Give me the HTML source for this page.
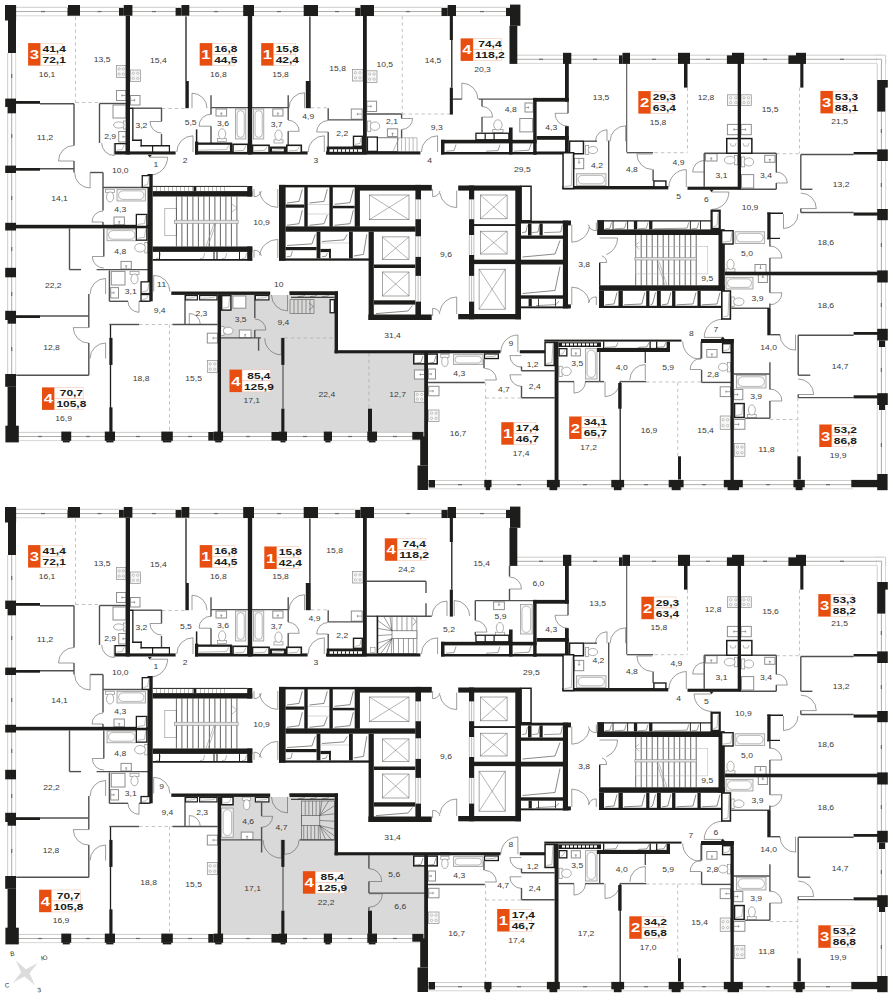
<!DOCTYPE html>
<html><head><meta charset="utf-8"><title>plan</title>
<style>
html,body{margin:0;padding:0;background:#fff}
svg{display:block}
text{font-family:"Liberation Sans",sans-serif}
</style></head><body>
<svg width="893" height="1000" viewBox="0 0 893 1000">
<rect x="0" y="0" width="893" height="1000" fill="#fff"/>
<g><path d="M219 294.9 L336 294.9 L336 351.5 L426 351.5 L426 432.5 L219 432.5 Z" fill="#d9d9d9" stroke="none" stroke-width="0"/>
<path d="M156 258.6 L159.5 258 L160.6 253" fill="none" stroke="#8e8e8d" stroke-width="0.6"/>
<path d="M200 258.6 L203.5 258 L204.6 253" fill="none" stroke="#8e8e8d" stroke-width="0.6"/>
<path d="M222 258.6 L225.5 258 L226.6 253" fill="none" stroke="#8e8e8d" stroke-width="0.6"/>
<path d="M242 258.6 L245.5 258 L246.6 253" fill="none" stroke="#8e8e8d" stroke-width="0.6"/>
<rect x="164.8" y="208.6" width="11.6" height="27.1" fill="none" stroke="#8e8e8d" stroke-width="0.6"/>
<line x1="176.4" y1="196.5" x2="176.4" y2="246.5" stroke="#4a4a49" stroke-width="0.85"/>
<line x1="181.9" y1="196.5" x2="181.9" y2="246.5" stroke="#4a4a49" stroke-width="0.85"/>
<line x1="187.4" y1="196.5" x2="187.4" y2="246.5" stroke="#4a4a49" stroke-width="0.85"/>
<line x1="192.9" y1="196.5" x2="192.9" y2="246.5" stroke="#4a4a49" stroke-width="0.85"/>
<line x1="198.4" y1="196.5" x2="198.4" y2="246.5" stroke="#4a4a49" stroke-width="0.85"/>
<line x1="203.9" y1="196.5" x2="203.9" y2="246.5" stroke="#4a4a49" stroke-width="0.85"/>
<line x1="209.4" y1="196.5" x2="209.4" y2="246.5" stroke="#4a4a49" stroke-width="0.85"/>
<line x1="214.9" y1="196.5" x2="214.9" y2="246.5" stroke="#4a4a49" stroke-width="0.85"/>
<line x1="220.4" y1="196.5" x2="220.4" y2="246.5" stroke="#4a4a49" stroke-width="0.85"/>
<line x1="225.9" y1="196.5" x2="225.9" y2="246.5" stroke="#4a4a49" stroke-width="0.85"/>
<line x1="231.4" y1="196.5" x2="231.4" y2="246.5" stroke="#4a4a49" stroke-width="0.85"/>
<line x1="236.9" y1="196.5" x2="236.9" y2="246.5" stroke="#4a4a49" stroke-width="0.85"/>
<rect x="174.3" y="220.2" width="63.9" height="3.1" fill="#e3e3e3" stroke="#8e8e8d" stroke-width="0.6"/>
<line x1="206" y1="246.5" x2="214" y2="223.3" stroke="#8e8e8d" stroke-width="0.6"/>
<line x1="208" y1="246.5" x2="216" y2="223.3" stroke="#8e8e8d" stroke-width="0.6"/>
<path d="M232 204 L236.9 208 L232 212" fill="none" stroke="#8e8e8d" stroke-width="0.6"/>
<path d="M287 203 L299 201.4 L302.3 189.3" fill="none" stroke="#3a3a39" stroke-width="0.6"/>
<path d="M309.5 203 L324 201.4 L327.3 189.3" fill="none" stroke="#3a3a39" stroke-width="0.6"/>
<path d="M334.5 204.3 L350 202.7 L353.3 189.3" fill="none" stroke="#3a3a39" stroke-width="0.6"/>
<path d="M287 225.3 L299 223.7 L302.3 210.3" fill="none" stroke="#3a3a39" stroke-width="0.6"/>
<path d="M309.5 225.3 L324 223.7 L327.3 215" fill="none" stroke="#3a3a39" stroke-width="0.6"/>
<path d="M334.5 225.3 L350 223.7 L353.3 210.3" fill="none" stroke="#3a3a39" stroke-width="0.6"/>
<path d="M287 245.5 L312 243.9 L315.3 234.3" fill="none" stroke="#3a3a39" stroke-width="0.6"/>
<path d="M322 241.5 L344 239.9 L347.3 234.3" fill="none" stroke="#3a3a39" stroke-width="0.6"/>
<path d="M353.8 256 L363.5 254.4 L366.8 234.3" fill="none" stroke="#3a3a39" stroke-width="0.6"/>
<path d="M286.5 256.8 L291 256.2 L292.3 251" fill="none" stroke="#3a3a39" stroke-width="0.5"/>
<path d="M322 256.8 L326 256.2 L327.3 253.2" fill="none" stroke="#3a3a39" stroke-width="0.5"/>
<rect x="369.4" y="195" width="39.6" height="24.7" fill="none" stroke="#6a6a69" stroke-width="0.6"/>
<line x1="369.4" y1="195" x2="409" y2="219.7" stroke="#6a6a69" stroke-width="0.5"/>
<line x1="369.4" y1="219.7" x2="409" y2="195" stroke="#6a6a69" stroke-width="0.5"/>
<rect x="382.3" y="236.9" width="26.7" height="22.8" fill="none" stroke="#6a6a69" stroke-width="0.6"/>
<line x1="382.3" y1="236.9" x2="409" y2="259.7" stroke="#6a6a69" stroke-width="0.5"/>
<line x1="382.3" y1="259.7" x2="409" y2="236.9" stroke="#6a6a69" stroke-width="0.5"/>
<rect x="382.3" y="272" width="26.7" height="24" fill="none" stroke="#6a6a69" stroke-width="0.6"/>
<line x1="382.3" y1="272" x2="409" y2="296" stroke="#6a6a69" stroke-width="0.5"/>
<line x1="382.3" y1="296" x2="409" y2="272" stroke="#6a6a69" stroke-width="0.5"/>
<path d="M376 313.6 L408 311 L412.5 305.5" fill="none" stroke="#3a3a39" stroke-width="0.6"/>
<rect x="480.4" y="195" width="26.7" height="23.8" fill="none" stroke="#6a6a69" stroke-width="0.6"/>
<line x1="480.4" y1="195" x2="507.1" y2="218.8" stroke="#6a6a69" stroke-width="0.5"/>
<line x1="480.4" y1="218.8" x2="507.1" y2="195" stroke="#6a6a69" stroke-width="0.5"/>
<rect x="480.4" y="231.2" width="26.7" height="22.8" fill="none" stroke="#6a6a69" stroke-width="0.6"/>
<line x1="480.4" y1="231.2" x2="507.1" y2="254" stroke="#6a6a69" stroke-width="0.5"/>
<line x1="480.4" y1="254" x2="507.1" y2="231.2" stroke="#6a6a69" stroke-width="0.5"/>
<rect x="479.1" y="269.2" width="26.1" height="40" fill="none" stroke="#6a6a69" stroke-width="0.6"/>
<line x1="479.1" y1="269.2" x2="505.2" y2="309.2" stroke="#6a6a69" stroke-width="0.5"/>
<line x1="479.1" y1="309.2" x2="505.2" y2="269.2" stroke="#6a6a69" stroke-width="0.5"/>
<path d="M522.5 198 L529 196.8 L530 190" fill="none" stroke="#3a3a39" stroke-width="0.5"/>
<path d="M522.5 257 L555 254 L560 240.5" fill="none" stroke="#3a3a39" stroke-width="0.6"/>
<path d="M522.5 293.5 L555 290.5 L560 266.5" fill="none" stroke="#3a3a39" stroke-width="0.6"/>
<path d="M522.1 232.6 L526 232 L527.4 225" fill="none" stroke="#3a3a39" stroke-width="0.5"/>
<path d="M531.9 232.6 L538 232 L539.4 225" fill="none" stroke="#3a3a39" stroke-width="0.5"/>
<path d="M544.1 232.6 L560.8 232 L562.2 225" fill="none" stroke="#3a3a39" stroke-width="0.5"/>
<path d="M536 305.6 L556 304.6 L559 301" fill="none" stroke="#3a3a39" stroke-width="0.5"/>
<path d="M605.1 228.8 L609.9 228.2 L611.5 222.5" fill="none" stroke="#3a3a39" stroke-width="0.5"/>
<path d="M614.6 228.8 L624.6 228.2 L626.2 222.5" fill="none" stroke="#3a3a39" stroke-width="0.5"/>
<path d="M638.1 228.8 L646.4 228.2 L648 222.5" fill="none" stroke="#3a3a39" stroke-width="0.5"/>
<path d="M653.6 228.8 L687.1 228.2 L688.7 222.5" fill="none" stroke="#3a3a39" stroke-width="0.5"/>
<path d="M691.6 228.8 L697.2 228.2 L698.8 222.5" fill="none" stroke="#3a3a39" stroke-width="0.5"/>
<path d="M605.3 304.8 L614 304 L617 292.5" fill="none" stroke="#3a3a39" stroke-width="0.6"/>
<path d="M624.1 304.8 L641.8 304 L644.8 292.5" fill="none" stroke="#3a3a39" stroke-width="0.6"/>
<path d="M650.6 304.8 L652.5 304 L655.5 292.5" fill="none" stroke="#3a3a39" stroke-width="0.6"/>
<path d="M662.1 304.8 L667.8 304 L670.8 292.5" fill="none" stroke="#3a3a39" stroke-width="0.6"/>
<path d="M676.6 304.8 L693 304 L696 292.5" fill="none" stroke="#3a3a39" stroke-width="0.6"/>
<path d="M701.8 304.8 L717 304 L720 292.5" fill="none" stroke="#3a3a39" stroke-width="0.6"/>
<line x1="635.7" y1="235" x2="635.7" y2="285.3" stroke="#4a4a49" stroke-width="0.85"/>
<line x1="641.2" y1="235" x2="641.2" y2="285.3" stroke="#4a4a49" stroke-width="0.85"/>
<line x1="646.7" y1="235" x2="646.7" y2="285.3" stroke="#4a4a49" stroke-width="0.85"/>
<line x1="652.2" y1="235" x2="652.2" y2="285.3" stroke="#4a4a49" stroke-width="0.85"/>
<line x1="657.7" y1="235" x2="657.7" y2="285.3" stroke="#4a4a49" stroke-width="0.85"/>
<line x1="663.2" y1="235" x2="663.2" y2="285.3" stroke="#4a4a49" stroke-width="0.85"/>
<line x1="668.7" y1="235" x2="668.7" y2="285.3" stroke="#4a4a49" stroke-width="0.85"/>
<line x1="674.2" y1="235" x2="674.2" y2="285.3" stroke="#4a4a49" stroke-width="0.85"/>
<line x1="679.7" y1="235" x2="679.7" y2="285.3" stroke="#4a4a49" stroke-width="0.85"/>
<line x1="685.2" y1="235" x2="685.2" y2="285.3" stroke="#4a4a49" stroke-width="0.85"/>
<line x1="690.7" y1="235" x2="690.7" y2="285.3" stroke="#4a4a49" stroke-width="0.85"/>
<line x1="696.2" y1="235" x2="696.2" y2="285.3" stroke="#4a4a49" stroke-width="0.85"/>
<rect x="635.7" y="246.4" width="72.1" height="27.5" fill="none" stroke="#b0b0af" stroke-width="0.5"/>
<rect x="634.8" y="257.7" width="61.7" height="2.3" fill="#e3e3e3" stroke="#8e8e8d" stroke-width="0.6"/>
<line x1="657" y1="261.6" x2="665" y2="285.3" stroke="#8e8e8d" stroke-width="0.6"/>
<line x1="659" y1="261.6" x2="667" y2="285.3" stroke="#8e8e8d" stroke-width="0.6"/>
<path d="M639.3 242 L635.3 245.4 L639.3 249.5" fill="none" stroke="#8e8e8d" stroke-width="0.6"/>
<path d="M446 151.2 L454 150.6 L456 144.5" fill="none" stroke="#3a3a39" stroke-width="0.5"/>
<path d="M486 151.2 L498 150.6 L500 144.5" fill="none" stroke="#3a3a39" stroke-width="0.5"/>
<path d="M514 151.2 L529 150.2 L532 141" fill="none" stroke="#3a3a39" stroke-width="0.5"/>
<path d="M605 347.4 L616 346.8 L618 342.5" fill="none" stroke="#3a3a39" stroke-width="0.5"/>
<path d="M638 347.4 L647 346.8 L649 342.5" fill="none" stroke="#3a3a39" stroke-width="0.5"/>
<path d="M657 347.4 L664 346.8 L666 342.5" fill="none" stroke="#3a3a39" stroke-width="0.5"/>
<path d="M298 296.6 L304 296 L305.5 293.6" fill="none" stroke="#3a3a39" stroke-width="0.5"/>
<path d="M310 296.6 L316 296 L317.5 293.6" fill="none" stroke="#3a3a39" stroke-width="0.5"/>
<path d="M322 296.6 L328 296 L329.5 293.6" fill="none" stroke="#3a3a39" stroke-width="0.5"/>
<line x1="75.5" y1="16.7" x2="75.5" y2="102.5" stroke="#a9a9a8" stroke-width="0.7" stroke-dasharray="3.4 3"/>
<line x1="75.5" y1="102.5" x2="99.5" y2="102.5" stroke="#a9a9a8" stroke-width="0.7" stroke-dasharray="3.4 3"/>
<line x1="162" y1="108.5" x2="185.4" y2="108.5" stroke="#a9a9a8" stroke-width="0.7" stroke-dasharray="3.4 3"/>
<rect x="116.5" y="65.5" width="9.5" height="12" fill="#f6f6f6" stroke="#8e8e8d" stroke-width="0.7"/>
<circle cx="119.16" cy="68.86" r="1.15" fill="#fff" stroke="#8e8e8d" stroke-width="0.5"/>
<circle cx="119.16" cy="74.14" r="1.15" fill="#fff" stroke="#8e8e8d" stroke-width="0.5"/>
<circle cx="123.34" cy="68.86" r="1.15" fill="#fff" stroke="#8e8e8d" stroke-width="0.5"/>
<circle cx="123.34" cy="74.14" r="1.15" fill="#fff" stroke="#8e8e8d" stroke-width="0.5"/>
<rect x="130.5" y="70" width="10" height="11.5" fill="#f6f6f6" stroke="#8e8e8d" stroke-width="0.7"/>
<circle cx="133.3" cy="73.22" r="1.15" fill="#fff" stroke="#8e8e8d" stroke-width="0.5"/>
<circle cx="133.3" cy="78.28" r="1.15" fill="#fff" stroke="#8e8e8d" stroke-width="0.5"/>
<circle cx="137.7" cy="73.22" r="1.15" fill="#fff" stroke="#8e8e8d" stroke-width="0.5"/>
<circle cx="137.7" cy="78.28" r="1.15" fill="#fff" stroke="#8e8e8d" stroke-width="0.5"/>
<rect x="116.5" y="90.5" width="9.5" height="10" fill="#fff" stroke="#8e8e8d" stroke-width="1"/>
<line x1="121.25" y1="95.5" x2="125.5" y2="95.5" stroke="#6a6a69" stroke-width="0.6"/>
<line x1="122.05" y1="94.3" x2="122.05" y2="96.7" stroke="#6a6a69" stroke-width="0.5"/>
<rect x="130.5" y="95.5" width="9.5" height="9.5" fill="#fff" stroke="#8e8e8d" stroke-width="1"/>
<line x1="135.25" y1="100.25" x2="131" y2="100.25" stroke="#6a6a69" stroke-width="0.6"/>
<line x1="134.45" y1="99.05" x2="134.45" y2="101.45" stroke="#6a6a69" stroke-width="0.5"/>
<rect x="113" y="105" width="13" height="13" fill="#fff" stroke="#8e8e8d" stroke-width="1"/>
<rect x="123.6" y="121" width="3.2" height="8" fill="#fff" stroke="#8e8e8d" stroke-width="0.7"/>
<ellipse cx="118.85" cy="125" rx="5.35" ry="3.1" fill="#fff" stroke="#8e8e8d" stroke-width="0.7"/>
<rect x="118.7" y="131.5" width="7.3" height="10.5" fill="#fff" stroke="#8e8e8d" stroke-width="1"/>
<line x1="122.35" y1="136.75" x2="125.5" y2="136.75" stroke="#6a6a69" stroke-width="0.6"/>
<line x1="123.15" y1="135.55" x2="123.15" y2="137.95" stroke="#6a6a69" stroke-width="0.5"/>
<rect x="105.6" y="189.3" width="9" height="3.2" fill="#fff" stroke="#8e8e8d" stroke-width="0.7"/>
<ellipse cx="110.1" cy="196.95" rx="3.6" ry="5.05" fill="#fff" stroke="#8e8e8d" stroke-width="0.7"/>
<rect x="117" y="189.3" width="28.5" height="11.7" fill="#f3f3f3" stroke="#8e8e8d" stroke-width="0.7"/>
<rect x="118.6" y="190.9" width="25.3" height="8.5" fill="#fff" stroke="#8e8e8d" stroke-width="0.6" rx="4.25"/>
<rect x="114" y="217" width="10.4" height="7.8" fill="#fff" stroke="#8e8e8d" stroke-width="1"/>
<line x1="119.2" y1="220.9" x2="119.2" y2="224.3" stroke="#6a6a69" stroke-width="0.6"/>
<line x1="118" y1="221.7" x2="120.4" y2="221.7" stroke="#6a6a69" stroke-width="0.5"/>
<rect x="216" y="109" width="10.6" height="7" fill="#fff" stroke="#8e8e8d" stroke-width="1"/>
<line x1="221.3" y1="112.5" x2="221.3" y2="115.5" stroke="#6a6a69" stroke-width="0.6"/>
<line x1="220.1" y1="113.3" x2="222.5" y2="113.3" stroke="#6a6a69" stroke-width="0.5"/>
<rect x="217.6" y="138.4" width="9" height="3.2" fill="#fff" stroke="#8e8e8d" stroke-width="0.7"/>
<ellipse cx="222.1" cy="133.9" rx="3.6" ry="5.1" fill="#fff" stroke="#8e8e8d" stroke-width="0.7"/>
<rect x="235.5" y="109" width="10.3" height="30" fill="#f3f3f3" stroke="#8e8e8d" stroke-width="0.7"/>
<rect x="237.1" y="110.6" width="7.1" height="26.8" fill="#fff" stroke="#8e8e8d" stroke-width="0.6" rx="3.55"/>
<line x1="310.7" y1="107.8" x2="328.2" y2="107.8" stroke="#a9a9a8" stroke-width="0.7" stroke-dasharray="3.4 3"/>
<rect x="253.5" y="109" width="10.3" height="30" fill="#f3f3f3" stroke="#8e8e8d" stroke-width="0.7"/>
<rect x="255.1" y="110.6" width="7.1" height="26.8" fill="#fff" stroke="#8e8e8d" stroke-width="0.6" rx="3.55"/>
<rect x="272.8" y="109" width="10.2" height="7" fill="#fff" stroke="#8e8e8d" stroke-width="1"/>
<line x1="277.9" y1="112.5" x2="277.9" y2="115.5" stroke="#6a6a69" stroke-width="0.6"/>
<line x1="276.7" y1="113.3" x2="279.1" y2="113.3" stroke="#6a6a69" stroke-width="0.5"/>
<rect x="274" y="139.8" width="9" height="3.2" fill="#fff" stroke="#8e8e8d" stroke-width="0.7"/>
<ellipse cx="278.5" cy="135.2" rx="3.6" ry="5.2" fill="#fff" stroke="#8e8e8d" stroke-width="0.7"/>
<rect x="352.6" y="69.5" width="10.4" height="11.5" fill="#f6f6f6" stroke="#8e8e8d" stroke-width="0.7"/>
<circle cx="355.51" cy="72.72" r="1.15" fill="#fff" stroke="#8e8e8d" stroke-width="0.5"/>
<circle cx="355.51" cy="77.78" r="1.15" fill="#fff" stroke="#8e8e8d" stroke-width="0.5"/>
<circle cx="360.09" cy="72.72" r="1.15" fill="#fff" stroke="#8e8e8d" stroke-width="0.5"/>
<circle cx="360.09" cy="77.78" r="1.15" fill="#fff" stroke="#8e8e8d" stroke-width="0.5"/>
<rect x="351.3" y="109" width="10.9" height="10.2" fill="#fff" stroke="#8e8e8d" stroke-width="1"/>
<line x1="356.75" y1="114.1" x2="361.7" y2="114.1" stroke="#6a6a69" stroke-width="0.6"/>
<line x1="357.55" y1="112.9" x2="357.55" y2="115.3" stroke="#6a6a69" stroke-width="0.5"/>
<line x1="654.5" y1="152.7" x2="687.5" y2="152.7" stroke="#a9a9a8" stroke-width="0.7" stroke-dasharray="3.4 3"/>
<rect x="585.5" y="145.5" width="3.2" height="9" fill="#fff" stroke="#8e8e8d" stroke-width="0.7"/>
<ellipse cx="592.85" cy="150" rx="4.75" ry="3.6" fill="#fff" stroke="#8e8e8d" stroke-width="0.7"/>
<rect x="574.4" y="158.4" width="9.3" height="10.3" fill="#fff" stroke="#8e8e8d" stroke-width="1"/>
<line x1="579.05" y1="163.55" x2="579.05" y2="158.9" stroke="#6a6a69" stroke-width="0.6"/>
<line x1="577.85" y1="162.75" x2="580.25" y2="162.75" stroke="#6a6a69" stroke-width="0.5"/>
<rect x="576.5" y="173.8" width="29.5" height="11.6" fill="#f3f3f3" stroke="#8e8e8d" stroke-width="0.7"/>
<rect x="578.1" y="175.4" width="26.3" height="8.4" fill="#fff" stroke="#8e8e8d" stroke-width="0.6" rx="4.2"/>
<line x1="687.5" y1="87.6" x2="687.5" y2="152" stroke="#a9a9a8" stroke-width="0.7" stroke-dasharray="3.4 3"/>
<rect x="727.4" y="94.8" width="11.6" height="10.8" fill="#f6f6f6" stroke="#8e8e8d" stroke-width="0.7"/>
<circle cx="730.65" cy="97.82" r="1.15" fill="#fff" stroke="#8e8e8d" stroke-width="0.5"/>
<circle cx="730.65" cy="102.58" r="1.15" fill="#fff" stroke="#8e8e8d" stroke-width="0.5"/>
<circle cx="735.75" cy="97.82" r="1.15" fill="#fff" stroke="#8e8e8d" stroke-width="0.5"/>
<circle cx="735.75" cy="102.58" r="1.15" fill="#fff" stroke="#8e8e8d" stroke-width="0.5"/>
<rect x="727.4" y="124.4" width="11.6" height="10.3" fill="#fff" stroke="#8e8e8d" stroke-width="1"/>
<line x1="733.2" y1="129.55" x2="738.5" y2="129.55" stroke="#6a6a69" stroke-width="0.6"/>
<line x1="734" y1="128.35" x2="734" y2="130.75" stroke="#6a6a69" stroke-width="0.5"/>
<rect x="705.5" y="153.7" width="11.5" height="7.3" fill="#fff" stroke="#8e8e8d" stroke-width="1"/>
<line x1="711.25" y1="157.35" x2="711.25" y2="160.5" stroke="#6a6a69" stroke-width="0.6"/>
<line x1="710.05" y1="158.15" x2="712.45" y2="158.15" stroke="#6a6a69" stroke-width="0.5"/>
<rect x="734.5" y="155.3" width="3.2" height="9.5" fill="#fff" stroke="#8e8e8d" stroke-width="0.7"/>
<ellipse cx="729.7" cy="160.05" rx="5.4" ry="3.85" fill="#fff" stroke="#8e8e8d" stroke-width="0.7"/>
<line x1="799.5" y1="87.6" x2="799.5" y2="153.2" stroke="#a9a9a8" stroke-width="0.7" stroke-dasharray="3.4 3"/>
<line x1="776.3" y1="153.7" x2="799.5" y2="153.7" stroke="#a9a9a8" stroke-width="0.7" stroke-dasharray="3.4 3"/>
<rect x="741" y="94.8" width="10.3" height="10.8" fill="#f6f6f6" stroke="#8e8e8d" stroke-width="0.7"/>
<circle cx="743.88" cy="97.82" r="1.15" fill="#fff" stroke="#8e8e8d" stroke-width="0.5"/>
<circle cx="743.88" cy="102.58" r="1.15" fill="#fff" stroke="#8e8e8d" stroke-width="0.5"/>
<circle cx="748.42" cy="97.82" r="1.15" fill="#fff" stroke="#8e8e8d" stroke-width="0.5"/>
<circle cx="748.42" cy="102.58" r="1.15" fill="#fff" stroke="#8e8e8d" stroke-width="0.5"/>
<rect x="741" y="124.4" width="10.3" height="10.3" fill="#fff" stroke="#8e8e8d" stroke-width="1"/>
<line x1="746.15" y1="129.55" x2="741.5" y2="129.55" stroke="#6a6a69" stroke-width="0.6"/>
<line x1="745.35" y1="128.35" x2="745.35" y2="130.75" stroke="#6a6a69" stroke-width="0.5"/>
<rect x="741.5" y="157" width="3.2" height="9.9" fill="#fff" stroke="#8e8e8d" stroke-width="0.7"/>
<ellipse cx="748.9" cy="161.95" rx="4.8" ry="4.05" fill="#fff" stroke="#8e8e8d" stroke-width="0.7"/>
<rect x="764.7" y="155.3" width="10.3" height="7" fill="#fff" stroke="#8e8e8d" stroke-width="1"/>
<line x1="769.85" y1="158.8" x2="769.85" y2="161.8" stroke="#6a6a69" stroke-width="0.6"/>
<line x1="768.65" y1="159.6" x2="771.05" y2="159.6" stroke="#6a6a69" stroke-width="0.5"/>
<rect x="741.5" y="174.6" width="12.2" height="13.4" fill="#fff" stroke="#8e8e8d" stroke-width="1"/>
<rect x="735" y="231.8" width="29.7" height="11.6" fill="#f3f3f3" stroke="#8e8e8d" stroke-width="0.7"/>
<rect x="736.6" y="233.4" width="26.5" height="8.4" fill="#fff" stroke="#8e8e8d" stroke-width="0.6" rx="4.2"/>
<rect x="726" y="268.8" width="9" height="3.2" fill="#fff" stroke="#8e8e8d" stroke-width="0.7"/>
<ellipse cx="730.5" cy="264.35" rx="3.6" ry="5.05" fill="#fff" stroke="#8e8e8d" stroke-width="0.7"/>
<rect x="755" y="264.5" width="11" height="9" fill="#fff" stroke="#8e8e8d" stroke-width="1"/>
<line x1="760.5" y1="269" x2="760.5" y2="265" stroke="#6a6a69" stroke-width="0.6"/>
<line x1="759.3" y1="268.2" x2="761.7" y2="268.2" stroke="#6a6a69" stroke-width="0.5"/>
<rect x="758.3" y="273.5" width="9.1" height="9" fill="#fff" stroke="#8e8e8d" stroke-width="1"/>
<line x1="762.85" y1="278" x2="762.85" y2="274" stroke="#6a6a69" stroke-width="0.6"/>
<line x1="761.65" y1="277.2" x2="764.05" y2="277.2" stroke="#6a6a69" stroke-width="0.5"/>
<rect x="726" y="277.3" width="27" height="11.7" fill="#f3f3f3" stroke="#8e8e8d" stroke-width="0.7"/>
<rect x="727.6" y="278.9" width="23.8" height="8.5" fill="#fff" stroke="#8e8e8d" stroke-width="0.6" rx="4.25"/>
<rect x="731" y="297" width="3.2" height="9.5" fill="#fff" stroke="#8e8e8d" stroke-width="0.7"/>
<ellipse cx="738.8" cy="301.75" rx="5.2" ry="3.85" fill="#fff" stroke="#8e8e8d" stroke-width="0.7"/>
<rect x="736.4" y="375.2" width="29.6" height="12.8" fill="#f3f3f3" stroke="#8e8e8d" stroke-width="0.7"/>
<rect x="738" y="376.8" width="26.4" height="9.6" fill="#fff" stroke="#8e8e8d" stroke-width="0.6" rx="4.8"/>
<rect x="747.5" y="414.5" width="8.7" height="3.2" fill="#fff" stroke="#8e8e8d" stroke-width="0.7"/>
<ellipse cx="751.85" cy="409.95" rx="3.45" ry="5.15" fill="#fff" stroke="#8e8e8d" stroke-width="0.7"/>
<rect x="733.8" y="389.4" width="9" height="10.3" fill="#fff" stroke="#8e8e8d" stroke-width="1"/>
<line x1="738.3" y1="394.55" x2="734.3" y2="394.55" stroke="#6a6a69" stroke-width="0.6"/>
<line x1="737.5" y1="393.35" x2="737.5" y2="395.75" stroke="#6a6a69" stroke-width="0.5"/>
<rect x="733.8" y="419.5" width="11.1" height="9.8" fill="#fff" stroke="#8e8e8d" stroke-width="1"/>
<line x1="739.35" y1="424.4" x2="734.3" y2="424.4" stroke="#6a6a69" stroke-width="0.6"/>
<line x1="738.55" y1="423.2" x2="738.55" y2="425.6" stroke="#6a6a69" stroke-width="0.5"/>
<rect x="734.6" y="443.5" width="10.3" height="12.8" fill="#f6f6f6" stroke="#8e8e8d" stroke-width="0.7"/>
<circle cx="737.48" cy="447.08" r="1.15" fill="#fff" stroke="#8e8e8d" stroke-width="0.5"/>
<circle cx="737.48" cy="452.72" r="1.15" fill="#fff" stroke="#8e8e8d" stroke-width="0.5"/>
<circle cx="742.02" cy="447.08" r="1.15" fill="#fff" stroke="#8e8e8d" stroke-width="0.5"/>
<circle cx="742.02" cy="452.72" r="1.15" fill="#fff" stroke="#8e8e8d" stroke-width="0.5"/>
<line x1="769.9" y1="419.5" x2="797.4" y2="419.5" stroke="#a9a9a8" stroke-width="0.7" stroke-dasharray="3.4 3"/>
<line x1="797.8" y1="397.6" x2="797.8" y2="456.3" stroke="#a9a9a8" stroke-width="0.7" stroke-dasharray="3.4 3"/>
<line x1="646.2" y1="382" x2="701.6" y2="382" stroke="#a9a9a8" stroke-width="0.7" stroke-dasharray="3.4 3"/>
<line x1="677.7" y1="382.4" x2="677.7" y2="456.3" stroke="#a9a9a8" stroke-width="0.7" stroke-dasharray="3.4 3"/>
<rect x="571.3" y="348.7" width="9.1" height="7.2" fill="#fff" stroke="#8e8e8d" stroke-width="1"/>
<line x1="575.85" y1="352.3" x2="575.85" y2="355.4" stroke="#6a6a69" stroke-width="0.6"/>
<line x1="574.65" y1="353.1" x2="577.05" y2="353.1" stroke="#6a6a69" stroke-width="0.5"/>
<rect x="559" y="366.2" width="3.2" height="10.3" fill="#fff" stroke="#8e8e8d" stroke-width="0.7"/>
<ellipse cx="566.45" cy="371.35" rx="4.85" ry="4.25" fill="#fff" stroke="#8e8e8d" stroke-width="0.7"/>
<rect x="585.5" y="348.7" width="11.5" height="30.3" fill="#f3f3f3" stroke="#8e8e8d" stroke-width="0.7"/>
<rect x="587.1" y="350.3" width="8.3" height="27.1" fill="#fff" stroke="#8e8e8d" stroke-width="0.6" rx="4.15"/>
<rect x="706.8" y="349.5" width="10.2" height="7.7" fill="#fff" stroke="#8e8e8d" stroke-width="1"/>
<line x1="711.9" y1="353.35" x2="711.9" y2="356.7" stroke="#6a6a69" stroke-width="0.6"/>
<line x1="710.7" y1="354.15" x2="713.1" y2="354.15" stroke="#6a6a69" stroke-width="0.5"/>
<rect x="727.3" y="362.3" width="3.2" height="9.6" fill="#fff" stroke="#8e8e8d" stroke-width="0.7"/>
<ellipse cx="723.15" cy="367.1" rx="4.75" ry="3.9" fill="#fff" stroke="#8e8e8d" stroke-width="0.7"/>
<rect x="720.2" y="386.8" width="10.3" height="9.8" fill="#fff" stroke="#8e8e8d" stroke-width="1"/>
<line x1="725.35" y1="391.7" x2="730" y2="391.7" stroke="#6a6a69" stroke-width="0.6"/>
<line x1="726.15" y1="390.5" x2="726.15" y2="392.9" stroke="#6a6a69" stroke-width="0.5"/>
<rect x="720.2" y="416" width="10.3" height="13.3" fill="#f6f6f6" stroke="#8e8e8d" stroke-width="0.7"/>
<circle cx="723.08" cy="419.72" r="1.15" fill="#fff" stroke="#8e8e8d" stroke-width="0.5"/>
<circle cx="723.08" cy="425.58" r="1.15" fill="#fff" stroke="#8e8e8d" stroke-width="0.5"/>
<circle cx="727.62" cy="419.72" r="1.15" fill="#fff" stroke="#8e8e8d" stroke-width="0.5"/>
<circle cx="727.62" cy="425.58" r="1.15" fill="#fff" stroke="#8e8e8d" stroke-width="0.5"/>
<line x1="485.6" y1="382.5" x2="485.6" y2="479.5" stroke="#a9a9a8" stroke-width="0.7" stroke-dasharray="3.4 3"/>
<line x1="485.6" y1="398" x2="521.5" y2="398" stroke="#a9a9a8" stroke-width="0.7" stroke-dasharray="3.4 3"/>
<rect x="428.3" y="369" width="7.2" height="10" fill="#fff" stroke="#8e8e8d" stroke-width="1"/>
<line x1="431.9" y1="374" x2="428.8" y2="374" stroke="#6a6a69" stroke-width="0.6"/>
<line x1="431.1" y1="372.8" x2="431.1" y2="375.2" stroke="#6a6a69" stroke-width="0.5"/>
<rect x="440.8" y="354.4" width="8.2" height="3.2" fill="#fff" stroke="#8e8e8d" stroke-width="0.7"/>
<ellipse cx="444.9" cy="361.7" rx="3.2" ry="4.7" fill="#fff" stroke="#8e8e8d" stroke-width="0.7"/>
<rect x="453.4" y="354.7" width="29.6" height="9.9" fill="#f3f3f3" stroke="#8e8e8d" stroke-width="0.7"/>
<rect x="455" y="356.3" width="26.4" height="6.7" fill="#fff" stroke="#8e8e8d" stroke-width="0.6" rx="3.35"/>
<rect x="428.6" y="386.3" width="10.4" height="9.5" fill="#fff" stroke="#8e8e8d" stroke-width="1"/>
<line x1="433.8" y1="391.05" x2="429.1" y2="391.05" stroke="#6a6a69" stroke-width="0.6"/>
<line x1="433" y1="389.85" x2="433" y2="392.25" stroke="#6a6a69" stroke-width="0.5"/>
<rect x="428.6" y="410" width="10.4" height="11.6" fill="#f6f6f6" stroke="#8e8e8d" stroke-width="0.7"/>
<circle cx="431.51" cy="413.25" r="1.15" fill="#fff" stroke="#8e8e8d" stroke-width="0.5"/>
<circle cx="431.51" cy="418.35" r="1.15" fill="#fff" stroke="#8e8e8d" stroke-width="0.5"/>
<circle cx="436.09" cy="413.25" r="1.15" fill="#fff" stroke="#8e8e8d" stroke-width="0.5"/>
<circle cx="436.09" cy="418.35" r="1.15" fill="#fff" stroke="#8e8e8d" stroke-width="0.5"/>
<line x1="139" y1="324.5" x2="172.5" y2="324.5" stroke="#a9a9a8" stroke-width="0.7" stroke-dasharray="3.4 3"/>
<line x1="169.5" y1="324.5" x2="169.5" y2="432" stroke="#a9a9a8" stroke-width="0.7" stroke-dasharray="3.4 3"/>
<rect x="144.8" y="242.6" width="3.2" height="10.3" fill="#fff" stroke="#8e8e8d" stroke-width="0.7"/>
<ellipse cx="140.05" cy="247.75" rx="5.35" ry="4.25" fill="#fff" stroke="#8e8e8d" stroke-width="0.7"/>
<rect x="121" y="261.4" width="10.3" height="7.6" fill="#fff" stroke="#8e8e8d" stroke-width="1"/>
<line x1="126.15" y1="265.2" x2="126.15" y2="268.5" stroke="#6a6a69" stroke-width="0.6"/>
<line x1="124.95" y1="266" x2="127.35" y2="266" stroke="#6a6a69" stroke-width="0.5"/>
<rect x="107" y="229" width="29.5" height="11.8" fill="#f3f3f3" stroke="#8e8e8d" stroke-width="0.7"/>
<rect x="108.6" y="230.6" width="26.3" height="8.6" fill="#fff" stroke="#8e8e8d" stroke-width="0.6" rx="4.3"/>
<rect x="111.3" y="271.4" width="13.7" height="13.6" fill="#fff" stroke="#8e8e8d" stroke-width="1"/>
<rect x="130" y="271.4" width="9" height="3.2" fill="#fff" stroke="#8e8e8d" stroke-width="0.7"/>
<ellipse cx="134.5" cy="278.9" rx="3.6" ry="4.9" fill="#fff" stroke="#8e8e8d" stroke-width="0.7"/>
<rect x="110.7" y="287.6" width="7.8" height="10.4" fill="#fff" stroke="#8e8e8d" stroke-width="1"/>
<line x1="114.6" y1="292.8" x2="111.2" y2="292.8" stroke="#6a6a69" stroke-width="0.6"/>
<line x1="113.8" y1="291.6" x2="113.8" y2="294" stroke="#6a6a69" stroke-width="0.5"/>
<rect x="207.3" y="333.2" width="10.3" height="9.8" fill="#fff" stroke="#8e8e8d" stroke-width="1"/>
<line x1="212.45" y1="338.1" x2="217.1" y2="338.1" stroke="#6a6a69" stroke-width="0.6"/>
<line x1="213.25" y1="336.9" x2="213.25" y2="339.3" stroke="#6a6a69" stroke-width="0.5"/>
<rect x="207.3" y="360.5" width="10.3" height="12.1" fill="#f6f6f6" stroke="#8e8e8d" stroke-width="0.7"/>
<circle cx="210.18" cy="363.89" r="1.15" fill="#fff" stroke="#8e8e8d" stroke-width="0.5"/>
<circle cx="210.18" cy="369.21" r="1.15" fill="#fff" stroke="#8e8e8d" stroke-width="0.5"/>
<circle cx="214.72" cy="363.89" r="1.15" fill="#fff" stroke="#8e8e8d" stroke-width="0.5"/>
<circle cx="214.72" cy="369.21" r="1.15" fill="#fff" stroke="#8e8e8d" stroke-width="0.5"/>
<rect x="366.8" y="70.8" width="10.2" height="11.6" fill="#f6f6f6" stroke="#8e8e8d" stroke-width="0.7"/>
<circle cx="369.66" cy="74.05" r="1.15" fill="#fff" stroke="#8e8e8d" stroke-width="0.5"/>
<circle cx="369.66" cy="79.15" r="1.15" fill="#fff" stroke="#8e8e8d" stroke-width="0.5"/>
<circle cx="374.14" cy="74.05" r="1.15" fill="#fff" stroke="#8e8e8d" stroke-width="0.5"/>
<circle cx="374.14" cy="79.15" r="1.15" fill="#fff" stroke="#8e8e8d" stroke-width="0.5"/>
<rect x="366.8" y="101.2" width="9.8" height="10.3" fill="#fff" stroke="#8e8e8d" stroke-width="1"/>
<line x1="371.7" y1="106.35" x2="367.3" y2="106.35" stroke="#6a6a69" stroke-width="0.6"/>
<line x1="370.9" y1="105.15" x2="370.9" y2="107.55" stroke="#6a6a69" stroke-width="0.5"/>
<rect x="367.6" y="121" width="3.2" height="10.3" fill="#fff" stroke="#8e8e8d" stroke-width="0.7"/>
<ellipse cx="374.95" cy="126.15" rx="4.75" ry="4.25" fill="#fff" stroke="#8e8e8d" stroke-width="0.7"/>
<rect x="387.4" y="128.8" width="10.3" height="7.7" fill="#fff" stroke="#8e8e8d" stroke-width="1"/>
<line x1="392.55" y1="132.65" x2="392.55" y2="136" stroke="#6a6a69" stroke-width="0.6"/>
<line x1="391.35" y1="133.45" x2="393.75" y2="133.45" stroke="#6a6a69" stroke-width="0.5"/>
<line x1="402.3" y1="16" x2="402.3" y2="114" stroke="#a9a9a8" stroke-width="0.7" stroke-dasharray="3.4 3"/>
<line x1="402.3" y1="114" x2="450" y2="114" stroke="#a9a9a8" stroke-width="0.7" stroke-dasharray="3.4 3"/>
<rect x="377" y="137.8" width="20.7" height="13.6" fill="none" stroke="#3a3a39" stroke-width="0.7"/>
<line x1="397.7" y1="137.8" x2="397.7" y2="151.4" stroke="#8e8e8d" stroke-width="0.6"/>
<line x1="401.56" y1="137.8" x2="401.56" y2="151.4" stroke="#8e8e8d" stroke-width="0.6"/>
<line x1="405.42" y1="137.8" x2="405.42" y2="151.4" stroke="#8e8e8d" stroke-width="0.6"/>
<line x1="409.28" y1="137.8" x2="409.28" y2="151.4" stroke="#8e8e8d" stroke-width="0.6"/>
<line x1="413.14" y1="137.8" x2="413.14" y2="151.4" stroke="#8e8e8d" stroke-width="0.6"/>
<line x1="417" y1="137.8" x2="417" y2="151.4" stroke="#8e8e8d" stroke-width="0.6"/>
<line x1="397.7" y1="137.8" x2="417" y2="137.8" stroke="#8e8e8d" stroke-width="0.6"/>
<line x1="393" y1="151.4" x2="399" y2="137.8" stroke="#8e8e8d" stroke-width="0.6"/>
<rect x="370.3" y="145.3" width="4.2" height="5.2" fill="none" stroke="#8e8e8d" stroke-width="0.6"/>
<rect x="525" y="103" width="8.2" height="9" fill="#fff" stroke="#8e8e8d" stroke-width="1"/>
<line x1="529.1" y1="107.5" x2="525.5" y2="107.5" stroke="#6a6a69" stroke-width="0.6"/>
<line x1="528.3" y1="106.3" x2="528.3" y2="108.7" stroke="#6a6a69" stroke-width="0.5"/>
<rect x="519.8" y="118.5" width="12.9" height="13.4" fill="#fff" stroke="#8e8e8d" stroke-width="1"/>
<rect x="492.8" y="129.4" width="10.2" height="3.2" fill="#fff" stroke="#8e8e8d" stroke-width="0.7"/>
<ellipse cx="497.9" cy="124.9" rx="4.2" ry="5.1" fill="#fff" stroke="#8e8e8d" stroke-width="0.7"/>
<line x1="284.4" y1="337.9" x2="334.6" y2="337.9" stroke="#a9a9a8" stroke-width="0.7" stroke-dasharray="3.4 3"/>
<line x1="368.9" y1="353.3" x2="368.9" y2="408.7" stroke="#a9a9a8" stroke-width="0.7" stroke-dasharray="3.4 3"/>
<rect x="290" y="299.7" width="24" height="13.7" fill="none" stroke="#5a5a59" stroke-width="0.6"/>
<line x1="294" y1="299.7" x2="294" y2="313.4" stroke="#5a5a59" stroke-width="0.6"/>
<line x1="298" y1="299.7" x2="298" y2="313.4" stroke="#5a5a59" stroke-width="0.6"/>
<line x1="302" y1="299.7" x2="302" y2="313.4" stroke="#5a5a59" stroke-width="0.6"/>
<line x1="306" y1="299.7" x2="306" y2="313.4" stroke="#5a5a59" stroke-width="0.6"/>
<line x1="310" y1="299.7" x2="310" y2="313.4" stroke="#5a5a59" stroke-width="0.6"/>
<path d="M309 303 L313.5 306.5 L309 310" fill="none" stroke="#5a5a59" stroke-width="0.6"/>
<rect x="232.9" y="296" width="12.9" height="12.2" fill="#fff" stroke="#8e8e8d" stroke-width="1"/>
<rect x="220.8" y="326.3" width="3.2" height="9" fill="#fff" stroke="#8e8e8d" stroke-width="0.7"/>
<ellipse cx="228.2" cy="330.8" rx="4.8" ry="3.6" fill="#fff" stroke="#8e8e8d" stroke-width="0.7"/>
<rect x="239.3" y="330" width="11.7" height="7.9" fill="#fff" stroke="#8e8e8d" stroke-width="1"/>
<line x1="245.15" y1="333.95" x2="245.15" y2="337.4" stroke="#6a6a69" stroke-width="0.6"/>
<line x1="243.95" y1="334.75" x2="246.35" y2="334.75" stroke="#6a6a69" stroke-width="0.5"/>
<rect x="414.4" y="370" width="10.3" height="9" fill="#fff" stroke="#8e8e8d" stroke-width="1"/>
<line x1="419.55" y1="374.5" x2="424.2" y2="374.5" stroke="#6a6a69" stroke-width="0.6"/>
<line x1="420.35" y1="373.3" x2="420.35" y2="375.7" stroke="#6a6a69" stroke-width="0.5"/>
<rect x="414.4" y="391.4" width="10.3" height="10.8" fill="#f6f6f6" stroke="#8e8e8d" stroke-width="0.7"/>
<circle cx="417.28" cy="394.42" r="1.15" fill="#fff" stroke="#8e8e8d" stroke-width="0.5"/>
<circle cx="417.28" cy="399.18" r="1.15" fill="#fff" stroke="#8e8e8d" stroke-width="0.5"/>
<circle cx="421.82" cy="394.42" r="1.15" fill="#fff" stroke="#8e8e8d" stroke-width="0.5"/>
<circle cx="421.82" cy="399.18" r="1.15" fill="#fff" stroke="#8e8e8d" stroke-width="0.5"/>
<line x1="152.7" y1="186.4" x2="247.2" y2="186.4" stroke="#1d1d1b" stroke-width="1"/>
<line x1="152.7" y1="259.9" x2="252.3" y2="259.9" stroke="#1d1d1b" stroke-width="1.6"/>
<line x1="307.7" y1="204.5" x2="329.4" y2="204.5" stroke="#bdbdbc" stroke-width="0.6"/>
<line x1="307.7" y1="214" x2="329.4" y2="214" stroke="#bdbdbc" stroke-width="0.6"/>
<line x1="321" y1="243" x2="349" y2="243" stroke="#bdbdbc" stroke-width="0.6"/>
<line x1="415.6" y1="199.4" x2="415.6" y2="219.2" stroke="#7a7a79" stroke-width="0.5"/>
<line x1="418.1" y1="199.4" x2="418.1" y2="219.2" stroke="#7a7a79" stroke-width="0.5"/>
<line x1="420.6" y1="199.4" x2="420.6" y2="219.2" stroke="#7a7a79" stroke-width="0.5"/>
<line x1="415.6" y1="236.3" x2="415.6" y2="256.9" stroke="#7a7a79" stroke-width="0.5"/>
<line x1="418.1" y1="236.3" x2="418.1" y2="256.9" stroke="#7a7a79" stroke-width="0.5"/>
<line x1="420.6" y1="236.3" x2="420.6" y2="256.9" stroke="#7a7a79" stroke-width="0.5"/>
<line x1="415.6" y1="275.9" x2="415.6" y2="301.6" stroke="#7a7a79" stroke-width="0.5"/>
<line x1="418.1" y1="275.9" x2="418.1" y2="301.6" stroke="#7a7a79" stroke-width="0.5"/>
<line x1="420.6" y1="275.9" x2="420.6" y2="301.6" stroke="#7a7a79" stroke-width="0.5"/>
<line x1="469.3" y1="199.4" x2="469.3" y2="219.2" stroke="#7a7a79" stroke-width="0.5"/>
<line x1="471.6" y1="199.4" x2="471.6" y2="219.2" stroke="#7a7a79" stroke-width="0.5"/>
<line x1="473.9" y1="199.4" x2="473.9" y2="219.2" stroke="#7a7a79" stroke-width="0.5"/>
<line x1="469.3" y1="235" x2="469.3" y2="255" stroke="#7a7a79" stroke-width="0.5"/>
<line x1="471.6" y1="235" x2="471.6" y2="255" stroke="#7a7a79" stroke-width="0.5"/>
<line x1="473.9" y1="235" x2="473.9" y2="255" stroke="#7a7a79" stroke-width="0.5"/>
<line x1="469.3" y1="275.9" x2="469.3" y2="301.6" stroke="#7a7a79" stroke-width="0.5"/>
<line x1="471.6" y1="275.9" x2="471.6" y2="301.6" stroke="#7a7a79" stroke-width="0.5"/>
<line x1="473.9" y1="275.9" x2="473.9" y2="301.6" stroke="#7a7a79" stroke-width="0.5"/>
<line x1="597.4" y1="220.9" x2="711" y2="220.9" stroke="#1d1d1b" stroke-width="1.2"/>
<line x1="599.7" y1="262.8" x2="599.7" y2="285.6" stroke="#1d1d1b" stroke-width="1.4"/>
<line x1="186" y1="16" x2="186" y2="81" stroke="#1d1d1b" stroke-width="1.3"/>
<line x1="309.9" y1="16" x2="309.9" y2="81" stroke="#1d1d1b" stroke-width="1.3"/>
<line x1="451.8" y1="40" x2="451.8" y2="87.6" stroke="#1d1d1b" stroke-width="1.3"/>
<line x1="196.6" y1="129.4" x2="196.6" y2="143" stroke="#1d1d1b" stroke-width="1.5"/>
<line x1="626.7" y1="63" x2="626.7" y2="152" stroke="#505050" stroke-width="1.1"/>
<line x1="620.2" y1="381.6" x2="620.2" y2="480" stroke="#1d1d1b" stroke-width="1.3"/>
<line x1="110.5" y1="324.5" x2="110.5" y2="432" stroke="#1d1d1b" stroke-width="1.3"/>
<line x1="291" y1="297.3" x2="334.6" y2="297.3" stroke="#1d1d1b" stroke-width="1"/>
<line x1="283" y1="364.9" x2="283" y2="408.7" stroke="#3a3a39" stroke-width="1"/>
<line x1="40" y1="103.8" x2="74" y2="103.8" stroke="#505050" stroke-width="1.4"/>
<line x1="74" y1="103.8" x2="74" y2="145.5" stroke="#505050" stroke-width="1.4"/>
<line x1="74" y1="161" x2="74" y2="172.5" stroke="#505050" stroke-width="1.4"/>
<line x1="40" y1="168.7" x2="74" y2="168.7" stroke="#505050" stroke-width="1.4"/>
<line x1="90.1" y1="172.5" x2="103" y2="172.5" stroke="#505050" stroke-width="1.4"/>
<line x1="103" y1="172.5" x2="103" y2="210.5" stroke="#505050" stroke-width="1.4"/>
<line x1="103" y1="222" x2="103" y2="225" stroke="#505050" stroke-width="1.4"/>
<line x1="99.5" y1="103.5" x2="126" y2="103.5" stroke="#505050" stroke-width="1.4"/>
<line x1="99.5" y1="103.5" x2="99.5" y2="143" stroke="#505050" stroke-width="1.4"/>
<line x1="133.5" y1="108.2" x2="162" y2="108.2" stroke="#505050" stroke-width="1.4"/>
<line x1="161.5" y1="108" x2="161.5" y2="121.5" stroke="#505050" stroke-width="1.4"/>
<line x1="161.5" y1="134" x2="161.5" y2="145.5" stroke="#505050" stroke-width="1.4"/>
<line x1="103" y1="187.5" x2="147.5" y2="187.5" stroke="#505050" stroke-width="1.4"/>
<line x1="211" y1="95.3" x2="211" y2="114.6" stroke="#505050" stroke-width="1.4"/>
<line x1="211" y1="107.6" x2="288.2" y2="107.6" stroke="#505050" stroke-width="1.2"/>
<line x1="211" y1="126.2" x2="211" y2="143" stroke="#505050" stroke-width="1.4"/>
<line x1="288.2" y1="95.3" x2="288.2" y2="120" stroke="#505050" stroke-width="1.4"/>
<line x1="288.2" y1="131.3" x2="288.2" y2="147" stroke="#505050" stroke-width="1.4"/>
<line x1="328.2" y1="108.2" x2="328.2" y2="120" stroke="#505050" stroke-width="1.4"/>
<line x1="328.2" y1="119.8" x2="363" y2="119.8" stroke="#505050" stroke-width="1.2"/>
<line x1="328.2" y1="132" x2="328.2" y2="148" stroke="#505050" stroke-width="1.4"/>
<line x1="568" y1="101.7" x2="568" y2="113.3" stroke="#505050" stroke-width="1.4"/>
<line x1="626.7" y1="152.7" x2="653.1" y2="152.7" stroke="#505050" stroke-width="1.3"/>
<line x1="608.7" y1="140.4" x2="608.7" y2="186" stroke="#505050" stroke-width="1.4"/>
<line x1="584.2" y1="141.2" x2="597" y2="141.2" stroke="#505050" stroke-width="1.4"/>
<line x1="653.1" y1="169.5" x2="653.1" y2="181" stroke="#505050" stroke-width="1.4"/>
<line x1="704.2" y1="153.2" x2="704.2" y2="186.7" stroke="#505050" stroke-width="1.4"/>
<line x1="704.2" y1="153.2" x2="737.7" y2="153.2" stroke="#505050" stroke-width="1.4"/>
<line x1="741" y1="153.2" x2="776.3" y2="153.2" stroke="#505050" stroke-width="1.4"/>
<line x1="776.3" y1="153.2" x2="776.3" y2="172.5" stroke="#505050" stroke-width="1.4"/>
<line x1="776.3" y1="183" x2="776.3" y2="189.3" stroke="#505050" stroke-width="1.4"/>
<line x1="741" y1="189.3" x2="776.3" y2="189.3" stroke="#505050" stroke-width="1.4"/>
<line x1="800.8" y1="154.5" x2="853.6" y2="154.5" stroke="#505050" stroke-width="1.4"/>
<line x1="800.8" y1="154.5" x2="800.8" y2="189.3" stroke="#505050" stroke-width="1.4"/>
<line x1="800.8" y1="189.3" x2="812.4" y2="189.3" stroke="#505050" stroke-width="1.4"/>
<line x1="800.8" y1="208.6" x2="800.8" y2="212.5" stroke="#505050" stroke-width="1.4"/>
<line x1="800.8" y1="212.5" x2="853.6" y2="212.5" stroke="#505050" stroke-width="1.4"/>
<line x1="769.9" y1="239.5" x2="769.9" y2="246.4" stroke="#505050" stroke-width="1.4"/>
<line x1="769.9" y1="258" x2="769.9" y2="271.7" stroke="#505050" stroke-width="1.4"/>
<line x1="769.9" y1="275.3" x2="769.9" y2="292.8" stroke="#505050" stroke-width="1.4"/>
<line x1="769.9" y1="303.5" x2="769.9" y2="308.2" stroke="#505050" stroke-width="1.4"/>
<line x1="731.2" y1="308.2" x2="769.9" y2="308.2" stroke="#505050" stroke-width="1.4"/>
<line x1="770.6" y1="334.7" x2="780" y2="334.7" stroke="#505050" stroke-width="1.4"/>
<line x1="798.2" y1="335.3" x2="798.2" y2="375.2" stroke="#505050" stroke-width="1.4"/>
<line x1="798.2" y1="335.3" x2="853.6" y2="335.3" stroke="#505050" stroke-width="1.4"/>
<line x1="798.2" y1="375.2" x2="810.3" y2="375.2" stroke="#505050" stroke-width="1.4"/>
<line x1="798.2" y1="394.5" x2="798.2" y2="397.6" stroke="#505050" stroke-width="1.4"/>
<line x1="798.2" y1="397.6" x2="853.6" y2="397.6" stroke="#505050" stroke-width="1.4"/>
<line x1="733.8" y1="374" x2="769.9" y2="374" stroke="#505050" stroke-width="1.4"/>
<line x1="769.9" y1="362.3" x2="769.9" y2="389.4" stroke="#505050" stroke-width="1.4"/>
<line x1="769.9" y1="401" x2="769.9" y2="418.2" stroke="#505050" stroke-width="1.4"/>
<line x1="744.9" y1="418.2" x2="769.9" y2="418.2" stroke="#505050" stroke-width="1.4"/>
<line x1="558.5" y1="381.6" x2="574" y2="381.6" stroke="#505050" stroke-width="1.4"/>
<line x1="585" y1="381.6" x2="599.7" y2="381.6" stroke="#505050" stroke-width="1.4"/>
<line x1="599.7" y1="348" x2="599.7" y2="381.6" stroke="#505050" stroke-width="1.4"/>
<line x1="599.7" y1="381.6" x2="604" y2="381.6" stroke="#505050" stroke-width="1.4"/>
<line x1="620" y1="381.6" x2="646.2" y2="381.6" stroke="#505050" stroke-width="1.4"/>
<line x1="645.3" y1="352" x2="645.3" y2="363" stroke="#505050" stroke-width="1.4"/>
<line x1="701.6" y1="343" x2="701.6" y2="358.5" stroke="#505050" stroke-width="1.4"/>
<line x1="701.6" y1="370" x2="701.6" y2="382.4" stroke="#505050" stroke-width="1.4"/>
<line x1="701.6" y1="382.4" x2="731.2" y2="382.4" stroke="#505050" stroke-width="1.4"/>
<line x1="427.4" y1="382.5" x2="484.8" y2="382.5" stroke="#505050" stroke-width="1.4"/>
<line x1="484" y1="359.2" x2="484" y2="368.2" stroke="#505050" stroke-width="1.4"/>
<line x1="521.5" y1="370.8" x2="554.6" y2="370.8" stroke="#505050" stroke-width="1.4"/>
<line x1="521.5" y1="397.7" x2="554.6" y2="397.7" stroke="#505050" stroke-width="1.4"/>
<line x1="521.5" y1="366.5" x2="521.5" y2="370.8" stroke="#505050" stroke-width="1.4"/>
<line x1="521.5" y1="386" x2="521.5" y2="397.7" stroke="#505050" stroke-width="1.4"/>
<line x1="69.5" y1="228.4" x2="69.5" y2="269.6" stroke="#505050" stroke-width="1.4"/>
<line x1="69.5" y1="269.6" x2="81" y2="269.6" stroke="#505050" stroke-width="1.4"/>
<line x1="96.6" y1="269.6" x2="148" y2="269.6" stroke="#505050" stroke-width="1.4"/>
<line x1="103.8" y1="228.4" x2="103.8" y2="256.5" stroke="#505050" stroke-width="1.4"/>
<line x1="88.8" y1="294" x2="88.8" y2="316" stroke="#505050" stroke-width="1.4"/>
<line x1="40" y1="316" x2="88.8" y2="316" stroke="#505050" stroke-width="1.4"/>
<line x1="109.4" y1="270.4" x2="109.4" y2="301.3" stroke="#505050" stroke-width="1.4"/>
<line x1="109.4" y1="301.3" x2="128" y2="301.3" stroke="#505050" stroke-width="1.4"/>
<line x1="139" y1="301.3" x2="148" y2="301.3" stroke="#505050" stroke-width="1.4"/>
<line x1="88.8" y1="316" x2="88.8" y2="327.6" stroke="#505050" stroke-width="1.4"/>
<line x1="88.8" y1="343" x2="88.8" y2="375.2" stroke="#505050" stroke-width="1.4"/>
<line x1="16" y1="375.2" x2="88.8" y2="375.2" stroke="#505050" stroke-width="1.4"/>
<line x1="109.4" y1="324.5" x2="139" y2="324.5" stroke="#505050" stroke-width="1.4"/>
<line x1="172.5" y1="324.5" x2="217.6" y2="324.5" stroke="#505050" stroke-width="1.4"/>
<line x1="185" y1="294.9" x2="185" y2="324.5" stroke="#505050" stroke-width="1.4"/>
<line x1="366.8" y1="114" x2="401.6" y2="114" stroke="#505050" stroke-width="1.3"/>
<line x1="401.6" y1="114" x2="401.6" y2="118.5" stroke="#505050" stroke-width="1.4"/>
<line x1="401.6" y1="129.5" x2="401.6" y2="137.8" stroke="#505050" stroke-width="1.4"/>
<line x1="452.9" y1="99.1" x2="461.9" y2="99.1" stroke="#505050" stroke-width="1.4"/>
<line x1="478.6" y1="99.1" x2="533.2" y2="99.1" stroke="#505050" stroke-width="1.4"/>
<line x1="482" y1="99.1" x2="482" y2="106.5" stroke="#505050" stroke-width="1.4"/>
<line x1="482" y1="117.1" x2="482" y2="132.6" stroke="#505050" stroke-width="1.4"/>
<line x1="220" y1="337.9" x2="261" y2="337.9" stroke="#505050" stroke-width="1.4"/>
<line x1="254.8" y1="294.9" x2="254.8" y2="318" stroke="#505050" stroke-width="1.4"/>
<line x1="254.8" y1="330" x2="254.8" y2="337.9" stroke="#505050" stroke-width="1.4"/>
<line x1="258.6" y1="337.9" x2="258.6" y2="350.7" stroke="#505050" stroke-width="1.4"/>
<path d="M254 189 L254 196.6 A7.6 7.6 0 0 0 261.34 190.97" fill="none" stroke="#5a5a59" stroke-width="0.6"/>
<path d="M277.8 189 L277.8 207.4 A18.4 18.4 0 0 1 259.58 191.56" fill="none" stroke="#5a5a59" stroke-width="0.6"/>
<path d="M254 257.8 L254 250.2 A7.6 7.6 0 0 1 261.34 255.83" fill="none" stroke="#5a5a59" stroke-width="0.6"/>
<path d="M277.8 257.8 L277.8 239.4 A18.4 18.4 0 0 0 259.58 255.24" fill="none" stroke="#5a5a59" stroke-width="0.6"/>
<path d="M432.6 189 L432.6 196.6 A7.6 7.6 0 0 0 439.94 190.97" fill="none" stroke="#5a5a59" stroke-width="0.6"/>
<path d="M456.7 190.6 L456.7 207.6 A17 17 0 0 1 439.87 192.97" fill="none" stroke="#5a5a59" stroke-width="0.6"/>
<path d="M432.6 316 L432.6 308.4 A7.6 7.6 0 0 1 439.94 314.03" fill="none" stroke="#5a5a59" stroke-width="0.6"/>
<path d="M456.7 314 L456.7 297 A17 17 0 0 0 439.87 311.63" fill="none" stroke="#5a5a59" stroke-width="0.6"/>
<path d="M571.8 224.5 L571.8 242.2 A17.7 17.7 0 0 0 589.33 226.96" fill="none" stroke="#5a5a59" stroke-width="0.6"/>
<path d="M596.3 222.5 L596.3 230.7 A8.2 8.2 0 0 1 588.38 224.62" fill="none" stroke="#5a5a59" stroke-width="0.6"/>
<path d="M571.8 304.8 L571.8 287.1 A17.7 17.7 0 0 1 589.33 302.34" fill="none" stroke="#5a5a59" stroke-width="0.6"/>
<path d="M596.3 305.1 L596.3 296.9 A8.2 8.2 0 0 0 588.38 302.98" fill="none" stroke="#5a5a59" stroke-width="0.6"/>
<path d="M599.6 238 L617.6 238 A18 18 0 0 1 606.34 254.69" fill="none" stroke="#5a5a59" stroke-width="0.6"/>
<path d="M599.6 262.5 L606.6 262.5 A7 7 0 0 0 601.99 255.92" fill="none" stroke="#5a5a59" stroke-width="0.6"/>
<path d="M74 161 L58.5 161 A15.5 15.5 0 0 1 74 145.5" fill="none" stroke="#5a5a59" stroke-width="0.6"/>
<path d="M90.1 172.5 L90.1 188 A15.5 15.5 0 0 1 74.6 172.5" fill="none" stroke="#5a5a59" stroke-width="0.6"/>
<path d="M114.2 143 L114.2 155.5 A12.5 12.5 0 0 1 101.7 143" fill="none" stroke="#5a5a59" stroke-width="0.6"/>
<path d="M161.5 121.5 L150 121.5 A11.5 11.5 0 0 0 161.5 133" fill="none" stroke="#5a5a59" stroke-width="0.6"/>
<path d="M103 222 L92 222 A11 11 0 0 1 103 211" fill="none" stroke="#5a5a59" stroke-width="0.6"/>
<path d="M149.6 157.2 L167.6 157.2 A18 18 0 0 1 149.6 175.2" fill="none" stroke="#5a5a59" stroke-width="0.6"/>
<path d="M193 152 L193 135.8 A16.2 16.2 0 0 0 176.8 152" fill="none" stroke="#5a5a59" stroke-width="0.6"/>
<path d="M211 126.2 L199 126.2 A12 12 0 0 1 211 114.2" fill="none" stroke="#5a5a59" stroke-width="0.6"/>
<path d="M192 108.2 L192 93.2 A15 15 0 0 1 207 108.2" fill="none" stroke="#5a5a59" stroke-width="0.6"/>
<path d="M304.5 108.2 L304.5 92.7 A15.5 15.5 0 0 0 289 108.2" fill="none" stroke="#5a5a59" stroke-width="0.6"/>
<path d="M288.2 131.3 L299.2 131.3 A11 11 0 0 0 288.2 120.3" fill="none" stroke="#5a5a59" stroke-width="0.6"/>
<path d="M324.3 152 L324.3 135.8 A16.2 16.2 0 0 0 308.1 152" fill="none" stroke="#5a5a59" stroke-width="0.6"/>
<path d="M328.2 132 L316.7 132 A11.5 11.5 0 0 1 328.2 120.5" fill="none" stroke="#5a5a59" stroke-width="0.6"/>
<path d="M437.6 152 L437.6 135.8 A16.2 16.2 0 0 0 421.4 152" fill="none" stroke="#5a5a59" stroke-width="0.6"/>
<path d="M568 113.3 L555 113.3 A13 13 0 0 0 568 126.3" fill="none" stroke="#5a5a59" stroke-width="0.6"/>
<path d="M607 141.3 L607 129.8 A11.5 11.5 0 0 0 595.5 141.3" fill="none" stroke="#5a5a59" stroke-width="0.6"/>
<path d="M625.6 141.3 L625.6 125.8 A15.5 15.5 0 0 0 610.1 141.3" fill="none" stroke="#5a5a59" stroke-width="0.6"/>
<path d="M652.4 154 L636.9 154 A15.5 15.5 0 0 0 652.4 169.5" fill="none" stroke="#5a5a59" stroke-width="0.6"/>
<path d="M704.2 172 L692.7 172 A11.5 11.5 0 0 1 704.2 160.5" fill="none" stroke="#5a5a59" stroke-width="0.6"/>
<path d="M686.3 187 L686.3 169.6 A17.4 17.4 0 0 0 668.9 187" fill="none" stroke="#5a5a59" stroke-width="0.6"/>
<path d="M776.3 183 L787.3 183 A11 11 0 0 0 776.3 172" fill="none" stroke="#5a5a59" stroke-width="0.6"/>
<path d="M800.8 208.6 L816.3 208.6 A15.5 15.5 0 0 0 800.8 193.1" fill="none" stroke="#5a5a59" stroke-width="0.6"/>
<path d="M783.5 214 L783.5 228.5 A14.5 14.5 0 0 0 798 214" fill="none" stroke="#5a5a59" stroke-width="0.6"/>
<path d="M769.9 258 L781.9 258 A12 12 0 0 0 769.9 246" fill="none" stroke="#5a5a59" stroke-width="0.6"/>
<path d="M769.9 292.8 L781.9 292.8 A12 12 0 0 1 769.9 304.8" fill="none" stroke="#5a5a59" stroke-width="0.6"/>
<path d="M795.5 334.7 L795.5 350.2 A15.5 15.5 0 0 1 780 334.7" fill="none" stroke="#5a5a59" stroke-width="0.6"/>
<path d="M798.2 394.5 L813.7 394.5 A15.5 15.5 0 0 0 798.2 379" fill="none" stroke="#5a5a59" stroke-width="0.6"/>
<path d="M769.9 401 L781.9 401 A12 12 0 0 0 769.9 389" fill="none" stroke="#5a5a59" stroke-width="0.6"/>
<path d="M574 381.6 L574 393.1 A11.5 11.5 0 0 0 585.5 381.6" fill="none" stroke="#5a5a59" stroke-width="0.6"/>
<path d="M605 381.6 L605 396.6 A15 15 0 0 0 620 381.6" fill="none" stroke="#5a5a59" stroke-width="0.6"/>
<path d="M645.3 380 L645.3 364.5 A15.5 15.5 0 0 0 629.8 380" fill="none" stroke="#5a5a59" stroke-width="0.6"/>
<path d="M701.6 369.5 L690.1 369.5 A11.5 11.5 0 0 1 701.6 358" fill="none" stroke="#5a5a59" stroke-width="0.6"/>
<path d="M700.5 341.5 L700.5 359.3 A17.8 17.8 0 0 1 682.7 341.5" fill="none" stroke="#5a5a59" stroke-width="0.6"/>
<path d="M722.3 337.4 L704.2 337.4 A18.1 18.1 0 0 1 722.3 319.3" fill="none" stroke="#5a5a59" stroke-width="0.6"/>
<path d="M484.8 380 L496.4 380 A11.6 11.6 0 0 0 484.8 368.4" fill="none" stroke="#5a5a59" stroke-width="0.6"/>
<path d="M517.9 352 L517.9 335 A17 17 0 0 0 500.9 352" fill="none" stroke="#5a5a59" stroke-width="0.6"/>
<path d="M521.5 355.6 L509.9 355.6 A11.6 11.6 0 0 0 521.5 367.2" fill="none" stroke="#5a5a59" stroke-width="0.6"/>
<path d="M521.5 374.8 L509.9 374.8 A11.6 11.6 0 0 0 521.5 386.4" fill="none" stroke="#5a5a59" stroke-width="0.6"/>
<path d="M103.8 256.5 L92.3 256.5 A11.5 11.5 0 0 0 103.8 268" fill="none" stroke="#5a5a59" stroke-width="0.6"/>
<path d="M105.6 294 L105.6 278.5 A15.5 15.5 0 0 0 90.1 294" fill="none" stroke="#5a5a59" stroke-width="0.6"/>
<path d="M139 301.3 L139 312.3 A11 11 0 0 1 128 301.3" fill="none" stroke="#5a5a59" stroke-width="0.6"/>
<path d="M88.8 327.6 L73.3 327.6 A15.5 15.5 0 0 0 88.8 343.1" fill="none" stroke="#5a5a59" stroke-width="0.6"/>
<path d="M105.6 358.5 L105.6 343 A15.5 15.5 0 0 0 90.1 358.5" fill="none" stroke="#5a5a59" stroke-width="0.6"/>
<path d="M189.3 324.5 L189.3 313.5 A11 11 0 0 1 200.3 324.5" fill="none" stroke="#5a5a59" stroke-width="0.6"/>
<path d="M153.7 291.5 L153.7 275.3 A16.2 16.2 0 0 1 169.9 291.5" fill="none" stroke="#5a5a59" stroke-width="0.6"/>
<path d="M287.5 294.9 L287.5 310.9 A16 16 0 0 1 271.5 294.9" fill="none" stroke="#5a5a59" stroke-width="0.6"/>
<path d="M401.6 118.5 L412.6 118.5 A11 11 0 0 1 401.6 129.5" fill="none" stroke="#5a5a59" stroke-width="0.6"/>
<path d="M461.9 99.1 L461.9 83.1 A16 16 0 0 1 477.9 99.1" fill="none" stroke="#5a5a59" stroke-width="0.6"/>
<path d="M482 117.1 L492.6 117.1 A10.6 10.6 0 0 0 482 106.5" fill="none" stroke="#5a5a59" stroke-width="0.6"/>
<path d="M711.5 192 L728.9 192 A17.4 17.4 0 0 1 711.5 209.4" fill="none" stroke="#5a5a59" stroke-width="0.6"/>
<path d="M254.8 330 L265.8 330 A11 11 0 0 0 254.8 319" fill="none" stroke="#5a5a59" stroke-width="0.6"/>
<path d="M281.3 338.3 L281.3 354.8 A16.5 16.5 0 0 1 264.8 338.3" fill="none" stroke="#5a5a59" stroke-width="0.6"/>
<rect x="16" y="6.9" width="494" height="9.3" fill="#fff"/>
<line x1="16" y1="7.3" x2="510" y2="7.3" stroke="#c6c6c5" stroke-width="0.9"/>
<line x1="16" y1="15.8" x2="510" y2="15.8" stroke="#d2d2d1" stroke-width="0.9"/>
<line x1="16" y1="11.55" x2="510" y2="11.55" stroke="#a3a3a2" stroke-width="0.9"/>
<line x1="41" y1="11.55" x2="45" y2="11.55" stroke="#6a6a69" stroke-width="1.2"/>
<line x1="97.5" y1="11.55" x2="101.5" y2="11.55" stroke="#6a6a69" stroke-width="1.2"/>
<line x1="152" y1="11.55" x2="156" y2="11.55" stroke="#6a6a69" stroke-width="1.2"/>
<line x1="214" y1="11.55" x2="218" y2="11.55" stroke="#6a6a69" stroke-width="1.2"/>
<line x1="277" y1="11.55" x2="281" y2="11.55" stroke="#6a6a69" stroke-width="1.2"/>
<line x1="335" y1="11.55" x2="339" y2="11.55" stroke="#6a6a69" stroke-width="1.2"/>
<line x1="406" y1="11.55" x2="410" y2="11.55" stroke="#6a6a69" stroke-width="1.2"/>
<line x1="480" y1="11.55" x2="484" y2="11.55" stroke="#6a6a69" stroke-width="1.2"/>
<rect x="517" y="54.8" width="364.6" height="9" fill="#fff"/>
<line x1="517" y1="55.2" x2="881.6" y2="55.2" stroke="#c6c6c5" stroke-width="0.9"/>
<line x1="517" y1="63.4" x2="881.6" y2="63.4" stroke="#d2d2d1" stroke-width="0.9"/>
<line x1="517" y1="59.3" x2="881.6" y2="59.3" stroke="#a3a3a2" stroke-width="0.9"/>
<line x1="539" y1="59.3" x2="543" y2="59.3" stroke="#6a6a69" stroke-width="1.2"/>
<line x1="593" y1="59.3" x2="597" y2="59.3" stroke="#6a6a69" stroke-width="1.2"/>
<line x1="652" y1="59.3" x2="656" y2="59.3" stroke="#6a6a69" stroke-width="1.2"/>
<line x1="706" y1="59.3" x2="710" y2="59.3" stroke="#6a6a69" stroke-width="1.2"/>
<line x1="763" y1="59.3" x2="767" y2="59.3" stroke="#6a6a69" stroke-width="1.2"/>
<line x1="840" y1="59.3" x2="844" y2="59.3" stroke="#6a6a69" stroke-width="1.2"/>
<rect x="7.3" y="53" width="8.8" height="373" fill="#fff"/>
<line x1="7.7" y1="53" x2="7.7" y2="426" stroke="#c6c6c5" stroke-width="0.9"/>
<line x1="15.7" y1="53" x2="15.7" y2="426" stroke="#d2d2d1" stroke-width="0.9"/>
<line x1="11.7" y1="53" x2="11.7" y2="426" stroke="#a3a3a2" stroke-width="0.9"/>
<line x1="11.7" y1="74" x2="11.7" y2="78" stroke="#6a6a69" stroke-width="1.2"/>
<line x1="11.7" y1="134" x2="11.7" y2="138" stroke="#6a6a69" stroke-width="1.2"/>
<line x1="11.7" y1="196" x2="11.7" y2="200" stroke="#6a6a69" stroke-width="1.2"/>
<line x1="11.7" y1="247" x2="11.7" y2="251" stroke="#6a6a69" stroke-width="1.2"/>
<line x1="11.7" y1="292" x2="11.7" y2="296" stroke="#6a6a69" stroke-width="1.2"/>
<line x1="11.7" y1="347" x2="11.7" y2="351" stroke="#6a6a69" stroke-width="1.2"/>
<rect x="876.8" y="59.2" width="9.2" height="420.8" fill="#fff"/>
<line x1="877.2" y1="59.2" x2="877.2" y2="480" stroke="#c6c6c5" stroke-width="0.9"/>
<line x1="885.6" y1="59.2" x2="885.6" y2="480" stroke="#d2d2d1" stroke-width="0.9"/>
<line x1="881.4" y1="59.2" x2="881.4" y2="480" stroke="#a3a3a2" stroke-width="0.9"/>
<line x1="881.4" y1="129" x2="881.4" y2="133" stroke="#6a6a69" stroke-width="1.2"/>
<line x1="881.4" y1="183" x2="881.4" y2="187" stroke="#6a6a69" stroke-width="1.2"/>
<line x1="881.4" y1="243" x2="881.4" y2="247" stroke="#6a6a69" stroke-width="1.2"/>
<line x1="881.4" y1="303" x2="881.4" y2="307" stroke="#6a6a69" stroke-width="1.2"/>
<line x1="881.4" y1="368" x2="881.4" y2="372" stroke="#6a6a69" stroke-width="1.2"/>
<line x1="881.4" y1="443" x2="881.4" y2="447" stroke="#6a6a69" stroke-width="1.2"/>
<rect x="18" y="432" width="402" height="9" fill="#fff"/>
<line x1="18" y1="432.4" x2="420" y2="432.4" stroke="#c6c6c5" stroke-width="0.9"/>
<line x1="18" y1="440.6" x2="420" y2="440.6" stroke="#d2d2d1" stroke-width="0.9"/>
<line x1="18" y1="436.5" x2="420" y2="436.5" stroke="#a3a3a2" stroke-width="0.9"/>
<line x1="38" y1="436.5" x2="42" y2="436.5" stroke="#6a6a69" stroke-width="1.2"/>
<line x1="86" y1="436.5" x2="90" y2="436.5" stroke="#6a6a69" stroke-width="1.2"/>
<line x1="136" y1="436.5" x2="140" y2="436.5" stroke="#6a6a69" stroke-width="1.2"/>
<line x1="188" y1="436.5" x2="192" y2="436.5" stroke="#6a6a69" stroke-width="1.2"/>
<line x1="246" y1="436.5" x2="250" y2="436.5" stroke="#6a6a69" stroke-width="1.2"/>
<line x1="303" y1="436.5" x2="307" y2="436.5" stroke="#6a6a69" stroke-width="1.2"/>
<line x1="348" y1="436.5" x2="352" y2="436.5" stroke="#6a6a69" stroke-width="1.2"/>
<line x1="393" y1="436.5" x2="397" y2="436.5" stroke="#6a6a69" stroke-width="1.2"/>
<rect x="427" y="480.1" width="426" height="9.1" fill="#fff"/>
<line x1="427" y1="480.5" x2="853" y2="480.5" stroke="#c6c6c5" stroke-width="0.9"/>
<line x1="427" y1="488.8" x2="853" y2="488.8" stroke="#d2d2d1" stroke-width="0.9"/>
<line x1="427" y1="484.65" x2="853" y2="484.65" stroke="#a3a3a2" stroke-width="0.9"/>
<line x1="458" y1="484.65" x2="462" y2="484.65" stroke="#6a6a69" stroke-width="1.2"/>
<line x1="517" y1="484.65" x2="521" y2="484.65" stroke="#6a6a69" stroke-width="1.2"/>
<line x1="583" y1="484.65" x2="587" y2="484.65" stroke="#6a6a69" stroke-width="1.2"/>
<line x1="644" y1="484.65" x2="648" y2="484.65" stroke="#6a6a69" stroke-width="1.2"/>
<line x1="702" y1="484.65" x2="706" y2="484.65" stroke="#6a6a69" stroke-width="1.2"/>
<line x1="766" y1="484.65" x2="770" y2="484.65" stroke="#6a6a69" stroke-width="1.2"/>
<line x1="826" y1="484.65" x2="830" y2="484.65" stroke="#6a6a69" stroke-width="1.2"/>
<rect x="876.8" y="54.8" width="9.2" height="9" fill="#fff"/>
<line x1="876" y1="55.2" x2="885.6" y2="55.2" stroke="#c6c6c5" stroke-width="0.9"/>
<line x1="885.6" y1="55.2" x2="885.6" y2="64" stroke="#c6c6c5" stroke-width="0.9"/>
<line x1="876" y1="59.2" x2="881.6" y2="59.2" stroke="#a3a3a2" stroke-width="0.9"/>
<line x1="881.6" y1="59.2" x2="881.6" y2="64" stroke="#a3a3a2" stroke-width="0.9"/>
<line x1="876" y1="63.4" x2="877.2" y2="63.4" stroke="#d2d2d1" stroke-width="0.9"/>
<rect x="5" y="5" width="11.1" height="15.5" fill="#1d1d1b"/>
<rect x="8" y="20" width="8" height="33" fill="#1d1d1b"/>
<rect x="5.2" y="98.6" width="10.8" height="8.4" fill="#1d1d1b"/>
<rect x="7.7" y="107" width="8.3" height="6.3" fill="#1d1d1b"/>
<rect x="5.2" y="165.6" width="10.8" height="7.4" fill="#1d1d1b"/>
<rect x="5.2" y="222.8" width="10.8" height="7.7" fill="#1d1d1b"/>
<rect x="5.2" y="267.8" width="10.8" height="9.5" fill="#1d1d1b"/>
<rect x="5.2" y="310.8" width="10.8" height="9.2" fill="#1d1d1b"/>
<rect x="7.7" y="320" width="8.3" height="3.7" fill="#1d1d1b"/>
<rect x="5.2" y="374" width="10.8" height="12.8" fill="#1d1d1b"/>
<rect x="7.7" y="386.8" width="8.3" height="39.9" fill="#1d1d1b"/>
<rect x="5.4" y="425.7" width="13.4" height="16.7" fill="#1d1d1b"/>
<rect x="16" y="101" width="24" height="2.8" fill="#1d1d1b"/>
<rect x="16" y="168" width="24" height="2.7" fill="#1d1d1b"/>
<rect x="16" y="224.8" width="132" height="3.6" fill="#1d1d1b"/>
<rect x="16" y="315.2" width="24" height="2.8" fill="#1d1d1b"/>
<rect x="68" y="5" width="12" height="10.7" fill="#1d1d1b"/>
<rect x="67.5" y="8" width="1.5" height="7.7" fill="#1d1d1b"/>
<rect x="119" y="8" width="4.8" height="7.7" fill="#1d1d1b"/>
<rect x="123.8" y="5" width="8.6" height="10.7" fill="#1d1d1b"/>
<rect x="175.6" y="8" width="5.9" height="7.7" fill="#1d1d1b"/>
<rect x="181.5" y="5" width="7.8" height="10.7" fill="#1d1d1b"/>
<rect x="243.2" y="5" width="10.8" height="11" fill="#1d1d1b"/>
<rect x="303.7" y="5" width="14.3" height="11" fill="#1d1d1b"/>
<rect x="355.2" y="8" width="5.3" height="8" fill="#1d1d1b"/>
<rect x="360.5" y="5" width="13.5" height="11" fill="#1d1d1b"/>
<rect x="441.5" y="8" width="6.2" height="8" fill="#1d1d1b"/>
<rect x="447.7" y="5" width="8.3" height="11" fill="#1d1d1b"/>
<rect x="510" y="4.6" width="10.4" height="21.2" fill="#1d1d1b"/>
<rect x="509.5" y="25.8" width="7.8" height="38.1" fill="#1d1d1b"/>
<rect x="506" y="8" width="4" height="8" fill="#1d1d1b"/>
<rect x="563" y="52.8" width="8.3" height="11.1" fill="#1d1d1b"/>
<rect x="619" y="55.4" width="3.5" height="8.5" fill="#1d1d1b"/>
<rect x="622.5" y="52.8" width="7.5" height="11.1" fill="#1d1d1b"/>
<rect x="678" y="52.8" width="12" height="11.1" fill="#1d1d1b"/>
<rect x="726.9" y="55.4" width="5.1" height="8.5" fill="#1d1d1b"/>
<rect x="732" y="52.8" width="12.1" height="11.1" fill="#1d1d1b"/>
<rect x="788.4" y="55.4" width="7.6" height="8.5" fill="#1d1d1b"/>
<rect x="796" y="52.8" width="10" height="11.1" fill="#1d1d1b"/>
<rect x="877.2" y="80" width="8" height="31.6" fill="#1d1d1b"/>
<rect x="885" y="80" width="2.8" height="7.6" fill="#1d1d1b"/>
<rect x="877.2" y="149.4" width="8" height="11.6" fill="#1d1d1b"/>
<rect x="885" y="149.4" width="2.8" height="11.6" fill="#1d1d1b"/>
<rect x="877.2" y="209" width="8" height="11.2" fill="#1d1d1b"/>
<rect x="885" y="209" width="2.8" height="11.2" fill="#1d1d1b"/>
<rect x="877.2" y="270.4" width="8" height="12.1" fill="#1d1d1b"/>
<rect x="885" y="270.4" width="2.8" height="12.1" fill="#1d1d1b"/>
<rect x="877.2" y="328.8" width="8" height="11.7" fill="#1d1d1b"/>
<rect x="885" y="328.8" width="2.8" height="11.7" fill="#1d1d1b"/>
<rect x="877.2" y="393.2" width="8" height="11.8" fill="#1d1d1b"/>
<rect x="885" y="393.2" width="2.8" height="11.8" fill="#1d1d1b"/>
<rect x="879" y="340.5" width="6" height="6.5" fill="#1d1d1b"/>
<rect x="879" y="405" width="6" height="5" fill="#1d1d1b"/>
<rect x="853.6" y="152" width="24.4" height="2.5" fill="#1d1d1b"/>
<rect x="853.6" y="212.5" width="24.4" height="3.1" fill="#1d1d1b"/>
<rect x="724.8" y="271.7" width="153.2" height="3.6" fill="#1d1d1b"/>
<rect x="853.6" y="332" width="24.4" height="2.8" fill="#1d1d1b"/>
<rect x="853.6" y="395.3" width="24.4" height="3.1" fill="#1d1d1b"/>
<rect x="61.3" y="431.6" width="9.9" height="9.2" fill="#1d1d1b"/>
<rect x="62.8" y="440.5" width="6.9" height="1.9" fill="#1d1d1b"/>
<rect x="104.8" y="431.6" width="10.2" height="9.2" fill="#1d1d1b"/>
<rect x="106.3" y="440.5" width="7.2" height="1.9" fill="#1d1d1b"/>
<rect x="161.3" y="431.6" width="11.5" height="9.2" fill="#1d1d1b"/>
<rect x="162.8" y="440.5" width="8.5" height="1.9" fill="#1d1d1b"/>
<rect x="213.7" y="431.6" width="9.4" height="9.2" fill="#1d1d1b"/>
<rect x="215.2" y="440.5" width="6.4" height="1.9" fill="#1d1d1b"/>
<rect x="279" y="431.6" width="8" height="9.2" fill="#1d1d1b"/>
<rect x="280.5" y="440.5" width="5" height="1.9" fill="#1d1d1b"/>
<rect x="323.8" y="431.6" width="8.2" height="9.2" fill="#1d1d1b"/>
<rect x="325.3" y="440.5" width="5.2" height="1.9" fill="#1d1d1b"/>
<rect x="367.3" y="431.6" width="9.7" height="9.2" fill="#1d1d1b"/>
<rect x="368.8" y="440.5" width="6.7" height="1.9" fill="#1d1d1b"/>
<rect x="208.3" y="432" width="5.4" height="8.6" fill="#1d1d1b"/>
<rect x="271.5" y="432" width="7.5" height="8.6" fill="#1d1d1b"/>
<rect x="412.3" y="431.9" width="11.2" height="7.8" fill="#1d1d1b"/>
<rect x="420.2" y="436.4" width="7.8" height="29.1" fill="#1d1d1b"/>
<rect x="417.5" y="465.5" width="10.5" height="24.5" fill="#1d1d1b"/>
<rect x="428.6" y="480" width="6.4" height="7.5" fill="#1d1d1b"/>
<rect x="484.3" y="479.9" width="7.2" height="7.4" fill="#1d1d1b"/>
<rect x="485.74" y="487" width="4.32" height="3.2" fill="#1d1d1b"/>
<rect x="546.9" y="479.9" width="12.9" height="7.4" fill="#1d1d1b"/>
<rect x="549.48" y="487" width="7.74" height="3.2" fill="#1d1d1b"/>
<rect x="611.3" y="479.9" width="12.8" height="7.4" fill="#1d1d1b"/>
<rect x="613.86" y="487" width="7.68" height="3.2" fill="#1d1d1b"/>
<rect x="668.7" y="479.9" width="14.9" height="7.4" fill="#1d1d1b"/>
<rect x="671.68" y="487" width="8.94" height="3.2" fill="#1d1d1b"/>
<rect x="723.8" y="479.9" width="19" height="7.4" fill="#1d1d1b"/>
<rect x="727.6" y="487" width="11.4" height="3.2" fill="#1d1d1b"/>
<rect x="793.4" y="479.9" width="11.4" height="7.4" fill="#1d1d1b"/>
<rect x="795.68" y="487" width="6.84" height="3.2" fill="#1d1d1b"/>
<rect x="851.3" y="479.9" width="26.7" height="7.3" fill="#1d1d1b"/>
<rect x="877.2" y="474" width="10.4" height="16.2" fill="#1d1d1b"/>
<rect x="147.5" y="174" width="5.2" height="127.3" fill="#1d1d1b"/>
<rect x="152.7" y="191.1" width="99.6" height="5.4" fill="#1d1d1b"/>
<rect x="247.2" y="186" width="5.1" height="10.5" fill="#1d1d1b"/>
<rect x="156" y="187" width="0.6" height="4.1" fill="#8a8a89"/>
<rect x="160" y="187" width="0.6" height="4.1" fill="#8a8a89"/>
<rect x="164" y="187" width="0.6" height="4.1" fill="#8a8a89"/>
<rect x="168" y="187" width="0.6" height="4.1" fill="#8a8a89"/>
<rect x="172" y="187" width="0.6" height="4.1" fill="#8a8a89"/>
<rect x="176" y="187" width="0.6" height="4.1" fill="#8a8a89"/>
<rect x="180" y="187" width="0.6" height="4.1" fill="#8a8a89"/>
<rect x="184" y="187" width="0.6" height="4.1" fill="#8a8a89"/>
<rect x="188" y="187" width="0.6" height="4.1" fill="#8a8a89"/>
<rect x="192" y="187" width="0.6" height="4.1" fill="#8a8a89"/>
<rect x="196" y="187" width="0.6" height="4.1" fill="#8a8a89"/>
<rect x="200" y="187" width="0.6" height="4.1" fill="#8a8a89"/>
<rect x="204" y="187" width="0.6" height="4.1" fill="#8a8a89"/>
<rect x="208" y="187" width="0.6" height="4.1" fill="#8a8a89"/>
<rect x="212" y="187" width="0.6" height="4.1" fill="#8a8a89"/>
<rect x="216" y="187" width="0.6" height="4.1" fill="#8a8a89"/>
<rect x="220" y="187" width="0.6" height="4.1" fill="#8a8a89"/>
<rect x="224" y="187" width="0.6" height="4.1" fill="#8a8a89"/>
<rect x="193.5" y="186.4" width="2.5" height="4.7" fill="#1d1d1b"/>
<rect x="152.7" y="246.5" width="99.6" height="5.4" fill="#1d1d1b"/>
<rect x="247.2" y="246.5" width="5.1" height="14.1" fill="#1d1d1b"/>
<rect x="159" y="251.9" width="1" height="8.1" fill="#1d1d1b"/>
<rect x="213.5" y="251.9" width="1" height="8.1" fill="#1d1d1b"/>
<rect x="216.5" y="251.9" width="1" height="8.1" fill="#1d1d1b"/>
<rect x="239" y="251.9" width="1" height="8.1" fill="#1d1d1b"/>
<rect x="279" y="184.9" width="77" height="2.5" fill="#1d1d1b"/>
<rect x="355" y="184.9" width="76.8" height="5.7" fill="#1d1d1b"/>
<rect x="279" y="184.9" width="6.6" height="75.8" fill="#1d1d1b"/>
<rect x="304.3" y="187" width="3.4" height="39.8" fill="#1d1d1b"/>
<rect x="329.4" y="187" width="3.4" height="39.8" fill="#1d1d1b"/>
<rect x="354.7" y="187" width="5.2" height="39.8" fill="#1d1d1b"/>
<rect x="285.6" y="204.5" width="18.7" height="3.2" fill="#1d1d1b"/>
<rect x="332.8" y="205.8" width="21.9" height="2.5" fill="#1d1d1b"/>
<rect x="285.6" y="226.4" width="130" height="5.3" fill="#1d1d1b"/>
<rect x="279" y="258.4" width="90" height="2.3" fill="#1d1d1b"/>
<rect x="316.6" y="231.7" width="3.8" height="26.7" fill="#1d1d1b"/>
<rect x="349" y="231.7" width="3.8" height="26.7" fill="#1d1d1b"/>
<rect x="285.6" y="247" width="31" height="3.2" fill="#1d1d1b"/>
<rect x="320.4" y="248.9" width="10.5" height="3.2" fill="#1d1d1b"/>
<rect x="329" y="248.9" width="1.9" height="9.5" fill="#1d1d1b"/>
<rect x="368.6" y="231.7" width="5.2" height="88.3" fill="#1d1d1b"/>
<rect x="415.4" y="184.9" width="5.6" height="14.5" fill="#1d1d1b"/>
<rect x="415.4" y="219.2" width="5.6" height="17.1" fill="#1d1d1b"/>
<rect x="415.4" y="256.9" width="5.6" height="19" fill="#1d1d1b"/>
<rect x="415.4" y="301.6" width="5.6" height="18.4" fill="#1d1d1b"/>
<rect x="374" y="264.5" width="41.2" height="3.5" fill="#1d1d1b"/>
<rect x="374" y="300.3" width="41.2" height="4.3" fill="#1d1d1b"/>
<rect x="368.4" y="314.5" width="63.3" height="5.5" fill="#1d1d1b"/>
<rect x="458.2" y="185.5" width="62.8" height="5.1" fill="#1d1d1b"/>
<rect x="469" y="185.5" width="5.2" height="13.9" fill="#1d1d1b"/>
<rect x="469" y="219.2" width="5.2" height="15.8" fill="#1d1d1b"/>
<rect x="469" y="255" width="5.2" height="20.9" fill="#1d1d1b"/>
<rect x="469" y="301.6" width="5.2" height="17.7" fill="#1d1d1b"/>
<rect x="515.3" y="190" width="5.7" height="129.3" fill="#1d1d1b"/>
<rect x="474" y="224.1" width="41.9" height="1.9" fill="#1d1d1b"/>
<rect x="474" y="259.7" width="41.9" height="4.4" fill="#1d1d1b"/>
<rect x="458.2" y="314" width="62.8" height="5.3" fill="#1d1d1b"/>
<rect x="521" y="220.7" width="49.9" height="2.8" fill="#1d1d1b"/>
<rect x="562.9" y="220.7" width="5.1" height="87.6" fill="#1d1d1b"/>
<rect x="562.9" y="220.7" width="8" height="4.7" fill="#1d1d1b"/>
<rect x="562.9" y="304.4" width="8" height="3.9" fill="#1d1d1b"/>
<rect x="521" y="235.5" width="42.6" height="3.3" fill="#1d1d1b"/>
<rect x="521" y="259.7" width="42.6" height="4.8" fill="#1d1d1b"/>
<rect x="521" y="295.3" width="42.6" height="3.4" fill="#1d1d1b"/>
<rect x="521" y="306.4" width="48.8" height="1.9" fill="#1d1d1b"/>
<rect x="528" y="223.5" width="3.5" height="12" fill="#1d1d1b"/>
<rect x="539.5" y="223.5" width="3.2" height="12" fill="#1d1d1b"/>
<rect x="528.6" y="298.7" width="3.2" height="7.7" fill="#1d1d1b"/>
<rect x="538" y="298.7" width="0.8" height="7.7" fill="#1d1d1b"/>
<rect x="555" y="298.7" width="0.8" height="7.7" fill="#1d1d1b"/>
<rect x="597.4" y="220.3" width="6.6" height="14.7" fill="#1d1d1b"/>
<rect x="597.4" y="229.4" width="127.3" height="5.6" fill="#1d1d1b"/>
<rect x="633.9" y="221" width="3.3" height="8.4" fill="#1d1d1b"/>
<rect x="649.1" y="221" width="3.3" height="8.4" fill="#1d1d1b"/>
<rect x="612.6" y="221" width="0.9" height="8.4" fill="#1d1d1b"/>
<rect x="627.2" y="221" width="0.9" height="8.4" fill="#1d1d1b"/>
<rect x="689.9" y="221" width="0.9" height="8.4" fill="#1d1d1b"/>
<rect x="700" y="221" width="0.9" height="8.4" fill="#1d1d1b"/>
<rect x="718.5" y="229.4" width="6.3" height="61.4" fill="#1d1d1b"/>
<rect x="599" y="285.3" width="125.7" height="5.5" fill="#1d1d1b"/>
<rect x="599" y="290.8" width="5" height="16.2" fill="#1d1d1b"/>
<rect x="618.5" y="290.8" width="4.3" height="16.2" fill="#1d1d1b"/>
<rect x="646.2" y="290.8" width="3.2" height="16.2" fill="#1d1d1b"/>
<rect x="656.9" y="290.8" width="3.9" height="16.2" fill="#1d1d1b"/>
<rect x="672.1" y="290.8" width="3.3" height="16.2" fill="#1d1d1b"/>
<rect x="697.5" y="290.8" width="3.2" height="16.2" fill="#1d1d1b"/>
<rect x="599" y="305.8" width="125" height="2.2" fill="#1d1d1b"/>
<rect x="125.7" y="15.7" width="4.3" height="138.8" fill="#1d1d1b"/>
<rect x="185.4" y="81" width="3.4" height="27.2" fill="#1d1d1b"/>
<rect x="247.8" y="16" width="4.4" height="138.5" fill="#1d1d1b"/>
<rect x="305.8" y="81" width="4.9" height="27.2" fill="#1d1d1b"/>
<rect x="363" y="16" width="3.8" height="138.5" fill="#1d1d1b"/>
<rect x="449.8" y="15.5" width="3.1" height="24.5" fill="#1d1d1b"/>
<rect x="449.8" y="87.6" width="3.1" height="27" fill="#1d1d1b"/>
<rect x="114.6" y="151.4" width="61" height="3.1" fill="#1d1d1b"/>
<rect x="195" y="151.4" width="112.6" height="3.1" fill="#1d1d1b"/>
<rect x="195" y="141.6" width="3.3" height="12.9" fill="#1d1d1b"/>
<rect x="326" y="151.4" width="94.4" height="3.1" fill="#1d1d1b"/>
<rect x="130" y="107.5" width="3.5" height="1.5" fill="#1d1d1b"/>
<rect x="132.2" y="108" width="1.3" height="33" fill="#1d1d1b"/>
<rect x="132.2" y="139.5" width="9.6" height="1.5" fill="#1d1d1b"/>
<rect x="140.5" y="139.5" width="1.3" height="7" fill="#1d1d1b"/>
<rect x="140.5" y="145" width="29.5" height="1.5" fill="#1d1d1b"/>
<rect x="168.8" y="145" width="1.2" height="7" fill="#1d1d1b"/>
<rect x="152" y="146" width="1.2" height="6" fill="#1d1d1b"/>
<rect x="565" y="63" width="3.8" height="38.7" fill="#1d1d1b"/>
<rect x="533.2" y="97.9" width="35.6" height="3.8" fill="#1d1d1b"/>
<rect x="533.2" y="97.9" width="3.4" height="56.6" fill="#1d1d1b"/>
<rect x="536.6" y="136" width="32.2" height="3.8" fill="#1d1d1b"/>
<rect x="565" y="126.2" width="3.8" height="28.3" fill="#1d1d1b"/>
<rect x="509" y="127.5" width="3.6" height="27" fill="#1d1d1b"/>
<rect x="533.2" y="151.5" width="35.6" height="3" fill="#1d1d1b"/>
<rect x="441" y="139.8" width="95.6" height="3.6" fill="#1d1d1b"/>
<rect x="441" y="152" width="95.6" height="2.5" fill="#1d1d1b"/>
<rect x="441" y="139.8" width="3.5" height="14.7" fill="#1d1d1b"/>
<rect x="562.3" y="186" width="106" height="3.4" fill="#1d1d1b"/>
<rect x="562.3" y="152" width="12.1" height="2.5" fill="#1d1d1b"/>
<rect x="687.5" y="186.7" width="53.5" height="3.1" fill="#1d1d1b"/>
<rect x="737.7" y="63" width="3.3" height="126.3" fill="#1d1d1b"/>
<rect x="684" y="63" width="3.5" height="24.6" fill="#1d1d1b"/>
<rect x="800.3" y="63" width="3.1" height="24.6" fill="#1d1d1b"/>
<rect x="767.3" y="212.5" width="3.3" height="27" fill="#1d1d1b"/>
<rect x="767.3" y="212.5" width="15.7" height="1.5" fill="#1d1d1b"/>
<rect x="767.3" y="237.8" width="12.7" height="1.2" fill="#1d1d1b"/>
<rect x="767.3" y="308.2" width="3.3" height="27.1" fill="#1d1d1b"/>
<rect x="440" y="350.2" width="60.5" height="3.1" fill="#1d1d1b"/>
<rect x="519.8" y="350.2" width="36.2" height="3.1" fill="#1d1d1b"/>
<rect x="544.3" y="339.6" width="137.2" height="2" fill="#1d1d1b"/>
<rect x="558.5" y="342.3" width="42.5" height="4.7" fill="#1d1d1b"/>
<rect x="597" y="347.9" width="73" height="4.1" fill="#1d1d1b"/>
<rect x="666.6" y="341.6" width="3.4" height="10.4" fill="#1d1d1b"/>
<rect x="603" y="341.5" width="1.3" height="6.7" fill="#1d1d1b"/>
<rect x="649.5" y="341.5" width="1.3" height="6.7" fill="#1d1d1b"/>
<rect x="656" y="341.5" width="1.3" height="6.7" fill="#1d1d1b"/>
<rect x="562" y="343.4" width="3" height="2.2" fill="#fff"/>
<rect x="566" y="343.4" width="3" height="2.2" fill="#fff"/>
<rect x="570" y="343.4" width="3" height="2.2" fill="#fff"/>
<rect x="574" y="343.4" width="3" height="2.2" fill="#fff"/>
<rect x="578" y="343.4" width="3" height="2.2" fill="#fff"/>
<rect x="582" y="343.4" width="3" height="2.2" fill="#fff"/>
<rect x="586" y="343.4" width="3" height="2.2" fill="#fff"/>
<rect x="590" y="343.4" width="3" height="2.2" fill="#fff"/>
<rect x="594" y="343.4" width="3" height="2.2" fill="#fff"/>
<rect x="554.6" y="341.7" width="3.9" height="140.3" fill="#1d1d1b"/>
<rect x="618.2" y="383" width="3.4" height="25.7" fill="#1d1d1b"/>
<rect x="701" y="339" width="32.8" height="4" fill="#1d1d1b"/>
<rect x="730.5" y="339" width="3.3" height="143" fill="#1d1d1b"/>
<rect x="678" y="456.3" width="3" height="23.2" fill="#1d1d1b"/>
<rect x="797.4" y="456.3" width="3.4" height="23.2" fill="#1d1d1b"/>
<rect x="424.2" y="353.3" width="3.8" height="83.7" fill="#1d1d1b"/>
<rect x="109.4" y="337.9" width="3.1" height="27" fill="#1d1d1b"/>
<rect x="109.4" y="407.4" width="3.1" height="24.5" fill="#1d1d1b"/>
<rect x="217.6" y="294.9" width="3.4" height="137.1" fill="#1d1d1b"/>
<rect x="171.3" y="291.5" width="98.9" height="3.4" fill="#1d1d1b"/>
<rect x="289.5" y="291.5" width="48.5" height="3.5" fill="#1d1d1b"/>
<rect x="334.6" y="291.5" width="3.4" height="61.8" fill="#1d1d1b"/>
<rect x="334.6" y="350.2" width="115.4" height="3.1" fill="#1d1d1b"/>
<rect x="289.5" y="291.5" width="48.5" height="1.5" fill="#1d1d1b"/>
<rect x="281.3" y="337.9" width="3.1" height="27" fill="#1d1d1b"/>
<rect x="281.3" y="408.7" width="3.1" height="23.2" fill="#1d1d1b"/>
<rect x="368" y="408.7" width="4" height="23.2" fill="#1d1d1b"/>
<path d="M148 155 L151.5 155 L149.7 157.2 Z" fill="#1d1d1b" stroke="#1d1d1b" stroke-width="0.3"/>
<path d="M721 338.9 L724.5 338.9 L722.8 336.8 Z" fill="#1d1d1b" stroke="#1d1d1b" stroke-width="0.3"/>
<path d="M709.8 189.8 L713.3 189.8 L711.5 192 Z" fill="#1d1d1b" stroke="#1d1d1b" stroke-width="0.3"/>
<rect x="135.7" y="213.8" width="11.8" height="13.2" fill="#1d1d1b"/>
<rect x="137" y="215.1" width="9.2" height="10.6" fill="#fff"/>
<path d="M137.6 224.5 L144.6 223.5 L145.6 216.1" fill="none" stroke="#8e8e8d" stroke-width="0.6"/>
<rect x="135.7" y="227" width="11.8" height="13.8" fill="#1d1d1b"/>
<rect x="137" y="228.3" width="9.2" height="11.2" fill="#fff"/>
<path d="M137.6 238.3 L144.6 237.3 L145.6 229.3" fill="none" stroke="#8e8e8d" stroke-width="0.6"/>
<rect x="141.6" y="175" width="9" height="13" fill="#1d1d1b"/>
<rect x="142.9" y="176.3" width="6.4" height="10.4" fill="#fff"/>
<path d="M143.5 185.5 L147.7 184.5 L148.7 177.3" fill="none" stroke="#8e8e8d" stroke-width="0.6"/>
<rect x="140.4" y="293.9" width="10.2" height="7.9" fill="#1d1d1b"/>
<rect x="141.7" y="295.2" width="7.6" height="5.3" fill="#fff"/>
<path d="M142.5 299.5 L145.9 298.9 L148.1 295.8" fill="none" stroke="#8e8e8d" stroke-width="0.6"/>
<rect x="520.4" y="185.5" width="11.4" height="36" fill="#1d1d1b"/>
<rect x="521.9" y="187" width="8.4" height="33" fill="#fff"/>
<rect x="710.5" y="209.6" width="10.3" height="20.4" fill="#1d1d1b"/>
<rect x="712.7" y="211.8" width="5.9" height="16" fill="#fff"/>
<path d="M713.3 226.6 L717 225.6 L718 212.8" fill="none" stroke="#8e8e8d" stroke-width="0.6"/>
<rect x="721" y="230" width="12.8" height="14.7" fill="#1d1d1b"/>
<rect x="722.4" y="231.4" width="10" height="11.9" fill="#fff"/>
<path d="M723 242.1 L730.8 241.1 L731.8 232.4" fill="none" stroke="#8e8e8d" stroke-width="0.6"/>
<rect x="721" y="290.2" width="10.2" height="29.6" fill="#1d1d1b"/>
<rect x="722.6" y="291.8" width="7" height="26.4" fill="#fff"/>
<path d="M723.2 317 L728 316 L729 292.8" fill="none" stroke="#8e8e8d" stroke-width="0.6"/>
<rect x="114.5" y="143" width="12.3" height="9.5" fill="#1d1d1b"/>
<rect x="115.8" y="144.3" width="9.7" height="6.9" fill="#fff"/>
<path d="M116.6 150.2 L122.1 149.6 L124.3 144.9" fill="none" stroke="#8e8e8d" stroke-width="0.6"/>
<rect x="195.9" y="142.5" width="36.3" height="11" fill="#1d1d1b"/>
<rect x="198.2" y="144.8" width="31.7" height="6.4" fill="#fff"/>
<path d="M199 150.2 L226.5 149.6 L228.7 145.4" fill="none" stroke="#8e8e8d" stroke-width="0.6"/>
<rect x="232.2" y="143.5" width="16.5" height="10" fill="#1d1d1b"/>
<rect x="233.8" y="145.1" width="13.3" height="6.8" fill="#fff"/>
<path d="M234.6 150.9 L243.7 150.3 L245.9 145.7" fill="none" stroke="#8e8e8d" stroke-width="0.6"/>
<rect x="251.7" y="144.5" width="18.2" height="9" fill="#1d1d1b"/>
<rect x="253.3" y="146.1" width="15" height="5.8" fill="#fff"/>
<path d="M254.1 150.9 L264.9 150.3 L267.1 146.7" fill="none" stroke="#8e8e8d" stroke-width="0.6"/>
<rect x="269.9" y="146.5" width="16.1" height="7" fill="#1d1d1b"/>
<rect x="272.1" y="148.7" width="11.7" height="2.6" fill="#fff"/>
<path d="M272.9 150.3 L280.4 149.7 L282.6 149.3" fill="none" stroke="#8e8e8d" stroke-width="0.6"/>
<rect x="286" y="144.5" width="16.1" height="9" fill="#1d1d1b"/>
<rect x="287.6" y="146.1" width="12.9" height="5.8" fill="#fff"/>
<path d="M288.4 150.9 L297.1 150.3 L299.3 146.7" fill="none" stroke="#8e8e8d" stroke-width="0.6"/>
<rect x="326.7" y="146.5" width="36.3" height="8" fill="#1d1d1b"/>
<rect x="329.5" y="149.3" width="32.5" height="2.5" fill="#fff"/>
<rect x="333" y="149.3" width="1" height="2.5" fill="#1d1d1b"/>
<rect x="337" y="149.3" width="1" height="2.5" fill="#1d1d1b"/>
<rect x="341" y="149.3" width="1" height="2.5" fill="#1d1d1b"/>
<rect x="345" y="149.3" width="1" height="2.5" fill="#1d1d1b"/>
<rect x="349" y="149.3" width="1" height="2.5" fill="#1d1d1b"/>
<rect x="353" y="149.3" width="1" height="2.5" fill="#1d1d1b"/>
<rect x="357" y="149.3" width="1" height="2.5" fill="#1d1d1b"/>
<rect x="352.8" y="135.6" width="10.2" height="11.4" fill="#1d1d1b"/>
<rect x="354.2" y="137" width="7.4" height="8.6" fill="#fff"/>
<path d="M354.8 144.4 L360 143.4 L361 138" fill="none" stroke="#8e8e8d" stroke-width="0.6"/>
<rect x="475.3" y="132.6" width="34.2" height="7.8" fill="#1d1d1b"/>
<rect x="476.6" y="133.9" width="31.6" height="5.2" fill="#fff"/>
<rect x="484.6" y="133" width="1.2" height="7" fill="#1d1d1b"/>
<rect x="493.5" y="133" width="1.2" height="7" fill="#1d1d1b"/>
<rect x="568.8" y="140.4" width="15.4" height="14.1" fill="#1d1d1b"/>
<rect x="570.3" y="141.9" width="12.4" height="11.1" fill="#fff"/>
<rect x="562.3" y="152" width="12.1" height="37.3" fill="#1d1d1b"/>
<rect x="563.8" y="153.5" width="9.1" height="34.3" fill="#fff"/>
<path d="M564.4 186.6 L571.3 185.6 L572.3 154.5" fill="none" stroke="#8e8e8d" stroke-width="0.6"/>
<rect x="653.2" y="180.3" width="13.4" height="7.2" fill="#1d1d1b"/>
<rect x="654.6" y="181.7" width="10.6" height="4.4" fill="#fff"/>
<rect x="726" y="137.8" width="26.6" height="16.2" fill="#1d1d1b"/>
<rect x="727.5" y="139.3" width="23.6" height="13.2" fill="#fff"/>
<rect x="737.7" y="137.8" width="3.3" height="16.2" fill="#1d1d1b"/>
<path d="M730 143 L731 146 L735 146 L736 143" fill="none" stroke="#8e8e8d" stroke-width="0.6"/>
<path d="M743 143 L744 146 L748 146 L749 143" fill="none" stroke="#8e8e8d" stroke-width="0.6"/>
<rect x="544.3" y="341.7" width="10.7" height="24.5" fill="#1d1d1b"/>
<rect x="545.8" y="343.2" width="7.7" height="21.5" fill="#fff"/>
<path d="M546.4 363.5 L551.9 362.5 L552.9 344.2" fill="none" stroke="#8e8e8d" stroke-width="0.6"/>
<rect x="558.5" y="348" width="9" height="8.5" fill="#1d1d1b"/>
<rect x="559.8" y="349.3" width="6.4" height="5.9" fill="#fff"/>
<path d="M560.6 354.2 L562.8 353.6 L565 349.9" fill="none" stroke="#8e8e8d" stroke-width="0.6"/>
<rect x="721.9" y="343" width="9.9" height="10.3" fill="#1d1d1b"/>
<rect x="723.3" y="344.4" width="7.1" height="7.5" fill="#fff"/>
<path d="M723.9 350.7 L728.8 349.7 L729.8 345.4" fill="none" stroke="#8e8e8d" stroke-width="0.6"/>
<rect x="733.8" y="402.8" width="11.1" height="15.4" fill="#1d1d1b"/>
<rect x="735.3" y="404.3" width="8.1" height="12.4" fill="#fff"/>
<path d="M735.9 415.5 L741.8 414.5 L742.8 405.3" fill="none" stroke="#8e8e8d" stroke-width="0.6"/>
<rect x="483.9" y="353.3" width="15.1" height="5.9" fill="#1d1d1b"/>
<rect x="485.2" y="354.6" width="12.5" height="3.3" fill="#fff"/>
<path d="M486 356.9 L494.3 356.3 L496.5 355.2" fill="none" stroke="#8e8e8d" stroke-width="0.6"/>
<rect x="413" y="353.3" width="25" height="11.3" fill="#1d1d1b"/>
<rect x="414.5" y="354.8" width="22" height="8.3" fill="#fff"/>
<rect x="424.2" y="353.3" width="3.8" height="11.3" fill="#1d1d1b"/>
<path d="M415 363 L421 362.4 L423 356" fill="none" stroke="#3a3a39" stroke-width="0.5"/>
<path d="M428.5 363 L434 362.4 L436 356" fill="none" stroke="#3a3a39" stroke-width="0.5"/>
<rect x="185" y="294.9" width="13" height="5.6" fill="#1d1d1b"/>
<rect x="186.2" y="296.1" width="10.6" height="3.2" fill="#fff"/>
<path d="M187 298.3 L193.4 297.7 L195.6 296.7" fill="none" stroke="#8e8e8d" stroke-width="0.6"/>
<rect x="199" y="294.9" width="18.6" height="5.6" fill="#1d1d1b"/>
<rect x="200.2" y="296.1" width="16.2" height="3.2" fill="#fff"/>
<path d="M201 298.3 L213 297.7 L215.2 296.7" fill="none" stroke="#8e8e8d" stroke-width="0.6"/>
<rect x="254.8" y="294.9" width="14.7" height="5.6" fill="#1d1d1b"/>
<rect x="256" y="296.1" width="12.3" height="3.2" fill="#fff"/>
<path d="M256.8 298.3 L264.9 297.7 L267.1 296.7" fill="none" stroke="#8e8e8d" stroke-width="0.6"/>
<rect x="366.8" y="136.4" width="11.2" height="15.6" fill="#1d1d1b"/>
<rect x="368.1" y="137.7" width="8.6" height="13" fill="#fff"/>
<rect x="329.5" y="299" width="5.5" height="14.4" fill="#1d1d1b"/>
<rect x="330.8" y="300.3" width="2.9" height="11.8" fill="#fff"/>
<rect x="221" y="294.9" width="10.6" height="15.9" fill="#1d1d1b"/>
<rect x="222.4" y="296.3" width="7.8" height="13.1" fill="#fff"/>
<path d="M223 308.2 L228.6 307.2 L229.6 297.3" fill="none" stroke="#8e8e8d" stroke-width="0.6"/>
<rect x="140.4" y="281.2" width="10.2" height="13" fill="#1d1d1b"/>
<rect x="141.7" y="282.5" width="7.6" height="10.4" fill="#fff"/>
<path d="M142.3 291.7 L147.7 290.7 L148.7 283.5" fill="none" stroke="#8e8e8d" stroke-width="0.6"/>
<rect x="28.1" y="43.1" width="12.6" height="22.5" fill="#e84e0f"/>
<rect x="40.7" y="43.35" width="22" height="11.05" fill="#fff" stroke="#f6b9a0" stroke-width="0.5"/>
<rect x="40.7" y="54.4" width="22" height="10.95" fill="#fff" stroke="#f6b9a0" stroke-width="0.5"/>
<text x="34.4" y="59.17" font-size="13.6" text-anchor="middle" textLength="9.3" lengthAdjust="spacingAndGlyphs" fill="#fff" font-weight="bold">3</text>
<text x="54.2" y="52.04" font-size="9.6" text-anchor="middle" textLength="23.27" lengthAdjust="spacingAndGlyphs" fill="#1d1d1b" font-weight="bold">41,4</text>
<text x="54.2" y="63.04" font-size="9.6" text-anchor="middle" textLength="23.27" lengthAdjust="spacingAndGlyphs" fill="#1d1d1b" font-weight="bold">72,1</text>
<text x="47" y="77.22" font-size="7.6" text-anchor="middle" textLength="16.62" lengthAdjust="spacingAndGlyphs" fill="#3a3a39">16,1</text>
<text x="102.2" y="61.52" font-size="7.6" text-anchor="middle" textLength="16.62" lengthAdjust="spacingAndGlyphs" fill="#3a3a39">13,5</text>
<text x="45" y="140.32" font-size="7.6" text-anchor="middle" textLength="16.62" lengthAdjust="spacingAndGlyphs" fill="#3a3a39">11,2</text>
<text x="110.2" y="138.52" font-size="7.6" text-anchor="middle" textLength="11.87" lengthAdjust="spacingAndGlyphs" fill="#3a3a39">2,9</text>
<text x="120.3" y="172.72" font-size="7.6" text-anchor="middle" textLength="16.62" lengthAdjust="spacingAndGlyphs" fill="#3a3a39">10,0</text>
<text x="59.5" y="201.02" font-size="7.6" text-anchor="middle" textLength="16.62" lengthAdjust="spacingAndGlyphs" fill="#3a3a39">14,1</text>
<text x="120.3" y="212.42" font-size="7.6" text-anchor="middle" textLength="11.87" lengthAdjust="spacingAndGlyphs" fill="#3a3a39">4,3</text>
<text x="155.8" y="167.02" font-size="7.6" text-anchor="middle" textLength="4.75" lengthAdjust="spacingAndGlyphs" fill="#3a3a39">1</text>
<text x="185" y="163.22" font-size="7.6" text-anchor="middle" textLength="4.75" lengthAdjust="spacingAndGlyphs" fill="#3a3a39">2</text>
<rect x="199.7" y="43.1" width="12.6" height="22.5" fill="#e84e0f"/>
<rect x="212.3" y="43.35" width="22" height="11.05" fill="#fff" stroke="#f6b9a0" stroke-width="0.5"/>
<rect x="212.3" y="54.4" width="22" height="10.95" fill="#fff" stroke="#f6b9a0" stroke-width="0.5"/>
<text x="206" y="59.17" font-size="13.6" text-anchor="middle" textLength="9.3" lengthAdjust="spacingAndGlyphs" fill="#fff" font-weight="bold">1</text>
<text x="225.8" y="52.04" font-size="9.6" text-anchor="middle" textLength="23.27" lengthAdjust="spacingAndGlyphs" fill="#1d1d1b" font-weight="bold">16,8</text>
<text x="225.8" y="63.04" font-size="9.6" text-anchor="middle" textLength="23.27" lengthAdjust="spacingAndGlyphs" fill="#1d1d1b" font-weight="bold">44,5</text>
<text x="158.4" y="63.32" font-size="7.6" text-anchor="middle" textLength="16.62" lengthAdjust="spacingAndGlyphs" fill="#3a3a39">15,4</text>
<text x="218.4" y="77.02" font-size="7.6" text-anchor="middle" textLength="16.62" lengthAdjust="spacingAndGlyphs" fill="#3a3a39">16,8</text>
<text x="141.4" y="128.22" font-size="7.6" text-anchor="middle" textLength="11.87" lengthAdjust="spacingAndGlyphs" fill="#3a3a39">3,2</text>
<text x="190.6" y="125.42" font-size="7.6" text-anchor="middle" textLength="11.87" lengthAdjust="spacingAndGlyphs" fill="#3a3a39">5,5</text>
<text x="223" y="126.02" font-size="7.6" text-anchor="middle" textLength="11.87" lengthAdjust="spacingAndGlyphs" fill="#3a3a39">3,6</text>
<rect x="261.2" y="43.1" width="12.6" height="22.5" fill="#e84e0f"/>
<rect x="273.8" y="43.35" width="22" height="11.05" fill="#fff" stroke="#f6b9a0" stroke-width="0.5"/>
<rect x="273.8" y="54.4" width="22" height="10.95" fill="#fff" stroke="#f6b9a0" stroke-width="0.5"/>
<text x="267.5" y="59.17" font-size="13.6" text-anchor="middle" textLength="9.3" lengthAdjust="spacingAndGlyphs" fill="#fff" font-weight="bold">1</text>
<text x="287.3" y="52.04" font-size="9.6" text-anchor="middle" textLength="23.27" lengthAdjust="spacingAndGlyphs" fill="#1d1d1b" font-weight="bold">15,8</text>
<text x="287.3" y="63.04" font-size="9.6" text-anchor="middle" textLength="23.27" lengthAdjust="spacingAndGlyphs" fill="#1d1d1b" font-weight="bold">42,4</text>
<text x="280.5" y="77.02" font-size="7.6" text-anchor="middle" textLength="16.62" lengthAdjust="spacingAndGlyphs" fill="#3a3a39">15,8</text>
<text x="308.3" y="119.22" font-size="7.6" text-anchor="middle" textLength="11.87" lengthAdjust="spacingAndGlyphs" fill="#3a3a39">4,9</text>
<text x="276.7" y="127.42" font-size="7.6" text-anchor="middle" textLength="11.87" lengthAdjust="spacingAndGlyphs" fill="#3a3a39">3,7</text>
<text x="342.3" y="136.22" font-size="7.6" text-anchor="middle" textLength="11.87" lengthAdjust="spacingAndGlyphs" fill="#3a3a39">2,2</text>
<text x="315.8" y="163.22" font-size="7.6" text-anchor="middle" textLength="4.75" lengthAdjust="spacingAndGlyphs" fill="#3a3a39">3</text>
<rect x="638.3" y="91.1" width="12.6" height="22.5" fill="#e84e0f"/>
<rect x="650.9" y="91.35" width="22" height="11.05" fill="#fff" stroke="#f6b9a0" stroke-width="0.5"/>
<rect x="650.9" y="102.4" width="22" height="10.95" fill="#fff" stroke="#f6b9a0" stroke-width="0.5"/>
<text x="644.6" y="107.17" font-size="13.6" text-anchor="middle" textLength="9.3" lengthAdjust="spacingAndGlyphs" fill="#fff" font-weight="bold">2</text>
<text x="664.4" y="100.04" font-size="9.6" text-anchor="middle" textLength="23.27" lengthAdjust="spacingAndGlyphs" fill="#1d1d1b" font-weight="bold">29,3</text>
<text x="664.4" y="111.04" font-size="9.6" text-anchor="middle" textLength="23.27" lengthAdjust="spacingAndGlyphs" fill="#1d1d1b" font-weight="bold">63,4</text>
<text x="601" y="99.92" font-size="7.6" text-anchor="middle" textLength="16.62" lengthAdjust="spacingAndGlyphs" fill="#3a3a39">13,5</text>
<text x="658" y="125.02" font-size="7.6" text-anchor="middle" textLength="16.62" lengthAdjust="spacingAndGlyphs" fill="#3a3a39">15,8</text>
<text x="551.3" y="130.02" font-size="7.6" text-anchor="middle" textLength="11.87" lengthAdjust="spacingAndGlyphs" fill="#3a3a39">4,3</text>
<text x="597" y="168.02" font-size="7.6" text-anchor="middle" textLength="11.87" lengthAdjust="spacingAndGlyphs" fill="#3a3a39">4,2</text>
<text x="631.9" y="172.02" font-size="7.6" text-anchor="middle" textLength="11.87" lengthAdjust="spacingAndGlyphs" fill="#3a3a39">4,8</text>
<text x="522.4" y="172.02" font-size="7.6" text-anchor="middle" textLength="16.62" lengthAdjust="spacingAndGlyphs" fill="#3a3a39">29,5</text>
<text x="678.5" y="164.82" font-size="7.6" text-anchor="middle" textLength="11.87" lengthAdjust="spacingAndGlyphs" fill="#3a3a39">4,9</text>
<text x="721.5" y="178.42" font-size="7.6" text-anchor="middle" textLength="11.87" lengthAdjust="spacingAndGlyphs" fill="#3a3a39">3,1</text>
<text x="839.7" y="124.32" font-size="7.6" text-anchor="middle" textLength="16.62" lengthAdjust="spacingAndGlyphs" fill="#3a3a39">21,5</text>
<text x="766" y="178.42" font-size="7.6" text-anchor="middle" textLength="11.87" lengthAdjust="spacingAndGlyphs" fill="#3a3a39">3,4</text>
<text x="841.2" y="187.02" font-size="7.6" text-anchor="middle" textLength="16.62" lengthAdjust="spacingAndGlyphs" fill="#3a3a39">13,2</text>
<text x="825.8" y="245.42" font-size="7.6" text-anchor="middle" textLength="16.62" lengthAdjust="spacingAndGlyphs" fill="#3a3a39">18,6</text>
<text x="747" y="256.22" font-size="7.6" text-anchor="middle" textLength="11.87" lengthAdjust="spacingAndGlyphs" fill="#3a3a39">5,0</text>
<text x="584.2" y="267.02" font-size="7.6" text-anchor="middle" textLength="11.87" lengthAdjust="spacingAndGlyphs" fill="#3a3a39">3,8</text>
<text x="707.3" y="281.42" font-size="7.6" text-anchor="middle" textLength="11.87" lengthAdjust="spacingAndGlyphs" fill="#3a3a39">9,5</text>
<text x="446" y="256.62" font-size="7.6" text-anchor="middle" textLength="11.87" lengthAdjust="spacingAndGlyphs" fill="#3a3a39">9,6</text>
<text x="261.5" y="225.22" font-size="7.6" text-anchor="middle" textLength="16.62" lengthAdjust="spacingAndGlyphs" fill="#3a3a39">10,9</text>
<text x="392.5" y="337.52" font-size="7.6" text-anchor="middle" textLength="16.62" lengthAdjust="spacingAndGlyphs" fill="#3a3a39">31,4</text>
<text x="750" y="210.02" font-size="7.6" text-anchor="middle" textLength="16.62" lengthAdjust="spacingAndGlyphs" fill="#3a3a39">10,9</text>
<rect x="819.3" y="424.5" width="12.6" height="22.5" fill="#e84e0f"/>
<rect x="831.9" y="424.75" width="22" height="11.05" fill="#fff" stroke="#f6b9a0" stroke-width="0.5"/>
<rect x="831.9" y="435.8" width="22" height="10.95" fill="#fff" stroke="#f6b9a0" stroke-width="0.5"/>
<text x="825.6" y="440.57" font-size="13.6" text-anchor="middle" textLength="9.3" lengthAdjust="spacingAndGlyphs" fill="#fff" font-weight="bold">3</text>
<text x="845.4" y="433.44" font-size="9.6" text-anchor="middle" textLength="23.27" lengthAdjust="spacingAndGlyphs" fill="#1d1d1b" font-weight="bold">53,2</text>
<text x="845.4" y="444.44" font-size="9.6" text-anchor="middle" textLength="23.27" lengthAdjust="spacingAndGlyphs" fill="#1d1d1b" font-weight="bold">86,8</text>
<text x="757.5" y="301.22" font-size="7.6" text-anchor="middle" textLength="11.87" lengthAdjust="spacingAndGlyphs" fill="#3a3a39">3,9</text>
<text x="825.8" y="308.42" font-size="7.6" text-anchor="middle" textLength="16.62" lengthAdjust="spacingAndGlyphs" fill="#3a3a39">18,6</text>
<text x="768.6" y="349.62" font-size="7.6" text-anchor="middle" textLength="16.62" lengthAdjust="spacingAndGlyphs" fill="#3a3a39">14,0</text>
<text x="840.2" y="368.72" font-size="7.6" text-anchor="middle" textLength="16.62" lengthAdjust="spacingAndGlyphs" fill="#3a3a39">14,7</text>
<text x="756.2" y="399.12" font-size="7.6" text-anchor="middle" textLength="11.87" lengthAdjust="spacingAndGlyphs" fill="#3a3a39">3,9</text>
<text x="766.5" y="451.92" font-size="7.6" text-anchor="middle" textLength="16.62" lengthAdjust="spacingAndGlyphs" fill="#3a3a39">11,8</text>
<text x="838.1" y="457.82" font-size="7.6" text-anchor="middle" textLength="16.62" lengthAdjust="spacingAndGlyphs" fill="#3a3a39">19,9</text>
<text x="577.3" y="366.12" font-size="7.6" text-anchor="middle" textLength="11.87" lengthAdjust="spacingAndGlyphs" fill="#3a3a39">3,5</text>
<text x="621.8" y="369.52" font-size="7.6" text-anchor="middle" textLength="11.87" lengthAdjust="spacingAndGlyphs" fill="#3a3a39">4,0</text>
<text x="668.2" y="369.52" font-size="7.6" text-anchor="middle" textLength="11.87" lengthAdjust="spacingAndGlyphs" fill="#3a3a39">5,9</text>
<text x="713.2" y="377.02" font-size="7.6" text-anchor="middle" textLength="11.87" lengthAdjust="spacingAndGlyphs" fill="#3a3a39">2,8</text>
<text x="705.5" y="433.32" font-size="7.6" text-anchor="middle" textLength="16.62" lengthAdjust="spacingAndGlyphs" fill="#3a3a39">15,4</text>
<text x="459.3" y="376.22" font-size="7.6" text-anchor="middle" textLength="11.87" lengthAdjust="spacingAndGlyphs" fill="#3a3a39">4,3</text>
<text x="532.7" y="367.42" font-size="7.6" text-anchor="middle" textLength="11.87" lengthAdjust="spacingAndGlyphs" fill="#3a3a39">1,2</text>
<text x="534.8" y="389.32" font-size="7.6" text-anchor="middle" textLength="11.87" lengthAdjust="spacingAndGlyphs" fill="#3a3a39">2,4</text>
<text x="503.9" y="391.62" font-size="7.6" text-anchor="middle" textLength="11.87" lengthAdjust="spacingAndGlyphs" fill="#3a3a39">4,7</text>
<rect x="42" y="387.4" width="12.6" height="22.5" fill="#e84e0f"/>
<rect x="54.6" y="387.65" width="28.54" height="11.05" fill="#fff" stroke="#f6b9a0" stroke-width="0.5"/>
<rect x="54.6" y="398.7" width="28.54" height="10.95" fill="#fff" stroke="#f6b9a0" stroke-width="0.5"/>
<text x="48.3" y="403.47" font-size="13.6" text-anchor="middle" textLength="9.3" lengthAdjust="spacingAndGlyphs" fill="#fff" font-weight="bold">4</text>
<text x="71.37" y="396.34" font-size="9.6" text-anchor="middle" textLength="23.27" lengthAdjust="spacingAndGlyphs" fill="#1d1d1b" font-weight="bold">70,7</text>
<text x="71.37" y="407.34" font-size="9.6" text-anchor="middle" textLength="29.83" lengthAdjust="spacingAndGlyphs" fill="#1d1d1b" font-weight="bold">105,8</text>
<text x="120.3" y="254.12" font-size="7.6" text-anchor="middle" textLength="11.87" lengthAdjust="spacingAndGlyphs" fill="#3a3a39">4,8</text>
<text x="53.3" y="288.42" font-size="7.6" text-anchor="middle" textLength="16.62" lengthAdjust="spacingAndGlyphs" fill="#3a3a39">22,2</text>
<text x="130.8" y="293.82" font-size="7.6" text-anchor="middle" textLength="11.87" lengthAdjust="spacingAndGlyphs" fill="#3a3a39">3,1</text>
<text x="159.7" y="312.82" font-size="7.6" text-anchor="middle" textLength="11.87" lengthAdjust="spacingAndGlyphs" fill="#3a3a39">9,4</text>
<text x="201.4" y="316.42" font-size="7.6" text-anchor="middle" textLength="11.87" lengthAdjust="spacingAndGlyphs" fill="#3a3a39">2,3</text>
<text x="51.5" y="349.62" font-size="7.6" text-anchor="middle" textLength="16.62" lengthAdjust="spacingAndGlyphs" fill="#3a3a39">12,8</text>
<text x="141.1" y="381.02" font-size="7.6" text-anchor="middle" textLength="16.62" lengthAdjust="spacingAndGlyphs" fill="#3a3a39">18,8</text>
<text x="193.7" y="381.02" font-size="7.6" text-anchor="middle" textLength="16.62" lengthAdjust="spacingAndGlyphs" fill="#3a3a39">15,5</text>
<text x="63.6" y="420.72" font-size="7.6" text-anchor="middle" textLength="16.62" lengthAdjust="spacingAndGlyphs" fill="#3a3a39">16,9</text>
<text x="251.8" y="403.22" font-size="7.6" text-anchor="middle" textLength="16.62" lengthAdjust="spacingAndGlyphs" fill="#3a3a39">17,1</text>
<rect x="460.6" y="38.4" width="12.6" height="22.5" fill="#e84e0f"/>
<rect x="473.2" y="38.65" width="28.54" height="11.05" fill="#fff" stroke="#f6b9a0" stroke-width="0.5"/>
<rect x="473.2" y="49.7" width="28.54" height="10.95" fill="#fff" stroke="#f6b9a0" stroke-width="0.5"/>
<text x="466.9" y="54.47" font-size="13.6" text-anchor="middle" textLength="9.3" lengthAdjust="spacingAndGlyphs" fill="#fff" font-weight="bold">4</text>
<text x="489.97" y="47.34" font-size="9.6" text-anchor="middle" textLength="23.27" lengthAdjust="spacingAndGlyphs" fill="#1d1d1b" font-weight="bold">74,4</text>
<text x="489.97" y="58.34" font-size="9.6" text-anchor="middle" textLength="29.83" lengthAdjust="spacingAndGlyphs" fill="#1d1d1b" font-weight="bold">118,2</text>
<text x="337.7" y="70.52" font-size="7.6" text-anchor="middle" textLength="16.62" lengthAdjust="spacingAndGlyphs" fill="#3a3a39">15,8</text>
<text x="384.8" y="67.22" font-size="7.6" text-anchor="middle" textLength="16.62" lengthAdjust="spacingAndGlyphs" fill="#3a3a39">10,5</text>
<text x="433" y="63.32" font-size="7.6" text-anchor="middle" textLength="16.62" lengthAdjust="spacingAndGlyphs" fill="#3a3a39">14,5</text>
<text x="392" y="123.62" font-size="7.6" text-anchor="middle" textLength="11.87" lengthAdjust="spacingAndGlyphs" fill="#3a3a39">2,1</text>
<text x="436.8" y="130.02" font-size="7.6" text-anchor="middle" textLength="11.87" lengthAdjust="spacingAndGlyphs" fill="#3a3a39">9,3</text>
<text x="482.5" y="71.52" font-size="7.6" text-anchor="middle" textLength="16.62" lengthAdjust="spacingAndGlyphs" fill="#3a3a39">20,3</text>
<text x="510.8" y="112.22" font-size="7.6" text-anchor="middle" textLength="11.87" lengthAdjust="spacingAndGlyphs" fill="#3a3a39">4,8</text>
<text x="429.6" y="163.22" font-size="7.6" text-anchor="middle" textLength="4.75" lengthAdjust="spacingAndGlyphs" fill="#3a3a39">4</text>
<text x="678.5" y="198.82" font-size="7.6" text-anchor="middle" textLength="4.75" lengthAdjust="spacingAndGlyphs" fill="#3a3a39">5</text>
<text x="706.3" y="202.42" font-size="7.6" text-anchor="middle" textLength="4.75" lengthAdjust="spacingAndGlyphs" fill="#3a3a39">6</text>
<text x="706" y="100.12" font-size="7.6" text-anchor="middle" textLength="16.62" lengthAdjust="spacingAndGlyphs" fill="#3a3a39">12,8</text>
<text x="770.1" y="111.72" font-size="7.6" text-anchor="middle" textLength="16.62" lengthAdjust="spacingAndGlyphs" fill="#3a3a39">15,5</text>
<text x="161.5" y="287.32" font-size="7.6" text-anchor="middle" textLength="9.49" lengthAdjust="spacingAndGlyphs" fill="#3a3a39">11</text>
<text x="278.7" y="287.32" font-size="7.6" text-anchor="middle" textLength="9.49" lengthAdjust="spacingAndGlyphs" fill="#3a3a39">10</text>
<text x="510.8" y="345.52" font-size="7.6" text-anchor="middle" textLength="4.75" lengthAdjust="spacingAndGlyphs" fill="#3a3a39">9</text>
<text x="691.3" y="336.32" font-size="7.6" text-anchor="middle" textLength="4.75" lengthAdjust="spacingAndGlyphs" fill="#3a3a39">8</text>
<text x="715.8" y="332.12" font-size="7.6" text-anchor="middle" textLength="4.75" lengthAdjust="spacingAndGlyphs" fill="#3a3a39">7</text>
<text x="458" y="436.42" font-size="7.6" text-anchor="middle" textLength="16.62" lengthAdjust="spacingAndGlyphs" fill="#3a3a39">16,7</text>
<text x="521.1" y="455.82" font-size="7.6" text-anchor="middle" textLength="16.62" lengthAdjust="spacingAndGlyphs" fill="#3a3a39">17,4</text>
<text x="588.6" y="450.02" font-size="7.6" text-anchor="middle" textLength="16.62" lengthAdjust="spacingAndGlyphs" fill="#3a3a39">17,2</text>
<text x="649" y="432.82" font-size="7.6" text-anchor="middle" textLength="16.62" lengthAdjust="spacingAndGlyphs" fill="#3a3a39">16,9</text>
<rect x="820.4" y="90.9" width="12.6" height="22.5" fill="#e84e0f"/>
<rect x="833" y="91.15" width="22" height="11.05" fill="#fff" stroke="#f6b9a0" stroke-width="0.5"/>
<rect x="833" y="102.2" width="22" height="10.95" fill="#fff" stroke="#f6b9a0" stroke-width="0.5"/>
<text x="826.7" y="106.97" font-size="13.6" text-anchor="middle" textLength="9.3" lengthAdjust="spacingAndGlyphs" fill="#fff" font-weight="bold">3</text>
<text x="846.5" y="99.84" font-size="9.6" text-anchor="middle" textLength="23.27" lengthAdjust="spacingAndGlyphs" fill="#1d1d1b" font-weight="bold">53,3</text>
<text x="846.5" y="110.84" font-size="9.6" text-anchor="middle" textLength="23.27" lengthAdjust="spacingAndGlyphs" fill="#1d1d1b" font-weight="bold">88,1</text>
<rect x="501.3" y="422.2" width="12.6" height="22.5" fill="#e84e0f"/>
<rect x="513.9" y="422.45" width="22" height="11.05" fill="#fff" stroke="#f6b9a0" stroke-width="0.5"/>
<rect x="513.9" y="433.5" width="22" height="10.95" fill="#fff" stroke="#f6b9a0" stroke-width="0.5"/>
<text x="507.6" y="438.27" font-size="13.6" text-anchor="middle" textLength="9.3" lengthAdjust="spacingAndGlyphs" fill="#fff" font-weight="bold">1</text>
<text x="527.4" y="431.14" font-size="9.6" text-anchor="middle" textLength="23.27" lengthAdjust="spacingAndGlyphs" fill="#1d1d1b" font-weight="bold">17,4</text>
<text x="527.4" y="442.14" font-size="9.6" text-anchor="middle" textLength="23.27" lengthAdjust="spacingAndGlyphs" fill="#1d1d1b" font-weight="bold">46,7</text>
<rect x="569.2" y="416.5" width="12.6" height="22.5" fill="#e84e0f"/>
<rect x="581.8" y="416.75" width="22" height="11.05" fill="#fff" stroke="#f6b9a0" stroke-width="0.5"/>
<rect x="581.8" y="427.8" width="22" height="10.95" fill="#fff" stroke="#f6b9a0" stroke-width="0.5"/>
<text x="575.5" y="432.57" font-size="13.6" text-anchor="middle" textLength="9.3" lengthAdjust="spacingAndGlyphs" fill="#fff" font-weight="bold">2</text>
<text x="595.3" y="425.44" font-size="9.6" text-anchor="middle" textLength="23.27" lengthAdjust="spacingAndGlyphs" fill="#1d1d1b" font-weight="bold">34,1</text>
<text x="595.3" y="436.44" font-size="9.6" text-anchor="middle" textLength="23.27" lengthAdjust="spacingAndGlyphs" fill="#1d1d1b" font-weight="bold">65,7</text>
<rect x="229.5" y="369.6" width="12.6" height="22.5" fill="#e84e0f"/>
<rect x="242.1" y="369.85" width="28.54" height="11.05" fill="#fff" stroke="#f6b9a0" stroke-width="0.5"/>
<rect x="242.1" y="380.9" width="28.54" height="10.95" fill="#fff" stroke="#f6b9a0" stroke-width="0.5"/>
<text x="235.8" y="385.67" font-size="13.6" text-anchor="middle" textLength="9.3" lengthAdjust="spacingAndGlyphs" fill="#fff" font-weight="bold">4</text>
<text x="258.87" y="378.54" font-size="9.6" text-anchor="middle" textLength="23.27" lengthAdjust="spacingAndGlyphs" fill="#1d1d1b" font-weight="bold">85,4</text>
<text x="258.87" y="389.54" font-size="9.6" text-anchor="middle" textLength="29.83" lengthAdjust="spacingAndGlyphs" fill="#1d1d1b" font-weight="bold">125,9</text>
<text x="240.6" y="322.02" font-size="7.6" text-anchor="middle" textLength="11.87" lengthAdjust="spacingAndGlyphs" fill="#3a3a39">3,5</text>
<text x="283.4" y="325.22" font-size="7.6" text-anchor="middle" textLength="11.87" lengthAdjust="spacingAndGlyphs" fill="#3a3a39">9,4</text>
<text x="326.9" y="396.82" font-size="7.6" text-anchor="middle" textLength="16.62" lengthAdjust="spacingAndGlyphs" fill="#3a3a39">22,4</text>
<text x="397.7" y="396.82" font-size="7.6" text-anchor="middle" textLength="16.62" lengthAdjust="spacingAndGlyphs" fill="#3a3a39">12,7</text></g>
<g transform="translate(0,502.0)"><path d="M219 294.9 L336 294.9 L336 351.5 L426 351.5 L426 432.5 L219 432.5 Z" fill="#d9d9d9" stroke="none" stroke-width="0"/>
<path d="M156 258.6 L159.5 258 L160.6 253" fill="none" stroke="#8e8e8d" stroke-width="0.6"/>
<path d="M200 258.6 L203.5 258 L204.6 253" fill="none" stroke="#8e8e8d" stroke-width="0.6"/>
<path d="M222 258.6 L225.5 258 L226.6 253" fill="none" stroke="#8e8e8d" stroke-width="0.6"/>
<path d="M242 258.6 L245.5 258 L246.6 253" fill="none" stroke="#8e8e8d" stroke-width="0.6"/>
<rect x="164.8" y="208.6" width="11.6" height="27.1" fill="none" stroke="#8e8e8d" stroke-width="0.6"/>
<line x1="176.4" y1="196.5" x2="176.4" y2="246.5" stroke="#4a4a49" stroke-width="0.85"/>
<line x1="181.9" y1="196.5" x2="181.9" y2="246.5" stroke="#4a4a49" stroke-width="0.85"/>
<line x1="187.4" y1="196.5" x2="187.4" y2="246.5" stroke="#4a4a49" stroke-width="0.85"/>
<line x1="192.9" y1="196.5" x2="192.9" y2="246.5" stroke="#4a4a49" stroke-width="0.85"/>
<line x1="198.4" y1="196.5" x2="198.4" y2="246.5" stroke="#4a4a49" stroke-width="0.85"/>
<line x1="203.9" y1="196.5" x2="203.9" y2="246.5" stroke="#4a4a49" stroke-width="0.85"/>
<line x1="209.4" y1="196.5" x2="209.4" y2="246.5" stroke="#4a4a49" stroke-width="0.85"/>
<line x1="214.9" y1="196.5" x2="214.9" y2="246.5" stroke="#4a4a49" stroke-width="0.85"/>
<line x1="220.4" y1="196.5" x2="220.4" y2="246.5" stroke="#4a4a49" stroke-width="0.85"/>
<line x1="225.9" y1="196.5" x2="225.9" y2="246.5" stroke="#4a4a49" stroke-width="0.85"/>
<line x1="231.4" y1="196.5" x2="231.4" y2="246.5" stroke="#4a4a49" stroke-width="0.85"/>
<line x1="236.9" y1="196.5" x2="236.9" y2="246.5" stroke="#4a4a49" stroke-width="0.85"/>
<rect x="174.3" y="220.2" width="63.9" height="3.1" fill="#e3e3e3" stroke="#8e8e8d" stroke-width="0.6"/>
<line x1="206" y1="246.5" x2="214" y2="223.3" stroke="#8e8e8d" stroke-width="0.6"/>
<line x1="208" y1="246.5" x2="216" y2="223.3" stroke="#8e8e8d" stroke-width="0.6"/>
<path d="M232 204 L236.9 208 L232 212" fill="none" stroke="#8e8e8d" stroke-width="0.6"/>
<path d="M287 203 L299 201.4 L302.3 189.3" fill="none" stroke="#3a3a39" stroke-width="0.6"/>
<path d="M309.5 203 L324 201.4 L327.3 189.3" fill="none" stroke="#3a3a39" stroke-width="0.6"/>
<path d="M334.5 204.3 L350 202.7 L353.3 189.3" fill="none" stroke="#3a3a39" stroke-width="0.6"/>
<path d="M287 225.3 L299 223.7 L302.3 210.3" fill="none" stroke="#3a3a39" stroke-width="0.6"/>
<path d="M309.5 225.3 L324 223.7 L327.3 215" fill="none" stroke="#3a3a39" stroke-width="0.6"/>
<path d="M334.5 225.3 L350 223.7 L353.3 210.3" fill="none" stroke="#3a3a39" stroke-width="0.6"/>
<path d="M287 245.5 L312 243.9 L315.3 234.3" fill="none" stroke="#3a3a39" stroke-width="0.6"/>
<path d="M322 241.5 L344 239.9 L347.3 234.3" fill="none" stroke="#3a3a39" stroke-width="0.6"/>
<path d="M353.8 256 L363.5 254.4 L366.8 234.3" fill="none" stroke="#3a3a39" stroke-width="0.6"/>
<path d="M286.5 256.8 L291 256.2 L292.3 251" fill="none" stroke="#3a3a39" stroke-width="0.5"/>
<path d="M322 256.8 L326 256.2 L327.3 253.2" fill="none" stroke="#3a3a39" stroke-width="0.5"/>
<rect x="369.4" y="195" width="39.6" height="24.7" fill="none" stroke="#6a6a69" stroke-width="0.6"/>
<line x1="369.4" y1="195" x2="409" y2="219.7" stroke="#6a6a69" stroke-width="0.5"/>
<line x1="369.4" y1="219.7" x2="409" y2="195" stroke="#6a6a69" stroke-width="0.5"/>
<rect x="382.3" y="236.9" width="26.7" height="22.8" fill="none" stroke="#6a6a69" stroke-width="0.6"/>
<line x1="382.3" y1="236.9" x2="409" y2="259.7" stroke="#6a6a69" stroke-width="0.5"/>
<line x1="382.3" y1="259.7" x2="409" y2="236.9" stroke="#6a6a69" stroke-width="0.5"/>
<rect x="382.3" y="272" width="26.7" height="24" fill="none" stroke="#6a6a69" stroke-width="0.6"/>
<line x1="382.3" y1="272" x2="409" y2="296" stroke="#6a6a69" stroke-width="0.5"/>
<line x1="382.3" y1="296" x2="409" y2="272" stroke="#6a6a69" stroke-width="0.5"/>
<path d="M376 313.6 L408 311 L412.5 305.5" fill="none" stroke="#3a3a39" stroke-width="0.6"/>
<rect x="480.4" y="195" width="26.7" height="23.8" fill="none" stroke="#6a6a69" stroke-width="0.6"/>
<line x1="480.4" y1="195" x2="507.1" y2="218.8" stroke="#6a6a69" stroke-width="0.5"/>
<line x1="480.4" y1="218.8" x2="507.1" y2="195" stroke="#6a6a69" stroke-width="0.5"/>
<rect x="480.4" y="231.2" width="26.7" height="22.8" fill="none" stroke="#6a6a69" stroke-width="0.6"/>
<line x1="480.4" y1="231.2" x2="507.1" y2="254" stroke="#6a6a69" stroke-width="0.5"/>
<line x1="480.4" y1="254" x2="507.1" y2="231.2" stroke="#6a6a69" stroke-width="0.5"/>
<rect x="479.1" y="269.2" width="26.1" height="40" fill="none" stroke="#6a6a69" stroke-width="0.6"/>
<line x1="479.1" y1="269.2" x2="505.2" y2="309.2" stroke="#6a6a69" stroke-width="0.5"/>
<line x1="479.1" y1="309.2" x2="505.2" y2="269.2" stroke="#6a6a69" stroke-width="0.5"/>
<path d="M522.5 198 L529 196.8 L530 190" fill="none" stroke="#3a3a39" stroke-width="0.5"/>
<path d="M522.5 257 L555 254 L560 240.5" fill="none" stroke="#3a3a39" stroke-width="0.6"/>
<path d="M522.5 293.5 L555 290.5 L560 266.5" fill="none" stroke="#3a3a39" stroke-width="0.6"/>
<path d="M522.1 232.6 L526 232 L527.4 225" fill="none" stroke="#3a3a39" stroke-width="0.5"/>
<path d="M531.9 232.6 L538 232 L539.4 225" fill="none" stroke="#3a3a39" stroke-width="0.5"/>
<path d="M544.1 232.6 L560.8 232 L562.2 225" fill="none" stroke="#3a3a39" stroke-width="0.5"/>
<path d="M536 305.6 L556 304.6 L559 301" fill="none" stroke="#3a3a39" stroke-width="0.5"/>
<path d="M605.1 228.8 L609.9 228.2 L611.5 222.5" fill="none" stroke="#3a3a39" stroke-width="0.5"/>
<path d="M614.6 228.8 L624.6 228.2 L626.2 222.5" fill="none" stroke="#3a3a39" stroke-width="0.5"/>
<path d="M638.1 228.8 L646.4 228.2 L648 222.5" fill="none" stroke="#3a3a39" stroke-width="0.5"/>
<path d="M653.6 228.8 L687.1 228.2 L688.7 222.5" fill="none" stroke="#3a3a39" stroke-width="0.5"/>
<path d="M691.6 228.8 L697.2 228.2 L698.8 222.5" fill="none" stroke="#3a3a39" stroke-width="0.5"/>
<path d="M605.3 304.8 L614 304 L617 292.5" fill="none" stroke="#3a3a39" stroke-width="0.6"/>
<path d="M624.1 304.8 L641.8 304 L644.8 292.5" fill="none" stroke="#3a3a39" stroke-width="0.6"/>
<path d="M650.6 304.8 L652.5 304 L655.5 292.5" fill="none" stroke="#3a3a39" stroke-width="0.6"/>
<path d="M662.1 304.8 L667.8 304 L670.8 292.5" fill="none" stroke="#3a3a39" stroke-width="0.6"/>
<path d="M676.6 304.8 L693 304 L696 292.5" fill="none" stroke="#3a3a39" stroke-width="0.6"/>
<path d="M701.8 304.8 L717 304 L720 292.5" fill="none" stroke="#3a3a39" stroke-width="0.6"/>
<line x1="635.7" y1="235" x2="635.7" y2="285.3" stroke="#4a4a49" stroke-width="0.85"/>
<line x1="641.2" y1="235" x2="641.2" y2="285.3" stroke="#4a4a49" stroke-width="0.85"/>
<line x1="646.7" y1="235" x2="646.7" y2="285.3" stroke="#4a4a49" stroke-width="0.85"/>
<line x1="652.2" y1="235" x2="652.2" y2="285.3" stroke="#4a4a49" stroke-width="0.85"/>
<line x1="657.7" y1="235" x2="657.7" y2="285.3" stroke="#4a4a49" stroke-width="0.85"/>
<line x1="663.2" y1="235" x2="663.2" y2="285.3" stroke="#4a4a49" stroke-width="0.85"/>
<line x1="668.7" y1="235" x2="668.7" y2="285.3" stroke="#4a4a49" stroke-width="0.85"/>
<line x1="674.2" y1="235" x2="674.2" y2="285.3" stroke="#4a4a49" stroke-width="0.85"/>
<line x1="679.7" y1="235" x2="679.7" y2="285.3" stroke="#4a4a49" stroke-width="0.85"/>
<line x1="685.2" y1="235" x2="685.2" y2="285.3" stroke="#4a4a49" stroke-width="0.85"/>
<line x1="690.7" y1="235" x2="690.7" y2="285.3" stroke="#4a4a49" stroke-width="0.85"/>
<line x1="696.2" y1="235" x2="696.2" y2="285.3" stroke="#4a4a49" stroke-width="0.85"/>
<rect x="635.7" y="246.4" width="72.1" height="27.5" fill="none" stroke="#b0b0af" stroke-width="0.5"/>
<rect x="634.8" y="257.7" width="61.7" height="2.3" fill="#e3e3e3" stroke="#8e8e8d" stroke-width="0.6"/>
<line x1="657" y1="261.6" x2="665" y2="285.3" stroke="#8e8e8d" stroke-width="0.6"/>
<line x1="659" y1="261.6" x2="667" y2="285.3" stroke="#8e8e8d" stroke-width="0.6"/>
<path d="M639.3 242 L635.3 245.4 L639.3 249.5" fill="none" stroke="#8e8e8d" stroke-width="0.6"/>
<path d="M446 151.2 L454 150.6 L456 144.5" fill="none" stroke="#3a3a39" stroke-width="0.5"/>
<path d="M486 151.2 L498 150.6 L500 144.5" fill="none" stroke="#3a3a39" stroke-width="0.5"/>
<path d="M514 151.2 L529 150.2 L532 141" fill="none" stroke="#3a3a39" stroke-width="0.5"/>
<path d="M605 347.4 L616 346.8 L618 342.5" fill="none" stroke="#3a3a39" stroke-width="0.5"/>
<path d="M638 347.4 L647 346.8 L649 342.5" fill="none" stroke="#3a3a39" stroke-width="0.5"/>
<path d="M657 347.4 L664 346.8 L666 342.5" fill="none" stroke="#3a3a39" stroke-width="0.5"/>
<path d="M298 296.6 L304 296 L305.5 293.6" fill="none" stroke="#3a3a39" stroke-width="0.5"/>
<path d="M310 296.6 L316 296 L317.5 293.6" fill="none" stroke="#3a3a39" stroke-width="0.5"/>
<path d="M322 296.6 L328 296 L329.5 293.6" fill="none" stroke="#3a3a39" stroke-width="0.5"/>
<line x1="75.5" y1="16.7" x2="75.5" y2="102.5" stroke="#a9a9a8" stroke-width="0.7" stroke-dasharray="3.4 3"/>
<line x1="75.5" y1="102.5" x2="99.5" y2="102.5" stroke="#a9a9a8" stroke-width="0.7" stroke-dasharray="3.4 3"/>
<line x1="162" y1="108.5" x2="185.4" y2="108.5" stroke="#a9a9a8" stroke-width="0.7" stroke-dasharray="3.4 3"/>
<rect x="116.5" y="65.5" width="9.5" height="12" fill="#f6f6f6" stroke="#8e8e8d" stroke-width="0.7"/>
<circle cx="119.16" cy="68.86" r="1.15" fill="#fff" stroke="#8e8e8d" stroke-width="0.5"/>
<circle cx="119.16" cy="74.14" r="1.15" fill="#fff" stroke="#8e8e8d" stroke-width="0.5"/>
<circle cx="123.34" cy="68.86" r="1.15" fill="#fff" stroke="#8e8e8d" stroke-width="0.5"/>
<circle cx="123.34" cy="74.14" r="1.15" fill="#fff" stroke="#8e8e8d" stroke-width="0.5"/>
<rect x="130.5" y="70" width="10" height="11.5" fill="#f6f6f6" stroke="#8e8e8d" stroke-width="0.7"/>
<circle cx="133.3" cy="73.22" r="1.15" fill="#fff" stroke="#8e8e8d" stroke-width="0.5"/>
<circle cx="133.3" cy="78.28" r="1.15" fill="#fff" stroke="#8e8e8d" stroke-width="0.5"/>
<circle cx="137.7" cy="73.22" r="1.15" fill="#fff" stroke="#8e8e8d" stroke-width="0.5"/>
<circle cx="137.7" cy="78.28" r="1.15" fill="#fff" stroke="#8e8e8d" stroke-width="0.5"/>
<rect x="116.5" y="90.5" width="9.5" height="10" fill="#fff" stroke="#8e8e8d" stroke-width="1"/>
<line x1="121.25" y1="95.5" x2="125.5" y2="95.5" stroke="#6a6a69" stroke-width="0.6"/>
<line x1="122.05" y1="94.3" x2="122.05" y2="96.7" stroke="#6a6a69" stroke-width="0.5"/>
<rect x="130.5" y="95.5" width="9.5" height="9.5" fill="#fff" stroke="#8e8e8d" stroke-width="1"/>
<line x1="135.25" y1="100.25" x2="131" y2="100.25" stroke="#6a6a69" stroke-width="0.6"/>
<line x1="134.45" y1="99.05" x2="134.45" y2="101.45" stroke="#6a6a69" stroke-width="0.5"/>
<rect x="113" y="105" width="13" height="13" fill="#fff" stroke="#8e8e8d" stroke-width="1"/>
<rect x="123.6" y="121" width="3.2" height="8" fill="#fff" stroke="#8e8e8d" stroke-width="0.7"/>
<ellipse cx="118.85" cy="125" rx="5.35" ry="3.1" fill="#fff" stroke="#8e8e8d" stroke-width="0.7"/>
<rect x="118.7" y="131.5" width="7.3" height="10.5" fill="#fff" stroke="#8e8e8d" stroke-width="1"/>
<line x1="122.35" y1="136.75" x2="125.5" y2="136.75" stroke="#6a6a69" stroke-width="0.6"/>
<line x1="123.15" y1="135.55" x2="123.15" y2="137.95" stroke="#6a6a69" stroke-width="0.5"/>
<rect x="105.6" y="189.3" width="9" height="3.2" fill="#fff" stroke="#8e8e8d" stroke-width="0.7"/>
<ellipse cx="110.1" cy="196.95" rx="3.6" ry="5.05" fill="#fff" stroke="#8e8e8d" stroke-width="0.7"/>
<rect x="117" y="189.3" width="28.5" height="11.7" fill="#f3f3f3" stroke="#8e8e8d" stroke-width="0.7"/>
<rect x="118.6" y="190.9" width="25.3" height="8.5" fill="#fff" stroke="#8e8e8d" stroke-width="0.6" rx="4.25"/>
<rect x="114" y="217" width="10.4" height="7.8" fill="#fff" stroke="#8e8e8d" stroke-width="1"/>
<line x1="119.2" y1="220.9" x2="119.2" y2="224.3" stroke="#6a6a69" stroke-width="0.6"/>
<line x1="118" y1="221.7" x2="120.4" y2="221.7" stroke="#6a6a69" stroke-width="0.5"/>
<rect x="216" y="109" width="10.6" height="7" fill="#fff" stroke="#8e8e8d" stroke-width="1"/>
<line x1="221.3" y1="112.5" x2="221.3" y2="115.5" stroke="#6a6a69" stroke-width="0.6"/>
<line x1="220.1" y1="113.3" x2="222.5" y2="113.3" stroke="#6a6a69" stroke-width="0.5"/>
<rect x="217.6" y="138.4" width="9" height="3.2" fill="#fff" stroke="#8e8e8d" stroke-width="0.7"/>
<ellipse cx="222.1" cy="133.9" rx="3.6" ry="5.1" fill="#fff" stroke="#8e8e8d" stroke-width="0.7"/>
<rect x="235.5" y="109" width="10.3" height="30" fill="#f3f3f3" stroke="#8e8e8d" stroke-width="0.7"/>
<rect x="237.1" y="110.6" width="7.1" height="26.8" fill="#fff" stroke="#8e8e8d" stroke-width="0.6" rx="3.55"/>
<line x1="310.7" y1="107.8" x2="328.2" y2="107.8" stroke="#a9a9a8" stroke-width="0.7" stroke-dasharray="3.4 3"/>
<rect x="253.5" y="109" width="10.3" height="30" fill="#f3f3f3" stroke="#8e8e8d" stroke-width="0.7"/>
<rect x="255.1" y="110.6" width="7.1" height="26.8" fill="#fff" stroke="#8e8e8d" stroke-width="0.6" rx="3.55"/>
<rect x="272.8" y="109" width="10.2" height="7" fill="#fff" stroke="#8e8e8d" stroke-width="1"/>
<line x1="277.9" y1="112.5" x2="277.9" y2="115.5" stroke="#6a6a69" stroke-width="0.6"/>
<line x1="276.7" y1="113.3" x2="279.1" y2="113.3" stroke="#6a6a69" stroke-width="0.5"/>
<rect x="274" y="139.8" width="9" height="3.2" fill="#fff" stroke="#8e8e8d" stroke-width="0.7"/>
<ellipse cx="278.5" cy="135.2" rx="3.6" ry="5.2" fill="#fff" stroke="#8e8e8d" stroke-width="0.7"/>
<rect x="352.6" y="69.5" width="10.4" height="11.5" fill="#f6f6f6" stroke="#8e8e8d" stroke-width="0.7"/>
<circle cx="355.51" cy="72.72" r="1.15" fill="#fff" stroke="#8e8e8d" stroke-width="0.5"/>
<circle cx="355.51" cy="77.78" r="1.15" fill="#fff" stroke="#8e8e8d" stroke-width="0.5"/>
<circle cx="360.09" cy="72.72" r="1.15" fill="#fff" stroke="#8e8e8d" stroke-width="0.5"/>
<circle cx="360.09" cy="77.78" r="1.15" fill="#fff" stroke="#8e8e8d" stroke-width="0.5"/>
<rect x="351.3" y="109" width="10.9" height="10.2" fill="#fff" stroke="#8e8e8d" stroke-width="1"/>
<line x1="356.75" y1="114.1" x2="361.7" y2="114.1" stroke="#6a6a69" stroke-width="0.6"/>
<line x1="357.55" y1="112.9" x2="357.55" y2="115.3" stroke="#6a6a69" stroke-width="0.5"/>
<line x1="654.5" y1="152.7" x2="687.5" y2="152.7" stroke="#a9a9a8" stroke-width="0.7" stroke-dasharray="3.4 3"/>
<rect x="585.5" y="145.5" width="3.2" height="9" fill="#fff" stroke="#8e8e8d" stroke-width="0.7"/>
<ellipse cx="592.85" cy="150" rx="4.75" ry="3.6" fill="#fff" stroke="#8e8e8d" stroke-width="0.7"/>
<rect x="574.4" y="158.4" width="9.3" height="10.3" fill="#fff" stroke="#8e8e8d" stroke-width="1"/>
<line x1="579.05" y1="163.55" x2="579.05" y2="158.9" stroke="#6a6a69" stroke-width="0.6"/>
<line x1="577.85" y1="162.75" x2="580.25" y2="162.75" stroke="#6a6a69" stroke-width="0.5"/>
<rect x="576.5" y="173.8" width="29.5" height="11.6" fill="#f3f3f3" stroke="#8e8e8d" stroke-width="0.7"/>
<rect x="578.1" y="175.4" width="26.3" height="8.4" fill="#fff" stroke="#8e8e8d" stroke-width="0.6" rx="4.2"/>
<line x1="687.5" y1="87.6" x2="687.5" y2="152" stroke="#a9a9a8" stroke-width="0.7" stroke-dasharray="3.4 3"/>
<rect x="727.4" y="94.8" width="11.6" height="10.8" fill="#f6f6f6" stroke="#8e8e8d" stroke-width="0.7"/>
<circle cx="730.65" cy="97.82" r="1.15" fill="#fff" stroke="#8e8e8d" stroke-width="0.5"/>
<circle cx="730.65" cy="102.58" r="1.15" fill="#fff" stroke="#8e8e8d" stroke-width="0.5"/>
<circle cx="735.75" cy="97.82" r="1.15" fill="#fff" stroke="#8e8e8d" stroke-width="0.5"/>
<circle cx="735.75" cy="102.58" r="1.15" fill="#fff" stroke="#8e8e8d" stroke-width="0.5"/>
<rect x="727.4" y="124.4" width="11.6" height="10.3" fill="#fff" stroke="#8e8e8d" stroke-width="1"/>
<line x1="733.2" y1="129.55" x2="738.5" y2="129.55" stroke="#6a6a69" stroke-width="0.6"/>
<line x1="734" y1="128.35" x2="734" y2="130.75" stroke="#6a6a69" stroke-width="0.5"/>
<rect x="705.5" y="153.7" width="11.5" height="7.3" fill="#fff" stroke="#8e8e8d" stroke-width="1"/>
<line x1="711.25" y1="157.35" x2="711.25" y2="160.5" stroke="#6a6a69" stroke-width="0.6"/>
<line x1="710.05" y1="158.15" x2="712.45" y2="158.15" stroke="#6a6a69" stroke-width="0.5"/>
<rect x="734.5" y="155.3" width="3.2" height="9.5" fill="#fff" stroke="#8e8e8d" stroke-width="0.7"/>
<ellipse cx="729.7" cy="160.05" rx="5.4" ry="3.85" fill="#fff" stroke="#8e8e8d" stroke-width="0.7"/>
<line x1="799.5" y1="87.6" x2="799.5" y2="153.2" stroke="#a9a9a8" stroke-width="0.7" stroke-dasharray="3.4 3"/>
<line x1="776.3" y1="153.7" x2="799.5" y2="153.7" stroke="#a9a9a8" stroke-width="0.7" stroke-dasharray="3.4 3"/>
<rect x="741" y="94.8" width="10.3" height="10.8" fill="#f6f6f6" stroke="#8e8e8d" stroke-width="0.7"/>
<circle cx="743.88" cy="97.82" r="1.15" fill="#fff" stroke="#8e8e8d" stroke-width="0.5"/>
<circle cx="743.88" cy="102.58" r="1.15" fill="#fff" stroke="#8e8e8d" stroke-width="0.5"/>
<circle cx="748.42" cy="97.82" r="1.15" fill="#fff" stroke="#8e8e8d" stroke-width="0.5"/>
<circle cx="748.42" cy="102.58" r="1.15" fill="#fff" stroke="#8e8e8d" stroke-width="0.5"/>
<rect x="741" y="124.4" width="10.3" height="10.3" fill="#fff" stroke="#8e8e8d" stroke-width="1"/>
<line x1="746.15" y1="129.55" x2="741.5" y2="129.55" stroke="#6a6a69" stroke-width="0.6"/>
<line x1="745.35" y1="128.35" x2="745.35" y2="130.75" stroke="#6a6a69" stroke-width="0.5"/>
<rect x="741.5" y="157" width="3.2" height="9.9" fill="#fff" stroke="#8e8e8d" stroke-width="0.7"/>
<ellipse cx="748.9" cy="161.95" rx="4.8" ry="4.05" fill="#fff" stroke="#8e8e8d" stroke-width="0.7"/>
<rect x="764.7" y="155.3" width="10.3" height="7" fill="#fff" stroke="#8e8e8d" stroke-width="1"/>
<line x1="769.85" y1="158.8" x2="769.85" y2="161.8" stroke="#6a6a69" stroke-width="0.6"/>
<line x1="768.65" y1="159.6" x2="771.05" y2="159.6" stroke="#6a6a69" stroke-width="0.5"/>
<rect x="741.5" y="174.6" width="12.2" height="13.4" fill="#fff" stroke="#8e8e8d" stroke-width="1"/>
<rect x="735" y="231.8" width="29.7" height="11.6" fill="#f3f3f3" stroke="#8e8e8d" stroke-width="0.7"/>
<rect x="736.6" y="233.4" width="26.5" height="8.4" fill="#fff" stroke="#8e8e8d" stroke-width="0.6" rx="4.2"/>
<rect x="726" y="268.8" width="9" height="3.2" fill="#fff" stroke="#8e8e8d" stroke-width="0.7"/>
<ellipse cx="730.5" cy="264.35" rx="3.6" ry="5.05" fill="#fff" stroke="#8e8e8d" stroke-width="0.7"/>
<rect x="755" y="264.5" width="11" height="9" fill="#fff" stroke="#8e8e8d" stroke-width="1"/>
<line x1="760.5" y1="269" x2="760.5" y2="265" stroke="#6a6a69" stroke-width="0.6"/>
<line x1="759.3" y1="268.2" x2="761.7" y2="268.2" stroke="#6a6a69" stroke-width="0.5"/>
<rect x="758.3" y="273.5" width="9.1" height="9" fill="#fff" stroke="#8e8e8d" stroke-width="1"/>
<line x1="762.85" y1="278" x2="762.85" y2="274" stroke="#6a6a69" stroke-width="0.6"/>
<line x1="761.65" y1="277.2" x2="764.05" y2="277.2" stroke="#6a6a69" stroke-width="0.5"/>
<rect x="726" y="277.3" width="27" height="11.7" fill="#f3f3f3" stroke="#8e8e8d" stroke-width="0.7"/>
<rect x="727.6" y="278.9" width="23.8" height="8.5" fill="#fff" stroke="#8e8e8d" stroke-width="0.6" rx="4.25"/>
<rect x="731" y="297" width="3.2" height="9.5" fill="#fff" stroke="#8e8e8d" stroke-width="0.7"/>
<ellipse cx="738.8" cy="301.75" rx="5.2" ry="3.85" fill="#fff" stroke="#8e8e8d" stroke-width="0.7"/>
<rect x="736.4" y="375.2" width="29.6" height="12.8" fill="#f3f3f3" stroke="#8e8e8d" stroke-width="0.7"/>
<rect x="738" y="376.8" width="26.4" height="9.6" fill="#fff" stroke="#8e8e8d" stroke-width="0.6" rx="4.8"/>
<rect x="747.5" y="414.5" width="8.7" height="3.2" fill="#fff" stroke="#8e8e8d" stroke-width="0.7"/>
<ellipse cx="751.85" cy="409.95" rx="3.45" ry="5.15" fill="#fff" stroke="#8e8e8d" stroke-width="0.7"/>
<rect x="733.8" y="389.4" width="9" height="10.3" fill="#fff" stroke="#8e8e8d" stroke-width="1"/>
<line x1="738.3" y1="394.55" x2="734.3" y2="394.55" stroke="#6a6a69" stroke-width="0.6"/>
<line x1="737.5" y1="393.35" x2="737.5" y2="395.75" stroke="#6a6a69" stroke-width="0.5"/>
<rect x="733.8" y="419.5" width="11.1" height="9.8" fill="#fff" stroke="#8e8e8d" stroke-width="1"/>
<line x1="739.35" y1="424.4" x2="734.3" y2="424.4" stroke="#6a6a69" stroke-width="0.6"/>
<line x1="738.55" y1="423.2" x2="738.55" y2="425.6" stroke="#6a6a69" stroke-width="0.5"/>
<rect x="734.6" y="443.5" width="10.3" height="12.8" fill="#f6f6f6" stroke="#8e8e8d" stroke-width="0.7"/>
<circle cx="737.48" cy="447.08" r="1.15" fill="#fff" stroke="#8e8e8d" stroke-width="0.5"/>
<circle cx="737.48" cy="452.72" r="1.15" fill="#fff" stroke="#8e8e8d" stroke-width="0.5"/>
<circle cx="742.02" cy="447.08" r="1.15" fill="#fff" stroke="#8e8e8d" stroke-width="0.5"/>
<circle cx="742.02" cy="452.72" r="1.15" fill="#fff" stroke="#8e8e8d" stroke-width="0.5"/>
<line x1="769.9" y1="419.5" x2="797.4" y2="419.5" stroke="#a9a9a8" stroke-width="0.7" stroke-dasharray="3.4 3"/>
<line x1="797.8" y1="397.6" x2="797.8" y2="456.3" stroke="#a9a9a8" stroke-width="0.7" stroke-dasharray="3.4 3"/>
<line x1="646.2" y1="382" x2="701.6" y2="382" stroke="#a9a9a8" stroke-width="0.7" stroke-dasharray="3.4 3"/>
<line x1="677.7" y1="382.4" x2="677.7" y2="456.3" stroke="#a9a9a8" stroke-width="0.7" stroke-dasharray="3.4 3"/>
<rect x="571.3" y="348.7" width="9.1" height="7.2" fill="#fff" stroke="#8e8e8d" stroke-width="1"/>
<line x1="575.85" y1="352.3" x2="575.85" y2="355.4" stroke="#6a6a69" stroke-width="0.6"/>
<line x1="574.65" y1="353.1" x2="577.05" y2="353.1" stroke="#6a6a69" stroke-width="0.5"/>
<rect x="559" y="366.2" width="3.2" height="10.3" fill="#fff" stroke="#8e8e8d" stroke-width="0.7"/>
<ellipse cx="566.45" cy="371.35" rx="4.85" ry="4.25" fill="#fff" stroke="#8e8e8d" stroke-width="0.7"/>
<rect x="585.5" y="348.7" width="11.5" height="30.3" fill="#f3f3f3" stroke="#8e8e8d" stroke-width="0.7"/>
<rect x="587.1" y="350.3" width="8.3" height="27.1" fill="#fff" stroke="#8e8e8d" stroke-width="0.6" rx="4.15"/>
<rect x="706.8" y="349.5" width="10.2" height="7.7" fill="#fff" stroke="#8e8e8d" stroke-width="1"/>
<line x1="711.9" y1="353.35" x2="711.9" y2="356.7" stroke="#6a6a69" stroke-width="0.6"/>
<line x1="710.7" y1="354.15" x2="713.1" y2="354.15" stroke="#6a6a69" stroke-width="0.5"/>
<rect x="727.3" y="362.3" width="3.2" height="9.6" fill="#fff" stroke="#8e8e8d" stroke-width="0.7"/>
<ellipse cx="723.15" cy="367.1" rx="4.75" ry="3.9" fill="#fff" stroke="#8e8e8d" stroke-width="0.7"/>
<rect x="720.2" y="386.8" width="10.3" height="9.8" fill="#fff" stroke="#8e8e8d" stroke-width="1"/>
<line x1="725.35" y1="391.7" x2="730" y2="391.7" stroke="#6a6a69" stroke-width="0.6"/>
<line x1="726.15" y1="390.5" x2="726.15" y2="392.9" stroke="#6a6a69" stroke-width="0.5"/>
<rect x="720.2" y="416" width="10.3" height="13.3" fill="#f6f6f6" stroke="#8e8e8d" stroke-width="0.7"/>
<circle cx="723.08" cy="419.72" r="1.15" fill="#fff" stroke="#8e8e8d" stroke-width="0.5"/>
<circle cx="723.08" cy="425.58" r="1.15" fill="#fff" stroke="#8e8e8d" stroke-width="0.5"/>
<circle cx="727.62" cy="419.72" r="1.15" fill="#fff" stroke="#8e8e8d" stroke-width="0.5"/>
<circle cx="727.62" cy="425.58" r="1.15" fill="#fff" stroke="#8e8e8d" stroke-width="0.5"/>
<line x1="485.6" y1="382.5" x2="485.6" y2="479.5" stroke="#a9a9a8" stroke-width="0.7" stroke-dasharray="3.4 3"/>
<line x1="485.6" y1="398" x2="521.5" y2="398" stroke="#a9a9a8" stroke-width="0.7" stroke-dasharray="3.4 3"/>
<rect x="428.3" y="369" width="7.2" height="10" fill="#fff" stroke="#8e8e8d" stroke-width="1"/>
<line x1="431.9" y1="374" x2="428.8" y2="374" stroke="#6a6a69" stroke-width="0.6"/>
<line x1="431.1" y1="372.8" x2="431.1" y2="375.2" stroke="#6a6a69" stroke-width="0.5"/>
<rect x="440.8" y="354.4" width="8.2" height="3.2" fill="#fff" stroke="#8e8e8d" stroke-width="0.7"/>
<ellipse cx="444.9" cy="361.7" rx="3.2" ry="4.7" fill="#fff" stroke="#8e8e8d" stroke-width="0.7"/>
<rect x="453.4" y="354.7" width="29.6" height="9.9" fill="#f3f3f3" stroke="#8e8e8d" stroke-width="0.7"/>
<rect x="455" y="356.3" width="26.4" height="6.7" fill="#fff" stroke="#8e8e8d" stroke-width="0.6" rx="3.35"/>
<rect x="428.6" y="386.3" width="10.4" height="9.5" fill="#fff" stroke="#8e8e8d" stroke-width="1"/>
<line x1="433.8" y1="391.05" x2="429.1" y2="391.05" stroke="#6a6a69" stroke-width="0.6"/>
<line x1="433" y1="389.85" x2="433" y2="392.25" stroke="#6a6a69" stroke-width="0.5"/>
<rect x="428.6" y="410" width="10.4" height="11.6" fill="#f6f6f6" stroke="#8e8e8d" stroke-width="0.7"/>
<circle cx="431.51" cy="413.25" r="1.15" fill="#fff" stroke="#8e8e8d" stroke-width="0.5"/>
<circle cx="431.51" cy="418.35" r="1.15" fill="#fff" stroke="#8e8e8d" stroke-width="0.5"/>
<circle cx="436.09" cy="413.25" r="1.15" fill="#fff" stroke="#8e8e8d" stroke-width="0.5"/>
<circle cx="436.09" cy="418.35" r="1.15" fill="#fff" stroke="#8e8e8d" stroke-width="0.5"/>
<line x1="139" y1="324.5" x2="172.5" y2="324.5" stroke="#a9a9a8" stroke-width="0.7" stroke-dasharray="3.4 3"/>
<line x1="169.5" y1="324.5" x2="169.5" y2="432" stroke="#a9a9a8" stroke-width="0.7" stroke-dasharray="3.4 3"/>
<rect x="144.8" y="242.6" width="3.2" height="10.3" fill="#fff" stroke="#8e8e8d" stroke-width="0.7"/>
<ellipse cx="140.05" cy="247.75" rx="5.35" ry="4.25" fill="#fff" stroke="#8e8e8d" stroke-width="0.7"/>
<rect x="121" y="261.4" width="10.3" height="7.6" fill="#fff" stroke="#8e8e8d" stroke-width="1"/>
<line x1="126.15" y1="265.2" x2="126.15" y2="268.5" stroke="#6a6a69" stroke-width="0.6"/>
<line x1="124.95" y1="266" x2="127.35" y2="266" stroke="#6a6a69" stroke-width="0.5"/>
<rect x="107" y="229" width="29.5" height="11.8" fill="#f3f3f3" stroke="#8e8e8d" stroke-width="0.7"/>
<rect x="108.6" y="230.6" width="26.3" height="8.6" fill="#fff" stroke="#8e8e8d" stroke-width="0.6" rx="4.3"/>
<rect x="111.3" y="271.4" width="13.7" height="13.6" fill="#fff" stroke="#8e8e8d" stroke-width="1"/>
<rect x="130" y="271.4" width="9" height="3.2" fill="#fff" stroke="#8e8e8d" stroke-width="0.7"/>
<ellipse cx="134.5" cy="278.9" rx="3.6" ry="4.9" fill="#fff" stroke="#8e8e8d" stroke-width="0.7"/>
<rect x="110.7" y="287.6" width="7.8" height="10.4" fill="#fff" stroke="#8e8e8d" stroke-width="1"/>
<line x1="114.6" y1="292.8" x2="111.2" y2="292.8" stroke="#6a6a69" stroke-width="0.6"/>
<line x1="113.8" y1="291.6" x2="113.8" y2="294" stroke="#6a6a69" stroke-width="0.5"/>
<rect x="207.3" y="333.2" width="10.3" height="9.8" fill="#fff" stroke="#8e8e8d" stroke-width="1"/>
<line x1="212.45" y1="338.1" x2="217.1" y2="338.1" stroke="#6a6a69" stroke-width="0.6"/>
<line x1="213.25" y1="336.9" x2="213.25" y2="339.3" stroke="#6a6a69" stroke-width="0.5"/>
<rect x="207.3" y="360.5" width="10.3" height="12.1" fill="#f6f6f6" stroke="#8e8e8d" stroke-width="0.7"/>
<circle cx="210.18" cy="363.89" r="1.15" fill="#fff" stroke="#8e8e8d" stroke-width="0.5"/>
<circle cx="210.18" cy="369.21" r="1.15" fill="#fff" stroke="#8e8e8d" stroke-width="0.5"/>
<circle cx="214.72" cy="363.89" r="1.15" fill="#fff" stroke="#8e8e8d" stroke-width="0.5"/>
<circle cx="214.72" cy="369.21" r="1.15" fill="#fff" stroke="#8e8e8d" stroke-width="0.5"/>
<rect x="370.6" y="145.6" width="4.5" height="5" fill="none" stroke="#8e8e8d" stroke-width="0.6"/>
<rect x="378" y="114.2" width="38.9" height="37.2" fill="none" stroke="#4a4a49" stroke-width="0.6"/>
<rect x="392" y="128.8" width="24.9" height="7.8" fill="#fff" stroke="#4a4a49" stroke-width="0.6"/>
<line x1="396.98" y1="114.2" x2="396.98" y2="128.8" stroke="#4a4a49" stroke-width="0.55"/>
<line x1="398.48" y1="136.6" x2="398.48" y2="151.4" stroke="#4a4a49" stroke-width="0.55"/>
<line x1="401.96" y1="114.2" x2="401.96" y2="128.8" stroke="#4a4a49" stroke-width="0.55"/>
<line x1="403.46" y1="136.6" x2="403.46" y2="151.4" stroke="#4a4a49" stroke-width="0.55"/>
<line x1="406.94" y1="114.2" x2="406.94" y2="128.8" stroke="#4a4a49" stroke-width="0.55"/>
<line x1="408.44" y1="136.6" x2="408.44" y2="151.4" stroke="#4a4a49" stroke-width="0.55"/>
<line x1="411.92" y1="114.2" x2="411.92" y2="128.8" stroke="#4a4a49" stroke-width="0.55"/>
<line x1="413.42" y1="136.6" x2="413.42" y2="151.4" stroke="#4a4a49" stroke-width="0.55"/>
<line x1="393.5" y1="136.6" x2="393.5" y2="151.4" stroke="#4a4a49" stroke-width="0.55"/>
<line x1="392" y1="114.2" x2="392" y2="128.8" stroke="#4a4a49" stroke-width="0.55"/>
<line x1="392" y1="128.8" x2="389.9" y2="114.2" stroke="#4a4a49" stroke-width="0.55"/>
<line x1="392" y1="128.8" x2="383.6" y2="114.2" stroke="#4a4a49" stroke-width="0.55"/>
<line x1="392" y1="136.6" x2="391.3" y2="151.4" stroke="#4a4a49" stroke-width="0.55"/>
<line x1="392" y1="136.6" x2="386.4" y2="151.4" stroke="#4a4a49" stroke-width="0.55"/>
<line x1="392" y1="136.6" x2="380.8" y2="151.4" stroke="#4a4a49" stroke-width="0.55"/>
<line x1="392" y1="128.8" x2="378" y2="118.66" stroke="#4a4a49" stroke-width="0.55"/>
<line x1="392" y1="128.8" x2="378" y2="126.48" stroke="#4a4a49" stroke-width="0.55"/>
<line x1="392" y1="132.7" x2="378" y2="133.54" stroke="#4a4a49" stroke-width="0.55"/>
<line x1="392" y1="136.6" x2="378" y2="140.98" stroke="#4a4a49" stroke-width="0.55"/>
<line x1="392" y1="136.6" x2="378" y2="147.68" stroke="#4a4a49" stroke-width="0.55"/>
<path d="M412.6 116 L416.2 119.5 L412.6 123.5" fill="none" stroke="#4a4a49" stroke-width="0.55"/>
<rect x="493.6" y="99.9" width="10.8" height="7.7" fill="#fff" stroke="#8e8e8d" stroke-width="1"/>
<line x1="499" y1="103.75" x2="499" y2="100.4" stroke="#6a6a69" stroke-width="0.6"/>
<line x1="497.8" y1="102.95" x2="500.2" y2="102.95" stroke="#6a6a69" stroke-width="0.5"/>
<rect x="495.4" y="130.2" width="9" height="3.2" fill="#fff" stroke="#8e8e8d" stroke-width="0.7"/>
<ellipse cx="499.9" cy="125.65" rx="3.6" ry="5.15" fill="#fff" stroke="#8e8e8d" stroke-width="0.7"/>
<rect x="520.4" y="102.5" width="11.8" height="29.5" fill="#f3f3f3" stroke="#8e8e8d" stroke-width="0.7"/>
<rect x="522" y="104.1" width="8.6" height="26.3" fill="#fff" stroke="#8e8e8d" stroke-width="0.6" rx="4.3"/>
<rect x="221.6" y="306.1" width="11.6" height="29.1" fill="#f3f3f3" stroke="#8e8e8d" stroke-width="0.7"/>
<rect x="223.2" y="307.7" width="8.4" height="25.9" fill="#fff" stroke="#8e8e8d" stroke-width="0.6" rx="4.2"/>
<rect x="242.7" y="295.2" width="8" height="3.2" fill="#fff" stroke="#8e8e8d" stroke-width="0.7"/>
<ellipse cx="246.7" cy="302.7" rx="3.1" ry="4.9" fill="#fff" stroke="#8e8e8d" stroke-width="0.7"/>
<rect x="241.2" y="330.1" width="11.7" height="7.3" fill="#fff" stroke="#8e8e8d" stroke-width="1"/>
<line x1="247.05" y1="333.75" x2="247.05" y2="336.9" stroke="#6a6a69" stroke-width="0.6"/>
<line x1="245.85" y1="334.55" x2="248.25" y2="334.55" stroke="#6a6a69" stroke-width="0.5"/>
<rect x="301.6" y="299" width="32.8" height="38.9" fill="none" stroke="#4a4a49" stroke-width="0.6"/>
<rect x="301.6" y="313.4" width="18.2" height="10.2" fill="#d9d9d9" stroke="#4a4a49" stroke-width="0.6"/>
<line x1="305.24" y1="299" x2="305.24" y2="313.4" stroke="#4a4a49" stroke-width="0.55"/>
<line x1="303.74" y1="323.6" x2="303.74" y2="337.9" stroke="#4a4a49" stroke-width="0.55"/>
<line x1="308.88" y1="299" x2="308.88" y2="313.4" stroke="#4a4a49" stroke-width="0.55"/>
<line x1="307.38" y1="323.6" x2="307.38" y2="337.9" stroke="#4a4a49" stroke-width="0.55"/>
<line x1="312.52" y1="299" x2="312.52" y2="313.4" stroke="#4a4a49" stroke-width="0.55"/>
<line x1="311.02" y1="323.6" x2="311.02" y2="337.9" stroke="#4a4a49" stroke-width="0.55"/>
<line x1="316.16" y1="299" x2="316.16" y2="313.4" stroke="#4a4a49" stroke-width="0.55"/>
<line x1="314.66" y1="323.6" x2="314.66" y2="337.9" stroke="#4a4a49" stroke-width="0.55"/>
<line x1="318.3" y1="323.6" x2="318.3" y2="337.9" stroke="#4a4a49" stroke-width="0.55"/>
<line x1="319.8" y1="299" x2="319.8" y2="313.4" stroke="#4a4a49" stroke-width="0.55"/>
<line x1="319.8" y1="313.4" x2="321.99" y2="299" stroke="#4a4a49" stroke-width="0.55"/>
<line x1="319.8" y1="313.4" x2="328.56" y2="299" stroke="#4a4a49" stroke-width="0.55"/>
<line x1="319.8" y1="323.6" x2="320.53" y2="337.9" stroke="#4a4a49" stroke-width="0.55"/>
<line x1="319.8" y1="323.6" x2="325.64" y2="337.9" stroke="#4a4a49" stroke-width="0.55"/>
<line x1="319.8" y1="323.6" x2="331.48" y2="337.9" stroke="#4a4a49" stroke-width="0.55"/>
<line x1="319.8" y1="313.4" x2="334.4" y2="303.67" stroke="#4a4a49" stroke-width="0.55"/>
<line x1="319.8" y1="313.4" x2="334.4" y2="311.84" stroke="#4a4a49" stroke-width="0.55"/>
<line x1="319.8" y1="318.5" x2="334.4" y2="319.23" stroke="#4a4a49" stroke-width="0.55"/>
<line x1="319.8" y1="323.6" x2="334.4" y2="327.01" stroke="#4a4a49" stroke-width="0.55"/>
<line x1="319.8" y1="323.6" x2="334.4" y2="334.01" stroke="#4a4a49" stroke-width="0.55"/>
<line x1="152.7" y1="186.4" x2="247.2" y2="186.4" stroke="#1d1d1b" stroke-width="1"/>
<line x1="152.7" y1="259.9" x2="252.3" y2="259.9" stroke="#1d1d1b" stroke-width="1.6"/>
<line x1="307.7" y1="204.5" x2="329.4" y2="204.5" stroke="#bdbdbc" stroke-width="0.6"/>
<line x1="307.7" y1="214" x2="329.4" y2="214" stroke="#bdbdbc" stroke-width="0.6"/>
<line x1="321" y1="243" x2="349" y2="243" stroke="#bdbdbc" stroke-width="0.6"/>
<line x1="415.6" y1="199.4" x2="415.6" y2="219.2" stroke="#7a7a79" stroke-width="0.5"/>
<line x1="418.1" y1="199.4" x2="418.1" y2="219.2" stroke="#7a7a79" stroke-width="0.5"/>
<line x1="420.6" y1="199.4" x2="420.6" y2="219.2" stroke="#7a7a79" stroke-width="0.5"/>
<line x1="415.6" y1="236.3" x2="415.6" y2="256.9" stroke="#7a7a79" stroke-width="0.5"/>
<line x1="418.1" y1="236.3" x2="418.1" y2="256.9" stroke="#7a7a79" stroke-width="0.5"/>
<line x1="420.6" y1="236.3" x2="420.6" y2="256.9" stroke="#7a7a79" stroke-width="0.5"/>
<line x1="415.6" y1="275.9" x2="415.6" y2="301.6" stroke="#7a7a79" stroke-width="0.5"/>
<line x1="418.1" y1="275.9" x2="418.1" y2="301.6" stroke="#7a7a79" stroke-width="0.5"/>
<line x1="420.6" y1="275.9" x2="420.6" y2="301.6" stroke="#7a7a79" stroke-width="0.5"/>
<line x1="469.3" y1="199.4" x2="469.3" y2="219.2" stroke="#7a7a79" stroke-width="0.5"/>
<line x1="471.6" y1="199.4" x2="471.6" y2="219.2" stroke="#7a7a79" stroke-width="0.5"/>
<line x1="473.9" y1="199.4" x2="473.9" y2="219.2" stroke="#7a7a79" stroke-width="0.5"/>
<line x1="469.3" y1="235" x2="469.3" y2="255" stroke="#7a7a79" stroke-width="0.5"/>
<line x1="471.6" y1="235" x2="471.6" y2="255" stroke="#7a7a79" stroke-width="0.5"/>
<line x1="473.9" y1="235" x2="473.9" y2="255" stroke="#7a7a79" stroke-width="0.5"/>
<line x1="469.3" y1="275.9" x2="469.3" y2="301.6" stroke="#7a7a79" stroke-width="0.5"/>
<line x1="471.6" y1="275.9" x2="471.6" y2="301.6" stroke="#7a7a79" stroke-width="0.5"/>
<line x1="473.9" y1="275.9" x2="473.9" y2="301.6" stroke="#7a7a79" stroke-width="0.5"/>
<line x1="597.4" y1="220.9" x2="711" y2="220.9" stroke="#1d1d1b" stroke-width="1.2"/>
<line x1="599.7" y1="262.8" x2="599.7" y2="285.6" stroke="#1d1d1b" stroke-width="1.4"/>
<line x1="186" y1="16" x2="186" y2="81" stroke="#1d1d1b" stroke-width="1.3"/>
<line x1="309.9" y1="16" x2="309.9" y2="81" stroke="#1d1d1b" stroke-width="1.3"/>
<line x1="451.8" y1="40" x2="451.8" y2="87.6" stroke="#1d1d1b" stroke-width="1.3"/>
<line x1="196.6" y1="129.4" x2="196.6" y2="143" stroke="#1d1d1b" stroke-width="1.5"/>
<line x1="626.7" y1="63" x2="626.7" y2="152" stroke="#505050" stroke-width="1.1"/>
<line x1="620.2" y1="381.6" x2="620.2" y2="480" stroke="#1d1d1b" stroke-width="1.3"/>
<line x1="110.5" y1="324.5" x2="110.5" y2="432" stroke="#1d1d1b" stroke-width="1.3"/>
<line x1="291" y1="297.3" x2="334.6" y2="297.3" stroke="#1d1d1b" stroke-width="1"/>
<line x1="283" y1="364.9" x2="283" y2="408.7" stroke="#3a3a39" stroke-width="1"/>
<line x1="40" y1="103.8" x2="74" y2="103.8" stroke="#505050" stroke-width="1.4"/>
<line x1="74" y1="103.8" x2="74" y2="145.5" stroke="#505050" stroke-width="1.4"/>
<line x1="74" y1="161" x2="74" y2="172.5" stroke="#505050" stroke-width="1.4"/>
<line x1="40" y1="168.7" x2="74" y2="168.7" stroke="#505050" stroke-width="1.4"/>
<line x1="90.1" y1="172.5" x2="103" y2="172.5" stroke="#505050" stroke-width="1.4"/>
<line x1="103" y1="172.5" x2="103" y2="210.5" stroke="#505050" stroke-width="1.4"/>
<line x1="103" y1="222" x2="103" y2="225" stroke="#505050" stroke-width="1.4"/>
<line x1="99.5" y1="103.5" x2="126" y2="103.5" stroke="#505050" stroke-width="1.4"/>
<line x1="99.5" y1="103.5" x2="99.5" y2="143" stroke="#505050" stroke-width="1.4"/>
<line x1="133.5" y1="108.2" x2="162" y2="108.2" stroke="#505050" stroke-width="1.4"/>
<line x1="161.5" y1="108" x2="161.5" y2="121.5" stroke="#505050" stroke-width="1.4"/>
<line x1="161.5" y1="134" x2="161.5" y2="145.5" stroke="#505050" stroke-width="1.4"/>
<line x1="103" y1="187.5" x2="147.5" y2="187.5" stroke="#505050" stroke-width="1.4"/>
<line x1="211" y1="95.3" x2="211" y2="114.6" stroke="#505050" stroke-width="1.4"/>
<line x1="211" y1="107.6" x2="288.2" y2="107.6" stroke="#505050" stroke-width="1.2"/>
<line x1="211" y1="126.2" x2="211" y2="143" stroke="#505050" stroke-width="1.4"/>
<line x1="288.2" y1="95.3" x2="288.2" y2="120" stroke="#505050" stroke-width="1.4"/>
<line x1="288.2" y1="131.3" x2="288.2" y2="147" stroke="#505050" stroke-width="1.4"/>
<line x1="328.2" y1="108.2" x2="328.2" y2="120" stroke="#505050" stroke-width="1.4"/>
<line x1="328.2" y1="119.8" x2="363" y2="119.8" stroke="#505050" stroke-width="1.2"/>
<line x1="328.2" y1="132" x2="328.2" y2="148" stroke="#505050" stroke-width="1.4"/>
<line x1="568" y1="101.7" x2="568" y2="113.3" stroke="#505050" stroke-width="1.4"/>
<line x1="626.7" y1="152.7" x2="653.1" y2="152.7" stroke="#505050" stroke-width="1.3"/>
<line x1="608.7" y1="140.4" x2="608.7" y2="186" stroke="#505050" stroke-width="1.4"/>
<line x1="584.2" y1="141.2" x2="597" y2="141.2" stroke="#505050" stroke-width="1.4"/>
<line x1="653.1" y1="169.5" x2="653.1" y2="181" stroke="#505050" stroke-width="1.4"/>
<line x1="704.2" y1="153.2" x2="704.2" y2="186.7" stroke="#505050" stroke-width="1.4"/>
<line x1="704.2" y1="153.2" x2="737.7" y2="153.2" stroke="#505050" stroke-width="1.4"/>
<line x1="741" y1="153.2" x2="776.3" y2="153.2" stroke="#505050" stroke-width="1.4"/>
<line x1="776.3" y1="153.2" x2="776.3" y2="172.5" stroke="#505050" stroke-width="1.4"/>
<line x1="776.3" y1="183" x2="776.3" y2="189.3" stroke="#505050" stroke-width="1.4"/>
<line x1="741" y1="189.3" x2="776.3" y2="189.3" stroke="#505050" stroke-width="1.4"/>
<line x1="800.8" y1="154.5" x2="853.6" y2="154.5" stroke="#505050" stroke-width="1.4"/>
<line x1="800.8" y1="154.5" x2="800.8" y2="189.3" stroke="#505050" stroke-width="1.4"/>
<line x1="800.8" y1="189.3" x2="812.4" y2="189.3" stroke="#505050" stroke-width="1.4"/>
<line x1="800.8" y1="208.6" x2="800.8" y2="212.5" stroke="#505050" stroke-width="1.4"/>
<line x1="800.8" y1="212.5" x2="853.6" y2="212.5" stroke="#505050" stroke-width="1.4"/>
<line x1="769.9" y1="239.5" x2="769.9" y2="246.4" stroke="#505050" stroke-width="1.4"/>
<line x1="769.9" y1="258" x2="769.9" y2="271.7" stroke="#505050" stroke-width="1.4"/>
<line x1="769.9" y1="275.3" x2="769.9" y2="292.8" stroke="#505050" stroke-width="1.4"/>
<line x1="769.9" y1="303.5" x2="769.9" y2="308.2" stroke="#505050" stroke-width="1.4"/>
<line x1="731.2" y1="308.2" x2="769.9" y2="308.2" stroke="#505050" stroke-width="1.4"/>
<line x1="770.6" y1="334.7" x2="780" y2="334.7" stroke="#505050" stroke-width="1.4"/>
<line x1="798.2" y1="335.3" x2="798.2" y2="375.2" stroke="#505050" stroke-width="1.4"/>
<line x1="798.2" y1="335.3" x2="853.6" y2="335.3" stroke="#505050" stroke-width="1.4"/>
<line x1="798.2" y1="375.2" x2="810.3" y2="375.2" stroke="#505050" stroke-width="1.4"/>
<line x1="798.2" y1="394.5" x2="798.2" y2="397.6" stroke="#505050" stroke-width="1.4"/>
<line x1="798.2" y1="397.6" x2="853.6" y2="397.6" stroke="#505050" stroke-width="1.4"/>
<line x1="733.8" y1="374" x2="769.9" y2="374" stroke="#505050" stroke-width="1.4"/>
<line x1="769.9" y1="362.3" x2="769.9" y2="389.4" stroke="#505050" stroke-width="1.4"/>
<line x1="769.9" y1="401" x2="769.9" y2="418.2" stroke="#505050" stroke-width="1.4"/>
<line x1="744.9" y1="418.2" x2="769.9" y2="418.2" stroke="#505050" stroke-width="1.4"/>
<line x1="558.5" y1="381.6" x2="574" y2="381.6" stroke="#505050" stroke-width="1.4"/>
<line x1="585" y1="381.6" x2="599.7" y2="381.6" stroke="#505050" stroke-width="1.4"/>
<line x1="599.7" y1="348" x2="599.7" y2="381.6" stroke="#505050" stroke-width="1.4"/>
<line x1="599.7" y1="381.6" x2="604" y2="381.6" stroke="#505050" stroke-width="1.4"/>
<line x1="620" y1="381.6" x2="646.2" y2="381.6" stroke="#505050" stroke-width="1.4"/>
<line x1="645.3" y1="352" x2="645.3" y2="363" stroke="#505050" stroke-width="1.4"/>
<line x1="701.6" y1="343" x2="701.6" y2="358.5" stroke="#505050" stroke-width="1.4"/>
<line x1="701.6" y1="370" x2="701.6" y2="382.4" stroke="#505050" stroke-width="1.4"/>
<line x1="701.6" y1="382.4" x2="731.2" y2="382.4" stroke="#505050" stroke-width="1.4"/>
<line x1="427.4" y1="382.5" x2="484.8" y2="382.5" stroke="#505050" stroke-width="1.4"/>
<line x1="484" y1="359.2" x2="484" y2="368.2" stroke="#505050" stroke-width="1.4"/>
<line x1="521.5" y1="370.8" x2="554.6" y2="370.8" stroke="#505050" stroke-width="1.4"/>
<line x1="521.5" y1="397.7" x2="554.6" y2="397.7" stroke="#505050" stroke-width="1.4"/>
<line x1="521.5" y1="366.5" x2="521.5" y2="370.8" stroke="#505050" stroke-width="1.4"/>
<line x1="521.5" y1="386" x2="521.5" y2="397.7" stroke="#505050" stroke-width="1.4"/>
<line x1="69.5" y1="228.4" x2="69.5" y2="269.6" stroke="#505050" stroke-width="1.4"/>
<line x1="69.5" y1="269.6" x2="81" y2="269.6" stroke="#505050" stroke-width="1.4"/>
<line x1="96.6" y1="269.6" x2="148" y2="269.6" stroke="#505050" stroke-width="1.4"/>
<line x1="103.8" y1="228.4" x2="103.8" y2="256.5" stroke="#505050" stroke-width="1.4"/>
<line x1="88.8" y1="294" x2="88.8" y2="316" stroke="#505050" stroke-width="1.4"/>
<line x1="40" y1="316" x2="88.8" y2="316" stroke="#505050" stroke-width="1.4"/>
<line x1="109.4" y1="270.4" x2="109.4" y2="301.3" stroke="#505050" stroke-width="1.4"/>
<line x1="109.4" y1="301.3" x2="128" y2="301.3" stroke="#505050" stroke-width="1.4"/>
<line x1="139" y1="301.3" x2="148" y2="301.3" stroke="#505050" stroke-width="1.4"/>
<line x1="88.8" y1="316" x2="88.8" y2="327.6" stroke="#505050" stroke-width="1.4"/>
<line x1="88.8" y1="343" x2="88.8" y2="375.2" stroke="#505050" stroke-width="1.4"/>
<line x1="16" y1="375.2" x2="88.8" y2="375.2" stroke="#505050" stroke-width="1.4"/>
<line x1="109.4" y1="324.5" x2="139" y2="324.5" stroke="#505050" stroke-width="1.4"/>
<line x1="172.5" y1="324.5" x2="217.6" y2="324.5" stroke="#505050" stroke-width="1.4"/>
<line x1="185" y1="294.9" x2="185" y2="324.5" stroke="#505050" stroke-width="1.4"/>
<line x1="366.8" y1="79.3" x2="426" y2="79.3" stroke="#505050" stroke-width="1.4"/>
<line x1="426" y1="79.3" x2="426" y2="90.9" stroke="#505050" stroke-width="1.4"/>
<line x1="426" y1="101.2" x2="426" y2="114" stroke="#505050" stroke-width="1.4"/>
<line x1="366.8" y1="114.2" x2="431.7" y2="114.2" stroke="#505050" stroke-width="1.4"/>
<line x1="475.3" y1="98.6" x2="533.2" y2="98.6" stroke="#505050" stroke-width="1.4"/>
<line x1="475.3" y1="98.6" x2="475.3" y2="118.6" stroke="#505050" stroke-width="1.4"/>
<line x1="475.3" y1="130.1" x2="475.3" y2="133.2" stroke="#505050" stroke-width="1.4"/>
<line x1="509.5" y1="63.8" x2="509.5" y2="74.6" stroke="#505050" stroke-width="1.4"/>
<line x1="509.5" y1="87" x2="509.5" y2="98.6" stroke="#505050" stroke-width="1.4"/>
<line x1="220.8" y1="337.9" x2="261.6" y2="337.9" stroke="#505050" stroke-width="1.4"/>
<line x1="261.6" y1="300.5" x2="261.6" y2="314.1" stroke="#505050" stroke-width="1.4"/>
<line x1="261.6" y1="325" x2="261.6" y2="350.5" stroke="#505050" stroke-width="1.4"/>
<line x1="299.5" y1="337.9" x2="334.4" y2="337.9" stroke="#505050" stroke-width="1.4"/>
<line x1="368.9" y1="353.3" x2="368.9" y2="366.6" stroke="#505050" stroke-width="1.4"/>
<line x1="368.9" y1="379.5" x2="368.9" y2="391.1" stroke="#505050" stroke-width="1.4"/>
<line x1="368.9" y1="405.3" x2="368.9" y2="408.7" stroke="#505050" stroke-width="1.4"/>
<line x1="368.9" y1="391.1" x2="424.7" y2="391.1" stroke="#505050" stroke-width="1.4"/>
<path d="M254 189 L254 196.6 A7.6 7.6 0 0 0 261.34 190.97" fill="none" stroke="#5a5a59" stroke-width="0.6"/>
<path d="M277.8 189 L277.8 207.4 A18.4 18.4 0 0 1 259.58 191.56" fill="none" stroke="#5a5a59" stroke-width="0.6"/>
<path d="M254 257.8 L254 250.2 A7.6 7.6 0 0 1 261.34 255.83" fill="none" stroke="#5a5a59" stroke-width="0.6"/>
<path d="M277.8 257.8 L277.8 239.4 A18.4 18.4 0 0 0 259.58 255.24" fill="none" stroke="#5a5a59" stroke-width="0.6"/>
<path d="M432.6 189 L432.6 196.6 A7.6 7.6 0 0 0 439.94 190.97" fill="none" stroke="#5a5a59" stroke-width="0.6"/>
<path d="M456.7 190.6 L456.7 207.6 A17 17 0 0 1 439.87 192.97" fill="none" stroke="#5a5a59" stroke-width="0.6"/>
<path d="M432.6 316 L432.6 308.4 A7.6 7.6 0 0 1 439.94 314.03" fill="none" stroke="#5a5a59" stroke-width="0.6"/>
<path d="M456.7 314 L456.7 297 A17 17 0 0 0 439.87 311.63" fill="none" stroke="#5a5a59" stroke-width="0.6"/>
<path d="M571.8 224.5 L571.8 242.2 A17.7 17.7 0 0 0 589.33 226.96" fill="none" stroke="#5a5a59" stroke-width="0.6"/>
<path d="M596.3 222.5 L596.3 230.7 A8.2 8.2 0 0 1 588.38 224.62" fill="none" stroke="#5a5a59" stroke-width="0.6"/>
<path d="M571.8 304.8 L571.8 287.1 A17.7 17.7 0 0 1 589.33 302.34" fill="none" stroke="#5a5a59" stroke-width="0.6"/>
<path d="M596.3 305.1 L596.3 296.9 A8.2 8.2 0 0 0 588.38 302.98" fill="none" stroke="#5a5a59" stroke-width="0.6"/>
<path d="M599.6 238 L617.6 238 A18 18 0 0 1 606.34 254.69" fill="none" stroke="#5a5a59" stroke-width="0.6"/>
<path d="M599.6 262.5 L606.6 262.5 A7 7 0 0 0 601.99 255.92" fill="none" stroke="#5a5a59" stroke-width="0.6"/>
<path d="M74 161 L58.5 161 A15.5 15.5 0 0 1 74 145.5" fill="none" stroke="#5a5a59" stroke-width="0.6"/>
<path d="M90.1 172.5 L90.1 188 A15.5 15.5 0 0 1 74.6 172.5" fill="none" stroke="#5a5a59" stroke-width="0.6"/>
<path d="M114.2 143 L114.2 155.5 A12.5 12.5 0 0 1 101.7 143" fill="none" stroke="#5a5a59" stroke-width="0.6"/>
<path d="M161.5 121.5 L150 121.5 A11.5 11.5 0 0 0 161.5 133" fill="none" stroke="#5a5a59" stroke-width="0.6"/>
<path d="M103 222 L92 222 A11 11 0 0 1 103 211" fill="none" stroke="#5a5a59" stroke-width="0.6"/>
<path d="M149.6 157.2 L167.6 157.2 A18 18 0 0 1 149.6 175.2" fill="none" stroke="#5a5a59" stroke-width="0.6"/>
<path d="M193 152 L193 135.8 A16.2 16.2 0 0 0 176.8 152" fill="none" stroke="#5a5a59" stroke-width="0.6"/>
<path d="M211 126.2 L199 126.2 A12 12 0 0 1 211 114.2" fill="none" stroke="#5a5a59" stroke-width="0.6"/>
<path d="M192 108.2 L192 93.2 A15 15 0 0 1 207 108.2" fill="none" stroke="#5a5a59" stroke-width="0.6"/>
<path d="M304.5 108.2 L304.5 92.7 A15.5 15.5 0 0 0 289 108.2" fill="none" stroke="#5a5a59" stroke-width="0.6"/>
<path d="M288.2 131.3 L299.2 131.3 A11 11 0 0 0 288.2 120.3" fill="none" stroke="#5a5a59" stroke-width="0.6"/>
<path d="M324.3 152 L324.3 135.8 A16.2 16.2 0 0 0 308.1 152" fill="none" stroke="#5a5a59" stroke-width="0.6"/>
<path d="M328.2 132 L316.7 132 A11.5 11.5 0 0 1 328.2 120.5" fill="none" stroke="#5a5a59" stroke-width="0.6"/>
<path d="M437.6 152 L437.6 135.8 A16.2 16.2 0 0 0 421.4 152" fill="none" stroke="#5a5a59" stroke-width="0.6"/>
<path d="M568 113.3 L555 113.3 A13 13 0 0 0 568 126.3" fill="none" stroke="#5a5a59" stroke-width="0.6"/>
<path d="M607 141.3 L607 129.8 A11.5 11.5 0 0 0 595.5 141.3" fill="none" stroke="#5a5a59" stroke-width="0.6"/>
<path d="M625.6 141.3 L625.6 125.8 A15.5 15.5 0 0 0 610.1 141.3" fill="none" stroke="#5a5a59" stroke-width="0.6"/>
<path d="M652.4 154 L636.9 154 A15.5 15.5 0 0 0 652.4 169.5" fill="none" stroke="#5a5a59" stroke-width="0.6"/>
<path d="M704.2 172 L692.7 172 A11.5 11.5 0 0 1 704.2 160.5" fill="none" stroke="#5a5a59" stroke-width="0.6"/>
<path d="M686.3 187 L686.3 169.6 A17.4 17.4 0 0 0 668.9 187" fill="none" stroke="#5a5a59" stroke-width="0.6"/>
<path d="M776.3 183 L787.3 183 A11 11 0 0 0 776.3 172" fill="none" stroke="#5a5a59" stroke-width="0.6"/>
<path d="M800.8 208.6 L816.3 208.6 A15.5 15.5 0 0 0 800.8 193.1" fill="none" stroke="#5a5a59" stroke-width="0.6"/>
<path d="M783.5 214 L783.5 228.5 A14.5 14.5 0 0 0 798 214" fill="none" stroke="#5a5a59" stroke-width="0.6"/>
<path d="M769.9 258 L781.9 258 A12 12 0 0 0 769.9 246" fill="none" stroke="#5a5a59" stroke-width="0.6"/>
<path d="M769.9 292.8 L781.9 292.8 A12 12 0 0 1 769.9 304.8" fill="none" stroke="#5a5a59" stroke-width="0.6"/>
<path d="M795.5 334.7 L795.5 350.2 A15.5 15.5 0 0 1 780 334.7" fill="none" stroke="#5a5a59" stroke-width="0.6"/>
<path d="M798.2 394.5 L813.7 394.5 A15.5 15.5 0 0 0 798.2 379" fill="none" stroke="#5a5a59" stroke-width="0.6"/>
<path d="M769.9 401 L781.9 401 A12 12 0 0 0 769.9 389" fill="none" stroke="#5a5a59" stroke-width="0.6"/>
<path d="M574 381.6 L574 393.1 A11.5 11.5 0 0 0 585.5 381.6" fill="none" stroke="#5a5a59" stroke-width="0.6"/>
<path d="M605 381.6 L605 396.6 A15 15 0 0 0 620 381.6" fill="none" stroke="#5a5a59" stroke-width="0.6"/>
<path d="M645.3 380 L645.3 364.5 A15.5 15.5 0 0 0 629.8 380" fill="none" stroke="#5a5a59" stroke-width="0.6"/>
<path d="M701.6 369.5 L690.1 369.5 A11.5 11.5 0 0 1 701.6 358" fill="none" stroke="#5a5a59" stroke-width="0.6"/>
<path d="M700.5 341.5 L700.5 359.3 A17.8 17.8 0 0 1 682.7 341.5" fill="none" stroke="#5a5a59" stroke-width="0.6"/>
<path d="M722.3 337.4 L704.2 337.4 A18.1 18.1 0 0 1 722.3 319.3" fill="none" stroke="#5a5a59" stroke-width="0.6"/>
<path d="M484.8 380 L496.4 380 A11.6 11.6 0 0 0 484.8 368.4" fill="none" stroke="#5a5a59" stroke-width="0.6"/>
<path d="M517.9 352 L517.9 335 A17 17 0 0 0 500.9 352" fill="none" stroke="#5a5a59" stroke-width="0.6"/>
<path d="M521.5 355.6 L509.9 355.6 A11.6 11.6 0 0 0 521.5 367.2" fill="none" stroke="#5a5a59" stroke-width="0.6"/>
<path d="M521.5 374.8 L509.9 374.8 A11.6 11.6 0 0 0 521.5 386.4" fill="none" stroke="#5a5a59" stroke-width="0.6"/>
<path d="M103.8 256.5 L92.3 256.5 A11.5 11.5 0 0 0 103.8 268" fill="none" stroke="#5a5a59" stroke-width="0.6"/>
<path d="M105.6 294 L105.6 278.5 A15.5 15.5 0 0 0 90.1 294" fill="none" stroke="#5a5a59" stroke-width="0.6"/>
<path d="M139 301.3 L139 312.3 A11 11 0 0 1 128 301.3" fill="none" stroke="#5a5a59" stroke-width="0.6"/>
<path d="M88.8 327.6 L73.3 327.6 A15.5 15.5 0 0 0 88.8 343.1" fill="none" stroke="#5a5a59" stroke-width="0.6"/>
<path d="M105.6 358.5 L105.6 343 A15.5 15.5 0 0 0 90.1 358.5" fill="none" stroke="#5a5a59" stroke-width="0.6"/>
<path d="M189.3 324.5 L189.3 313.5 A11 11 0 0 1 200.3 324.5" fill="none" stroke="#5a5a59" stroke-width="0.6"/>
<path d="M153.7 291.5 L153.7 275.3 A16.2 16.2 0 0 1 169.9 291.5" fill="none" stroke="#5a5a59" stroke-width="0.6"/>
<path d="M287.5 294.9 L287.5 310.9 A16 16 0 0 1 271.5 294.9" fill="none" stroke="#5a5a59" stroke-width="0.6"/>
<path d="M447 114 L447 99 A15 15 0 0 0 432 114" fill="none" stroke="#5a5a59" stroke-width="0.6"/>
<path d="M454.2 114 L454.2 98.5 A15.5 15.5 0 0 1 469.7 114" fill="none" stroke="#5a5a59" stroke-width="0.6"/>
<path d="M475.3 130.1 L486.8 130.1 A11.5 11.5 0 0 0 475.3 118.6" fill="none" stroke="#5a5a59" stroke-width="0.6"/>
<path d="M509.5 87 L521.5 87 A12 12 0 0 0 509.5 75" fill="none" stroke="#5a5a59" stroke-width="0.6"/>
<path d="M711.5 192 L694.1 192 A17.4 17.4 0 0 0 711.5 209.4" fill="none" stroke="#5a5a59" stroke-width="0.6"/>
<path d="M261.6 314.3 L272.6 314.3 A11 11 0 0 1 261.6 325.3" fill="none" stroke="#5a5a59" stroke-width="0.6"/>
<path d="M368.9 379.5 L381.8 379.5 A12.9 12.9 0 0 0 368.9 366.6" fill="none" stroke="#5a5a59" stroke-width="0.6"/>
<path d="M368.9 391.8 L382.4 391.8 A13.5 13.5 0 0 1 368.9 405.3" fill="none" stroke="#5a5a59" stroke-width="0.6"/>
<path d="M281.3 337.9 L281.3 356.1 A18.2 18.2 0 0 1 263.1 337.9" fill="none" stroke="#5a5a59" stroke-width="0.6"/>
<path d="M284.6 337.9 L284.6 352.4 A14.5 14.5 0 0 0 299.1 337.9" fill="none" stroke="#5a5a59" stroke-width="0.6"/>
<rect x="16" y="6.9" width="494" height="9.3" fill="#fff"/>
<line x1="16" y1="7.3" x2="510" y2="7.3" stroke="#c6c6c5" stroke-width="0.9"/>
<line x1="16" y1="15.8" x2="510" y2="15.8" stroke="#d2d2d1" stroke-width="0.9"/>
<line x1="16" y1="11.55" x2="510" y2="11.55" stroke="#a3a3a2" stroke-width="0.9"/>
<line x1="41" y1="11.55" x2="45" y2="11.55" stroke="#6a6a69" stroke-width="1.2"/>
<line x1="97.5" y1="11.55" x2="101.5" y2="11.55" stroke="#6a6a69" stroke-width="1.2"/>
<line x1="152" y1="11.55" x2="156" y2="11.55" stroke="#6a6a69" stroke-width="1.2"/>
<line x1="214" y1="11.55" x2="218" y2="11.55" stroke="#6a6a69" stroke-width="1.2"/>
<line x1="277" y1="11.55" x2="281" y2="11.55" stroke="#6a6a69" stroke-width="1.2"/>
<line x1="335" y1="11.55" x2="339" y2="11.55" stroke="#6a6a69" stroke-width="1.2"/>
<line x1="406" y1="11.55" x2="410" y2="11.55" stroke="#6a6a69" stroke-width="1.2"/>
<line x1="480" y1="11.55" x2="484" y2="11.55" stroke="#6a6a69" stroke-width="1.2"/>
<rect x="517" y="54.8" width="364.6" height="9" fill="#fff"/>
<line x1="517" y1="55.2" x2="881.6" y2="55.2" stroke="#c6c6c5" stroke-width="0.9"/>
<line x1="517" y1="63.4" x2="881.6" y2="63.4" stroke="#d2d2d1" stroke-width="0.9"/>
<line x1="517" y1="59.3" x2="881.6" y2="59.3" stroke="#a3a3a2" stroke-width="0.9"/>
<line x1="539" y1="59.3" x2="543" y2="59.3" stroke="#6a6a69" stroke-width="1.2"/>
<line x1="593" y1="59.3" x2="597" y2="59.3" stroke="#6a6a69" stroke-width="1.2"/>
<line x1="652" y1="59.3" x2="656" y2="59.3" stroke="#6a6a69" stroke-width="1.2"/>
<line x1="706" y1="59.3" x2="710" y2="59.3" stroke="#6a6a69" stroke-width="1.2"/>
<line x1="763" y1="59.3" x2="767" y2="59.3" stroke="#6a6a69" stroke-width="1.2"/>
<line x1="840" y1="59.3" x2="844" y2="59.3" stroke="#6a6a69" stroke-width="1.2"/>
<rect x="7.3" y="53" width="8.8" height="373" fill="#fff"/>
<line x1="7.7" y1="53" x2="7.7" y2="426" stroke="#c6c6c5" stroke-width="0.9"/>
<line x1="15.7" y1="53" x2="15.7" y2="426" stroke="#d2d2d1" stroke-width="0.9"/>
<line x1="11.7" y1="53" x2="11.7" y2="426" stroke="#a3a3a2" stroke-width="0.9"/>
<line x1="11.7" y1="74" x2="11.7" y2="78" stroke="#6a6a69" stroke-width="1.2"/>
<line x1="11.7" y1="134" x2="11.7" y2="138" stroke="#6a6a69" stroke-width="1.2"/>
<line x1="11.7" y1="196" x2="11.7" y2="200" stroke="#6a6a69" stroke-width="1.2"/>
<line x1="11.7" y1="247" x2="11.7" y2="251" stroke="#6a6a69" stroke-width="1.2"/>
<line x1="11.7" y1="292" x2="11.7" y2="296" stroke="#6a6a69" stroke-width="1.2"/>
<line x1="11.7" y1="347" x2="11.7" y2="351" stroke="#6a6a69" stroke-width="1.2"/>
<rect x="876.8" y="59.2" width="9.2" height="420.8" fill="#fff"/>
<line x1="877.2" y1="59.2" x2="877.2" y2="480" stroke="#c6c6c5" stroke-width="0.9"/>
<line x1="885.6" y1="59.2" x2="885.6" y2="480" stroke="#d2d2d1" stroke-width="0.9"/>
<line x1="881.4" y1="59.2" x2="881.4" y2="480" stroke="#a3a3a2" stroke-width="0.9"/>
<line x1="881.4" y1="129" x2="881.4" y2="133" stroke="#6a6a69" stroke-width="1.2"/>
<line x1="881.4" y1="183" x2="881.4" y2="187" stroke="#6a6a69" stroke-width="1.2"/>
<line x1="881.4" y1="243" x2="881.4" y2="247" stroke="#6a6a69" stroke-width="1.2"/>
<line x1="881.4" y1="303" x2="881.4" y2="307" stroke="#6a6a69" stroke-width="1.2"/>
<line x1="881.4" y1="368" x2="881.4" y2="372" stroke="#6a6a69" stroke-width="1.2"/>
<line x1="881.4" y1="443" x2="881.4" y2="447" stroke="#6a6a69" stroke-width="1.2"/>
<rect x="18" y="432" width="402" height="9" fill="#fff"/>
<line x1="18" y1="432.4" x2="420" y2="432.4" stroke="#c6c6c5" stroke-width="0.9"/>
<line x1="18" y1="440.6" x2="420" y2="440.6" stroke="#d2d2d1" stroke-width="0.9"/>
<line x1="18" y1="436.5" x2="420" y2="436.5" stroke="#a3a3a2" stroke-width="0.9"/>
<line x1="38" y1="436.5" x2="42" y2="436.5" stroke="#6a6a69" stroke-width="1.2"/>
<line x1="86" y1="436.5" x2="90" y2="436.5" stroke="#6a6a69" stroke-width="1.2"/>
<line x1="136" y1="436.5" x2="140" y2="436.5" stroke="#6a6a69" stroke-width="1.2"/>
<line x1="188" y1="436.5" x2="192" y2="436.5" stroke="#6a6a69" stroke-width="1.2"/>
<line x1="246" y1="436.5" x2="250" y2="436.5" stroke="#6a6a69" stroke-width="1.2"/>
<line x1="303" y1="436.5" x2="307" y2="436.5" stroke="#6a6a69" stroke-width="1.2"/>
<line x1="348" y1="436.5" x2="352" y2="436.5" stroke="#6a6a69" stroke-width="1.2"/>
<line x1="393" y1="436.5" x2="397" y2="436.5" stroke="#6a6a69" stroke-width="1.2"/>
<rect x="427" y="480.1" width="426" height="9.1" fill="#fff"/>
<line x1="427" y1="480.5" x2="853" y2="480.5" stroke="#c6c6c5" stroke-width="0.9"/>
<line x1="427" y1="488.8" x2="853" y2="488.8" stroke="#d2d2d1" stroke-width="0.9"/>
<line x1="427" y1="484.65" x2="853" y2="484.65" stroke="#a3a3a2" stroke-width="0.9"/>
<line x1="458" y1="484.65" x2="462" y2="484.65" stroke="#6a6a69" stroke-width="1.2"/>
<line x1="517" y1="484.65" x2="521" y2="484.65" stroke="#6a6a69" stroke-width="1.2"/>
<line x1="583" y1="484.65" x2="587" y2="484.65" stroke="#6a6a69" stroke-width="1.2"/>
<line x1="644" y1="484.65" x2="648" y2="484.65" stroke="#6a6a69" stroke-width="1.2"/>
<line x1="702" y1="484.65" x2="706" y2="484.65" stroke="#6a6a69" stroke-width="1.2"/>
<line x1="766" y1="484.65" x2="770" y2="484.65" stroke="#6a6a69" stroke-width="1.2"/>
<line x1="826" y1="484.65" x2="830" y2="484.65" stroke="#6a6a69" stroke-width="1.2"/>
<rect x="876.8" y="54.8" width="9.2" height="9" fill="#fff"/>
<line x1="876" y1="55.2" x2="885.6" y2="55.2" stroke="#c6c6c5" stroke-width="0.9"/>
<line x1="885.6" y1="55.2" x2="885.6" y2="64" stroke="#c6c6c5" stroke-width="0.9"/>
<line x1="876" y1="59.2" x2="881.6" y2="59.2" stroke="#a3a3a2" stroke-width="0.9"/>
<line x1="881.6" y1="59.2" x2="881.6" y2="64" stroke="#a3a3a2" stroke-width="0.9"/>
<line x1="876" y1="63.4" x2="877.2" y2="63.4" stroke="#d2d2d1" stroke-width="0.9"/>
<rect x="5" y="5" width="11.1" height="15.5" fill="#1d1d1b"/>
<rect x="8" y="20" width="8" height="33" fill="#1d1d1b"/>
<rect x="5.2" y="98.6" width="10.8" height="8.4" fill="#1d1d1b"/>
<rect x="7.7" y="107" width="8.3" height="6.3" fill="#1d1d1b"/>
<rect x="5.2" y="165.6" width="10.8" height="7.4" fill="#1d1d1b"/>
<rect x="5.2" y="222.8" width="10.8" height="7.7" fill="#1d1d1b"/>
<rect x="5.2" y="267.8" width="10.8" height="9.5" fill="#1d1d1b"/>
<rect x="5.2" y="310.8" width="10.8" height="9.2" fill="#1d1d1b"/>
<rect x="7.7" y="320" width="8.3" height="3.7" fill="#1d1d1b"/>
<rect x="5.2" y="374" width="10.8" height="12.8" fill="#1d1d1b"/>
<rect x="7.7" y="386.8" width="8.3" height="39.9" fill="#1d1d1b"/>
<rect x="5.4" y="425.7" width="13.4" height="16.7" fill="#1d1d1b"/>
<rect x="16" y="101" width="24" height="2.8" fill="#1d1d1b"/>
<rect x="16" y="168" width="24" height="2.7" fill="#1d1d1b"/>
<rect x="16" y="224.8" width="132" height="3.6" fill="#1d1d1b"/>
<rect x="16" y="315.2" width="24" height="2.8" fill="#1d1d1b"/>
<rect x="68" y="5" width="12" height="10.7" fill="#1d1d1b"/>
<rect x="67.5" y="8" width="1.5" height="7.7" fill="#1d1d1b"/>
<rect x="119" y="8" width="4.8" height="7.7" fill="#1d1d1b"/>
<rect x="123.8" y="5" width="8.6" height="10.7" fill="#1d1d1b"/>
<rect x="175.6" y="8" width="5.9" height="7.7" fill="#1d1d1b"/>
<rect x="181.5" y="5" width="7.8" height="10.7" fill="#1d1d1b"/>
<rect x="243.2" y="5" width="10.8" height="11" fill="#1d1d1b"/>
<rect x="303.7" y="5" width="14.3" height="11" fill="#1d1d1b"/>
<rect x="355.2" y="8" width="5.3" height="8" fill="#1d1d1b"/>
<rect x="360.5" y="5" width="13.5" height="11" fill="#1d1d1b"/>
<rect x="441.5" y="8" width="6.2" height="8" fill="#1d1d1b"/>
<rect x="447.7" y="5" width="8.3" height="11" fill="#1d1d1b"/>
<rect x="510" y="4.6" width="10.4" height="21.2" fill="#1d1d1b"/>
<rect x="509.5" y="25.8" width="7.8" height="38.1" fill="#1d1d1b"/>
<rect x="506" y="8" width="4" height="8" fill="#1d1d1b"/>
<rect x="563" y="52.8" width="8.3" height="11.1" fill="#1d1d1b"/>
<rect x="619" y="55.4" width="3.5" height="8.5" fill="#1d1d1b"/>
<rect x="622.5" y="52.8" width="7.5" height="11.1" fill="#1d1d1b"/>
<rect x="678" y="52.8" width="12" height="11.1" fill="#1d1d1b"/>
<rect x="726.9" y="55.4" width="5.1" height="8.5" fill="#1d1d1b"/>
<rect x="732" y="52.8" width="12.1" height="11.1" fill="#1d1d1b"/>
<rect x="788.4" y="55.4" width="7.6" height="8.5" fill="#1d1d1b"/>
<rect x="796" y="52.8" width="10" height="11.1" fill="#1d1d1b"/>
<rect x="877.2" y="80" width="8" height="31.6" fill="#1d1d1b"/>
<rect x="885" y="80" width="2.8" height="7.6" fill="#1d1d1b"/>
<rect x="877.2" y="149.4" width="8" height="11.6" fill="#1d1d1b"/>
<rect x="885" y="149.4" width="2.8" height="11.6" fill="#1d1d1b"/>
<rect x="877.2" y="209" width="8" height="11.2" fill="#1d1d1b"/>
<rect x="885" y="209" width="2.8" height="11.2" fill="#1d1d1b"/>
<rect x="877.2" y="270.4" width="8" height="12.1" fill="#1d1d1b"/>
<rect x="885" y="270.4" width="2.8" height="12.1" fill="#1d1d1b"/>
<rect x="877.2" y="328.8" width="8" height="11.7" fill="#1d1d1b"/>
<rect x="885" y="328.8" width="2.8" height="11.7" fill="#1d1d1b"/>
<rect x="877.2" y="393.2" width="8" height="11.8" fill="#1d1d1b"/>
<rect x="885" y="393.2" width="2.8" height="11.8" fill="#1d1d1b"/>
<rect x="879" y="340.5" width="6" height="6.5" fill="#1d1d1b"/>
<rect x="879" y="405" width="6" height="5" fill="#1d1d1b"/>
<rect x="853.6" y="152" width="24.4" height="2.5" fill="#1d1d1b"/>
<rect x="853.6" y="212.5" width="24.4" height="3.1" fill="#1d1d1b"/>
<rect x="724.8" y="271.7" width="153.2" height="3.6" fill="#1d1d1b"/>
<rect x="853.6" y="332" width="24.4" height="2.8" fill="#1d1d1b"/>
<rect x="853.6" y="395.3" width="24.4" height="3.1" fill="#1d1d1b"/>
<rect x="61.3" y="431.6" width="9.9" height="9.2" fill="#1d1d1b"/>
<rect x="62.8" y="440.5" width="6.9" height="1.9" fill="#1d1d1b"/>
<rect x="104.8" y="431.6" width="10.2" height="9.2" fill="#1d1d1b"/>
<rect x="106.3" y="440.5" width="7.2" height="1.9" fill="#1d1d1b"/>
<rect x="161.3" y="431.6" width="11.5" height="9.2" fill="#1d1d1b"/>
<rect x="162.8" y="440.5" width="8.5" height="1.9" fill="#1d1d1b"/>
<rect x="213.7" y="431.6" width="9.4" height="9.2" fill="#1d1d1b"/>
<rect x="215.2" y="440.5" width="6.4" height="1.9" fill="#1d1d1b"/>
<rect x="279" y="431.6" width="8" height="9.2" fill="#1d1d1b"/>
<rect x="280.5" y="440.5" width="5" height="1.9" fill="#1d1d1b"/>
<rect x="323.8" y="431.6" width="8.2" height="9.2" fill="#1d1d1b"/>
<rect x="325.3" y="440.5" width="5.2" height="1.9" fill="#1d1d1b"/>
<rect x="367.3" y="431.6" width="9.7" height="9.2" fill="#1d1d1b"/>
<rect x="368.8" y="440.5" width="6.7" height="1.9" fill="#1d1d1b"/>
<rect x="208.3" y="432" width="5.4" height="8.6" fill="#1d1d1b"/>
<rect x="271.5" y="432" width="7.5" height="8.6" fill="#1d1d1b"/>
<rect x="412.3" y="431.9" width="11.2" height="7.8" fill="#1d1d1b"/>
<rect x="420.2" y="436.4" width="7.8" height="29.1" fill="#1d1d1b"/>
<rect x="417.5" y="465.5" width="10.5" height="24.5" fill="#1d1d1b"/>
<rect x="428.6" y="480" width="6.4" height="7.5" fill="#1d1d1b"/>
<rect x="484.3" y="479.9" width="7.2" height="7.4" fill="#1d1d1b"/>
<rect x="485.74" y="487" width="4.32" height="3.2" fill="#1d1d1b"/>
<rect x="546.9" y="479.9" width="12.9" height="7.4" fill="#1d1d1b"/>
<rect x="549.48" y="487" width="7.74" height="3.2" fill="#1d1d1b"/>
<rect x="611.3" y="479.9" width="12.8" height="7.4" fill="#1d1d1b"/>
<rect x="613.86" y="487" width="7.68" height="3.2" fill="#1d1d1b"/>
<rect x="668.7" y="479.9" width="14.9" height="7.4" fill="#1d1d1b"/>
<rect x="671.68" y="487" width="8.94" height="3.2" fill="#1d1d1b"/>
<rect x="723.8" y="479.9" width="19" height="7.4" fill="#1d1d1b"/>
<rect x="727.6" y="487" width="11.4" height="3.2" fill="#1d1d1b"/>
<rect x="793.4" y="479.9" width="11.4" height="7.4" fill="#1d1d1b"/>
<rect x="795.68" y="487" width="6.84" height="3.2" fill="#1d1d1b"/>
<rect x="851.3" y="479.9" width="26.7" height="7.3" fill="#1d1d1b"/>
<rect x="877.2" y="474" width="10.4" height="16.2" fill="#1d1d1b"/>
<rect x="147.5" y="174" width="5.2" height="127.3" fill="#1d1d1b"/>
<rect x="152.7" y="191.1" width="99.6" height="5.4" fill="#1d1d1b"/>
<rect x="247.2" y="186" width="5.1" height="10.5" fill="#1d1d1b"/>
<rect x="156" y="187" width="0.6" height="4.1" fill="#8a8a89"/>
<rect x="160" y="187" width="0.6" height="4.1" fill="#8a8a89"/>
<rect x="164" y="187" width="0.6" height="4.1" fill="#8a8a89"/>
<rect x="168" y="187" width="0.6" height="4.1" fill="#8a8a89"/>
<rect x="172" y="187" width="0.6" height="4.1" fill="#8a8a89"/>
<rect x="176" y="187" width="0.6" height="4.1" fill="#8a8a89"/>
<rect x="180" y="187" width="0.6" height="4.1" fill="#8a8a89"/>
<rect x="184" y="187" width="0.6" height="4.1" fill="#8a8a89"/>
<rect x="188" y="187" width="0.6" height="4.1" fill="#8a8a89"/>
<rect x="192" y="187" width="0.6" height="4.1" fill="#8a8a89"/>
<rect x="196" y="187" width="0.6" height="4.1" fill="#8a8a89"/>
<rect x="200" y="187" width="0.6" height="4.1" fill="#8a8a89"/>
<rect x="204" y="187" width="0.6" height="4.1" fill="#8a8a89"/>
<rect x="208" y="187" width="0.6" height="4.1" fill="#8a8a89"/>
<rect x="212" y="187" width="0.6" height="4.1" fill="#8a8a89"/>
<rect x="216" y="187" width="0.6" height="4.1" fill="#8a8a89"/>
<rect x="220" y="187" width="0.6" height="4.1" fill="#8a8a89"/>
<rect x="224" y="187" width="0.6" height="4.1" fill="#8a8a89"/>
<rect x="193.5" y="186.4" width="2.5" height="4.7" fill="#1d1d1b"/>
<rect x="152.7" y="246.5" width="99.6" height="5.4" fill="#1d1d1b"/>
<rect x="247.2" y="246.5" width="5.1" height="14.1" fill="#1d1d1b"/>
<rect x="159" y="251.9" width="1" height="8.1" fill="#1d1d1b"/>
<rect x="213.5" y="251.9" width="1" height="8.1" fill="#1d1d1b"/>
<rect x="216.5" y="251.9" width="1" height="8.1" fill="#1d1d1b"/>
<rect x="239" y="251.9" width="1" height="8.1" fill="#1d1d1b"/>
<rect x="279" y="184.9" width="77" height="2.5" fill="#1d1d1b"/>
<rect x="355" y="184.9" width="76.8" height="5.7" fill="#1d1d1b"/>
<rect x="279" y="184.9" width="6.6" height="75.8" fill="#1d1d1b"/>
<rect x="304.3" y="187" width="3.4" height="39.8" fill="#1d1d1b"/>
<rect x="329.4" y="187" width="3.4" height="39.8" fill="#1d1d1b"/>
<rect x="354.7" y="187" width="5.2" height="39.8" fill="#1d1d1b"/>
<rect x="285.6" y="204.5" width="18.7" height="3.2" fill="#1d1d1b"/>
<rect x="332.8" y="205.8" width="21.9" height="2.5" fill="#1d1d1b"/>
<rect x="285.6" y="226.4" width="130" height="5.3" fill="#1d1d1b"/>
<rect x="279" y="258.4" width="90" height="2.3" fill="#1d1d1b"/>
<rect x="316.6" y="231.7" width="3.8" height="26.7" fill="#1d1d1b"/>
<rect x="349" y="231.7" width="3.8" height="26.7" fill="#1d1d1b"/>
<rect x="285.6" y="247" width="31" height="3.2" fill="#1d1d1b"/>
<rect x="320.4" y="248.9" width="10.5" height="3.2" fill="#1d1d1b"/>
<rect x="329" y="248.9" width="1.9" height="9.5" fill="#1d1d1b"/>
<rect x="368.6" y="231.7" width="5.2" height="88.3" fill="#1d1d1b"/>
<rect x="415.4" y="184.9" width="5.6" height="14.5" fill="#1d1d1b"/>
<rect x="415.4" y="219.2" width="5.6" height="17.1" fill="#1d1d1b"/>
<rect x="415.4" y="256.9" width="5.6" height="19" fill="#1d1d1b"/>
<rect x="415.4" y="301.6" width="5.6" height="18.4" fill="#1d1d1b"/>
<rect x="374" y="264.5" width="41.2" height="3.5" fill="#1d1d1b"/>
<rect x="374" y="300.3" width="41.2" height="4.3" fill="#1d1d1b"/>
<rect x="368.4" y="314.5" width="63.3" height="5.5" fill="#1d1d1b"/>
<rect x="458.2" y="185.5" width="62.8" height="5.1" fill="#1d1d1b"/>
<rect x="469" y="185.5" width="5.2" height="13.9" fill="#1d1d1b"/>
<rect x="469" y="219.2" width="5.2" height="15.8" fill="#1d1d1b"/>
<rect x="469" y="255" width="5.2" height="20.9" fill="#1d1d1b"/>
<rect x="469" y="301.6" width="5.2" height="17.7" fill="#1d1d1b"/>
<rect x="515.3" y="190" width="5.7" height="129.3" fill="#1d1d1b"/>
<rect x="474" y="224.1" width="41.9" height="1.9" fill="#1d1d1b"/>
<rect x="474" y="259.7" width="41.9" height="4.4" fill="#1d1d1b"/>
<rect x="458.2" y="314" width="62.8" height="5.3" fill="#1d1d1b"/>
<rect x="521" y="220.7" width="49.9" height="2.8" fill="#1d1d1b"/>
<rect x="562.9" y="220.7" width="5.1" height="87.6" fill="#1d1d1b"/>
<rect x="562.9" y="220.7" width="8" height="4.7" fill="#1d1d1b"/>
<rect x="562.9" y="304.4" width="8" height="3.9" fill="#1d1d1b"/>
<rect x="521" y="235.5" width="42.6" height="3.3" fill="#1d1d1b"/>
<rect x="521" y="259.7" width="42.6" height="4.8" fill="#1d1d1b"/>
<rect x="521" y="295.3" width="42.6" height="3.4" fill="#1d1d1b"/>
<rect x="521" y="306.4" width="48.8" height="1.9" fill="#1d1d1b"/>
<rect x="528" y="223.5" width="3.5" height="12" fill="#1d1d1b"/>
<rect x="539.5" y="223.5" width="3.2" height="12" fill="#1d1d1b"/>
<rect x="528.6" y="298.7" width="3.2" height="7.7" fill="#1d1d1b"/>
<rect x="538" y="298.7" width="0.8" height="7.7" fill="#1d1d1b"/>
<rect x="555" y="298.7" width="0.8" height="7.7" fill="#1d1d1b"/>
<rect x="597.4" y="220.3" width="6.6" height="14.7" fill="#1d1d1b"/>
<rect x="597.4" y="229.4" width="127.3" height="5.6" fill="#1d1d1b"/>
<rect x="633.9" y="221" width="3.3" height="8.4" fill="#1d1d1b"/>
<rect x="649.1" y="221" width="3.3" height="8.4" fill="#1d1d1b"/>
<rect x="612.6" y="221" width="0.9" height="8.4" fill="#1d1d1b"/>
<rect x="627.2" y="221" width="0.9" height="8.4" fill="#1d1d1b"/>
<rect x="689.9" y="221" width="0.9" height="8.4" fill="#1d1d1b"/>
<rect x="700" y="221" width="0.9" height="8.4" fill="#1d1d1b"/>
<rect x="718.5" y="229.4" width="6.3" height="61.4" fill="#1d1d1b"/>
<rect x="599" y="285.3" width="125.7" height="5.5" fill="#1d1d1b"/>
<rect x="599" y="290.8" width="5" height="16.2" fill="#1d1d1b"/>
<rect x="618.5" y="290.8" width="4.3" height="16.2" fill="#1d1d1b"/>
<rect x="646.2" y="290.8" width="3.2" height="16.2" fill="#1d1d1b"/>
<rect x="656.9" y="290.8" width="3.9" height="16.2" fill="#1d1d1b"/>
<rect x="672.1" y="290.8" width="3.3" height="16.2" fill="#1d1d1b"/>
<rect x="697.5" y="290.8" width="3.2" height="16.2" fill="#1d1d1b"/>
<rect x="599" y="305.8" width="125" height="2.2" fill="#1d1d1b"/>
<rect x="125.7" y="15.7" width="4.3" height="138.8" fill="#1d1d1b"/>
<rect x="185.4" y="81" width="3.4" height="27.2" fill="#1d1d1b"/>
<rect x="247.8" y="16" width="4.4" height="138.5" fill="#1d1d1b"/>
<rect x="305.8" y="81" width="4.9" height="27.2" fill="#1d1d1b"/>
<rect x="363" y="16" width="3.8" height="138.5" fill="#1d1d1b"/>
<rect x="449.8" y="15.5" width="3.1" height="24.5" fill="#1d1d1b"/>
<rect x="449.8" y="87.6" width="3.1" height="27" fill="#1d1d1b"/>
<rect x="114.6" y="151.4" width="61" height="3.1" fill="#1d1d1b"/>
<rect x="195" y="151.4" width="112.6" height="3.1" fill="#1d1d1b"/>
<rect x="195" y="141.6" width="3.3" height="12.9" fill="#1d1d1b"/>
<rect x="326" y="151.4" width="94.4" height="3.1" fill="#1d1d1b"/>
<rect x="130" y="107.5" width="3.5" height="1.5" fill="#1d1d1b"/>
<rect x="132.2" y="108" width="1.3" height="33" fill="#1d1d1b"/>
<rect x="132.2" y="139.5" width="9.6" height="1.5" fill="#1d1d1b"/>
<rect x="140.5" y="139.5" width="1.3" height="7" fill="#1d1d1b"/>
<rect x="140.5" y="145" width="29.5" height="1.5" fill="#1d1d1b"/>
<rect x="168.8" y="145" width="1.2" height="7" fill="#1d1d1b"/>
<rect x="152" y="146" width="1.2" height="6" fill="#1d1d1b"/>
<rect x="565" y="63" width="3.8" height="38.7" fill="#1d1d1b"/>
<rect x="533.2" y="97.9" width="35.6" height="3.8" fill="#1d1d1b"/>
<rect x="533.2" y="97.9" width="3.4" height="56.6" fill="#1d1d1b"/>
<rect x="536.6" y="136" width="32.2" height="3.8" fill="#1d1d1b"/>
<rect x="565" y="126.2" width="3.8" height="28.3" fill="#1d1d1b"/>
<rect x="509" y="127.5" width="3.6" height="27" fill="#1d1d1b"/>
<rect x="533.2" y="151.5" width="35.6" height="3" fill="#1d1d1b"/>
<rect x="441" y="139.8" width="95.6" height="3.6" fill="#1d1d1b"/>
<rect x="441" y="152" width="95.6" height="2.5" fill="#1d1d1b"/>
<rect x="441" y="139.8" width="3.5" height="14.7" fill="#1d1d1b"/>
<rect x="562.3" y="186" width="106" height="3.4" fill="#1d1d1b"/>
<rect x="562.3" y="152" width="12.1" height="2.5" fill="#1d1d1b"/>
<rect x="687.5" y="186.7" width="53.5" height="3.1" fill="#1d1d1b"/>
<rect x="737.7" y="63" width="3.3" height="126.3" fill="#1d1d1b"/>
<rect x="684" y="63" width="3.5" height="24.6" fill="#1d1d1b"/>
<rect x="800.3" y="63" width="3.1" height="24.6" fill="#1d1d1b"/>
<rect x="767.3" y="212.5" width="3.3" height="27" fill="#1d1d1b"/>
<rect x="767.3" y="212.5" width="15.7" height="1.5" fill="#1d1d1b"/>
<rect x="767.3" y="237.8" width="12.7" height="1.2" fill="#1d1d1b"/>
<rect x="767.3" y="308.2" width="3.3" height="27.1" fill="#1d1d1b"/>
<rect x="440" y="350.2" width="60.5" height="3.1" fill="#1d1d1b"/>
<rect x="519.8" y="350.2" width="36.2" height="3.1" fill="#1d1d1b"/>
<rect x="544.3" y="339.6" width="137.2" height="2" fill="#1d1d1b"/>
<rect x="558.5" y="342.3" width="42.5" height="4.7" fill="#1d1d1b"/>
<rect x="597" y="347.9" width="73" height="4.1" fill="#1d1d1b"/>
<rect x="666.6" y="341.6" width="3.4" height="10.4" fill="#1d1d1b"/>
<rect x="603" y="341.5" width="1.3" height="6.7" fill="#1d1d1b"/>
<rect x="649.5" y="341.5" width="1.3" height="6.7" fill="#1d1d1b"/>
<rect x="656" y="341.5" width="1.3" height="6.7" fill="#1d1d1b"/>
<rect x="562" y="343.4" width="3" height="2.2" fill="#fff"/>
<rect x="566" y="343.4" width="3" height="2.2" fill="#fff"/>
<rect x="570" y="343.4" width="3" height="2.2" fill="#fff"/>
<rect x="574" y="343.4" width="3" height="2.2" fill="#fff"/>
<rect x="578" y="343.4" width="3" height="2.2" fill="#fff"/>
<rect x="582" y="343.4" width="3" height="2.2" fill="#fff"/>
<rect x="586" y="343.4" width="3" height="2.2" fill="#fff"/>
<rect x="590" y="343.4" width="3" height="2.2" fill="#fff"/>
<rect x="594" y="343.4" width="3" height="2.2" fill="#fff"/>
<rect x="554.6" y="341.7" width="3.9" height="140.3" fill="#1d1d1b"/>
<rect x="618.2" y="383" width="3.4" height="25.7" fill="#1d1d1b"/>
<rect x="701" y="339" width="32.8" height="4" fill="#1d1d1b"/>
<rect x="730.5" y="339" width="3.3" height="143" fill="#1d1d1b"/>
<rect x="678" y="456.3" width="3" height="23.2" fill="#1d1d1b"/>
<rect x="797.4" y="456.3" width="3.4" height="23.2" fill="#1d1d1b"/>
<rect x="424.2" y="353.3" width="3.8" height="83.7" fill="#1d1d1b"/>
<rect x="109.4" y="337.9" width="3.1" height="27" fill="#1d1d1b"/>
<rect x="109.4" y="407.4" width="3.1" height="24.5" fill="#1d1d1b"/>
<rect x="217.6" y="294.9" width="3.4" height="137.1" fill="#1d1d1b"/>
<rect x="171.3" y="291.5" width="98.9" height="3.4" fill="#1d1d1b"/>
<rect x="289.5" y="291.5" width="48.5" height="3.5" fill="#1d1d1b"/>
<rect x="334.6" y="291.5" width="3.4" height="61.8" fill="#1d1d1b"/>
<rect x="334.6" y="350.2" width="115.4" height="3.1" fill="#1d1d1b"/>
<rect x="289.5" y="291.5" width="48.5" height="1.5" fill="#1d1d1b"/>
<rect x="281.3" y="337.9" width="3.1" height="27" fill="#1d1d1b"/>
<rect x="281.3" y="408.7" width="3.1" height="23.2" fill="#1d1d1b"/>
<rect x="368" y="408.7" width="4" height="23.2" fill="#1d1d1b"/>
<path d="M148 155 L151.5 155 L149.7 157.2 Z" fill="#1d1d1b" stroke="#1d1d1b" stroke-width="0.3"/>
<path d="M721 338.9 L724.5 338.9 L722.8 336.8 Z" fill="#1d1d1b" stroke="#1d1d1b" stroke-width="0.3"/>
<rect x="376.6" y="113.7" width="1.4" height="37.7" fill="#1d1d1b"/>
<path d="M709.8 189.8 L713.3 189.8 L711.5 192 Z" fill="#1d1d1b" stroke="#1d1d1b" stroke-width="0.3"/>
<rect x="135.7" y="213.8" width="11.8" height="13.2" fill="#1d1d1b"/>
<rect x="137" y="215.1" width="9.2" height="10.6" fill="#fff"/>
<path d="M137.6 224.5 L144.6 223.5 L145.6 216.1" fill="none" stroke="#8e8e8d" stroke-width="0.6"/>
<rect x="135.7" y="227" width="11.8" height="13.8" fill="#1d1d1b"/>
<rect x="137" y="228.3" width="9.2" height="11.2" fill="#fff"/>
<path d="M137.6 238.3 L144.6 237.3 L145.6 229.3" fill="none" stroke="#8e8e8d" stroke-width="0.6"/>
<rect x="141.6" y="175" width="9" height="13" fill="#1d1d1b"/>
<rect x="142.9" y="176.3" width="6.4" height="10.4" fill="#fff"/>
<path d="M143.5 185.5 L147.7 184.5 L148.7 177.3" fill="none" stroke="#8e8e8d" stroke-width="0.6"/>
<rect x="140.4" y="293.9" width="10.2" height="7.9" fill="#1d1d1b"/>
<rect x="141.7" y="295.2" width="7.6" height="5.3" fill="#fff"/>
<path d="M142.5 299.5 L145.9 298.9 L148.1 295.8" fill="none" stroke="#8e8e8d" stroke-width="0.6"/>
<rect x="520.4" y="185.5" width="11.4" height="36" fill="#1d1d1b"/>
<rect x="521.9" y="187" width="8.4" height="33" fill="#fff"/>
<rect x="710.5" y="209.6" width="10.3" height="20.4" fill="#1d1d1b"/>
<rect x="712.7" y="211.8" width="5.9" height="16" fill="#fff"/>
<path d="M713.3 226.6 L717 225.6 L718 212.8" fill="none" stroke="#8e8e8d" stroke-width="0.6"/>
<rect x="721" y="230" width="12.8" height="14.7" fill="#1d1d1b"/>
<rect x="722.4" y="231.4" width="10" height="11.9" fill="#fff"/>
<path d="M723 242.1 L730.8 241.1 L731.8 232.4" fill="none" stroke="#8e8e8d" stroke-width="0.6"/>
<rect x="721" y="290.2" width="10.2" height="29.6" fill="#1d1d1b"/>
<rect x="722.6" y="291.8" width="7" height="26.4" fill="#fff"/>
<path d="M723.2 317 L728 316 L729 292.8" fill="none" stroke="#8e8e8d" stroke-width="0.6"/>
<rect x="114.5" y="143" width="12.3" height="9.5" fill="#1d1d1b"/>
<rect x="115.8" y="144.3" width="9.7" height="6.9" fill="#fff"/>
<path d="M116.6 150.2 L122.1 149.6 L124.3 144.9" fill="none" stroke="#8e8e8d" stroke-width="0.6"/>
<rect x="195.9" y="142.5" width="36.3" height="11" fill="#1d1d1b"/>
<rect x="198.2" y="144.8" width="31.7" height="6.4" fill="#fff"/>
<path d="M199 150.2 L226.5 149.6 L228.7 145.4" fill="none" stroke="#8e8e8d" stroke-width="0.6"/>
<rect x="232.2" y="143.5" width="16.5" height="10" fill="#1d1d1b"/>
<rect x="233.8" y="145.1" width="13.3" height="6.8" fill="#fff"/>
<path d="M234.6 150.9 L243.7 150.3 L245.9 145.7" fill="none" stroke="#8e8e8d" stroke-width="0.6"/>
<rect x="251.7" y="144.5" width="18.2" height="9" fill="#1d1d1b"/>
<rect x="253.3" y="146.1" width="15" height="5.8" fill="#fff"/>
<path d="M254.1 150.9 L264.9 150.3 L267.1 146.7" fill="none" stroke="#8e8e8d" stroke-width="0.6"/>
<rect x="269.9" y="146.5" width="16.1" height="7" fill="#1d1d1b"/>
<rect x="272.1" y="148.7" width="11.7" height="2.6" fill="#fff"/>
<path d="M272.9 150.3 L280.4 149.7 L282.6 149.3" fill="none" stroke="#8e8e8d" stroke-width="0.6"/>
<rect x="286" y="144.5" width="16.1" height="9" fill="#1d1d1b"/>
<rect x="287.6" y="146.1" width="12.9" height="5.8" fill="#fff"/>
<path d="M288.4 150.9 L297.1 150.3 L299.3 146.7" fill="none" stroke="#8e8e8d" stroke-width="0.6"/>
<rect x="326.7" y="146.5" width="36.3" height="8" fill="#1d1d1b"/>
<rect x="329.5" y="149.3" width="32.5" height="2.5" fill="#fff"/>
<rect x="333" y="149.3" width="1" height="2.5" fill="#1d1d1b"/>
<rect x="337" y="149.3" width="1" height="2.5" fill="#1d1d1b"/>
<rect x="341" y="149.3" width="1" height="2.5" fill="#1d1d1b"/>
<rect x="345" y="149.3" width="1" height="2.5" fill="#1d1d1b"/>
<rect x="349" y="149.3" width="1" height="2.5" fill="#1d1d1b"/>
<rect x="353" y="149.3" width="1" height="2.5" fill="#1d1d1b"/>
<rect x="357" y="149.3" width="1" height="2.5" fill="#1d1d1b"/>
<rect x="352.8" y="135.6" width="10.2" height="11.4" fill="#1d1d1b"/>
<rect x="354.2" y="137" width="7.4" height="8.6" fill="#fff"/>
<path d="M354.8 144.4 L360 143.4 L361 138" fill="none" stroke="#8e8e8d" stroke-width="0.6"/>
<rect x="475.3" y="132.6" width="34.2" height="7.8" fill="#1d1d1b"/>
<rect x="476.6" y="133.9" width="31.6" height="5.2" fill="#fff"/>
<rect x="484.6" y="133" width="1.2" height="7" fill="#1d1d1b"/>
<rect x="493.5" y="133" width="1.2" height="7" fill="#1d1d1b"/>
<rect x="568.8" y="140.4" width="15.4" height="14.1" fill="#1d1d1b"/>
<rect x="570.3" y="141.9" width="12.4" height="11.1" fill="#fff"/>
<rect x="562.3" y="152" width="12.1" height="37.3" fill="#1d1d1b"/>
<rect x="563.8" y="153.5" width="9.1" height="34.3" fill="#fff"/>
<path d="M564.4 186.6 L571.3 185.6 L572.3 154.5" fill="none" stroke="#8e8e8d" stroke-width="0.6"/>
<rect x="653.2" y="180.3" width="13.4" height="7.2" fill="#1d1d1b"/>
<rect x="654.6" y="181.7" width="10.6" height="4.4" fill="#fff"/>
<rect x="726" y="137.8" width="26.6" height="16.2" fill="#1d1d1b"/>
<rect x="727.5" y="139.3" width="23.6" height="13.2" fill="#fff"/>
<rect x="737.7" y="137.8" width="3.3" height="16.2" fill="#1d1d1b"/>
<path d="M730 143 L731 146 L735 146 L736 143" fill="none" stroke="#8e8e8d" stroke-width="0.6"/>
<path d="M743 143 L744 146 L748 146 L749 143" fill="none" stroke="#8e8e8d" stroke-width="0.6"/>
<rect x="544.3" y="341.7" width="10.7" height="24.5" fill="#1d1d1b"/>
<rect x="545.8" y="343.2" width="7.7" height="21.5" fill="#fff"/>
<path d="M546.4 363.5 L551.9 362.5 L552.9 344.2" fill="none" stroke="#8e8e8d" stroke-width="0.6"/>
<rect x="558.5" y="348" width="9" height="8.5" fill="#1d1d1b"/>
<rect x="559.8" y="349.3" width="6.4" height="5.9" fill="#fff"/>
<path d="M560.6 354.2 L562.8 353.6 L565 349.9" fill="none" stroke="#8e8e8d" stroke-width="0.6"/>
<rect x="721.9" y="343" width="9.9" height="10.3" fill="#1d1d1b"/>
<rect x="723.3" y="344.4" width="7.1" height="7.5" fill="#fff"/>
<path d="M723.9 350.7 L728.8 349.7 L729.8 345.4" fill="none" stroke="#8e8e8d" stroke-width="0.6"/>
<rect x="733.8" y="402.8" width="11.1" height="15.4" fill="#1d1d1b"/>
<rect x="735.3" y="404.3" width="8.1" height="12.4" fill="#fff"/>
<path d="M735.9 415.5 L741.8 414.5 L742.8 405.3" fill="none" stroke="#8e8e8d" stroke-width="0.6"/>
<rect x="483.9" y="353.3" width="15.1" height="5.9" fill="#1d1d1b"/>
<rect x="485.2" y="354.6" width="12.5" height="3.3" fill="#fff"/>
<path d="M486 356.9 L494.3 356.3 L496.5 355.2" fill="none" stroke="#8e8e8d" stroke-width="0.6"/>
<rect x="413" y="353.3" width="25" height="11.3" fill="#1d1d1b"/>
<rect x="414.5" y="354.8" width="22" height="8.3" fill="#fff"/>
<rect x="424.2" y="353.3" width="3.8" height="11.3" fill="#1d1d1b"/>
<path d="M415 363 L421 362.4 L423 356" fill="none" stroke="#3a3a39" stroke-width="0.5"/>
<path d="M428.5 363 L434 362.4 L436 356" fill="none" stroke="#3a3a39" stroke-width="0.5"/>
<rect x="185" y="294.9" width="13" height="5.6" fill="#1d1d1b"/>
<rect x="186.2" y="296.1" width="10.6" height="3.2" fill="#fff"/>
<path d="M187 298.3 L193.4 297.7 L195.6 296.7" fill="none" stroke="#8e8e8d" stroke-width="0.6"/>
<rect x="199" y="294.9" width="18.6" height="5.6" fill="#1d1d1b"/>
<rect x="200.2" y="296.1" width="16.2" height="3.2" fill="#fff"/>
<path d="M201 298.3 L213 297.7 L215.2 296.7" fill="none" stroke="#8e8e8d" stroke-width="0.6"/>
<rect x="254.8" y="294.9" width="14.7" height="5.6" fill="#1d1d1b"/>
<rect x="256" y="296.1" width="12.3" height="3.2" fill="#fff"/>
<path d="M256.8 298.3 L264.9 297.7 L267.1 296.7" fill="none" stroke="#8e8e8d" stroke-width="0.6"/>
<rect x="220.8" y="294.4" width="13" height="9.1" fill="#1d1d1b"/>
<rect x="222.3" y="295.9" width="10" height="6.1" fill="#fff"/>
<path d="M223.1 301 L228.9 300.4 L231.1 296.5" fill="none" stroke="#8e8e8d" stroke-width="0.6"/>
<rect x="28.1" y="43.1" width="12.6" height="22.5" fill="#e84e0f"/>
<rect x="40.7" y="43.35" width="22" height="11.05" fill="#fff" stroke="#f6b9a0" stroke-width="0.5"/>
<rect x="40.7" y="54.4" width="22" height="10.95" fill="#fff" stroke="#f6b9a0" stroke-width="0.5"/>
<text x="34.4" y="59.17" font-size="13.6" text-anchor="middle" textLength="9.3" lengthAdjust="spacingAndGlyphs" fill="#fff" font-weight="bold">3</text>
<text x="54.2" y="52.04" font-size="9.6" text-anchor="middle" textLength="23.27" lengthAdjust="spacingAndGlyphs" fill="#1d1d1b" font-weight="bold">41,4</text>
<text x="54.2" y="63.04" font-size="9.6" text-anchor="middle" textLength="23.27" lengthAdjust="spacingAndGlyphs" fill="#1d1d1b" font-weight="bold">72,1</text>
<text x="47" y="77.22" font-size="7.6" text-anchor="middle" textLength="16.62" lengthAdjust="spacingAndGlyphs" fill="#3a3a39">16,1</text>
<text x="102.2" y="63.52" font-size="7.6" text-anchor="middle" textLength="16.62" lengthAdjust="spacingAndGlyphs" fill="#3a3a39">13,5</text>
<text x="45" y="140.32" font-size="7.6" text-anchor="middle" textLength="16.62" lengthAdjust="spacingAndGlyphs" fill="#3a3a39">11,2</text>
<text x="110.2" y="138.52" font-size="7.6" text-anchor="middle" textLength="11.87" lengthAdjust="spacingAndGlyphs" fill="#3a3a39">2,9</text>
<text x="120.3" y="172.72" font-size="7.6" text-anchor="middle" textLength="16.62" lengthAdjust="spacingAndGlyphs" fill="#3a3a39">10,0</text>
<text x="59.5" y="201.02" font-size="7.6" text-anchor="middle" textLength="16.62" lengthAdjust="spacingAndGlyphs" fill="#3a3a39">14,1</text>
<text x="120.3" y="212.42" font-size="7.6" text-anchor="middle" textLength="11.87" lengthAdjust="spacingAndGlyphs" fill="#3a3a39">4,3</text>
<text x="155.8" y="167.02" font-size="7.6" text-anchor="middle" textLength="4.75" lengthAdjust="spacingAndGlyphs" fill="#3a3a39">1</text>
<text x="185" y="163.22" font-size="7.6" text-anchor="middle" textLength="4.75" lengthAdjust="spacingAndGlyphs" fill="#3a3a39">2</text>
<rect x="199.7" y="43.1" width="12.6" height="22.5" fill="#e84e0f"/>
<rect x="212.3" y="43.35" width="22" height="11.05" fill="#fff" stroke="#f6b9a0" stroke-width="0.5"/>
<rect x="212.3" y="54.4" width="22" height="10.95" fill="#fff" stroke="#f6b9a0" stroke-width="0.5"/>
<text x="206" y="59.17" font-size="13.6" text-anchor="middle" textLength="9.3" lengthAdjust="spacingAndGlyphs" fill="#fff" font-weight="bold">1</text>
<text x="225.8" y="52.04" font-size="9.6" text-anchor="middle" textLength="23.27" lengthAdjust="spacingAndGlyphs" fill="#1d1d1b" font-weight="bold">16,8</text>
<text x="225.8" y="63.04" font-size="9.6" text-anchor="middle" textLength="23.27" lengthAdjust="spacingAndGlyphs" fill="#1d1d1b" font-weight="bold">44,5</text>
<text x="158.4" y="65.02" font-size="7.6" text-anchor="middle" textLength="16.62" lengthAdjust="spacingAndGlyphs" fill="#3a3a39">15,4</text>
<text x="218.4" y="77.02" font-size="7.6" text-anchor="middle" textLength="16.62" lengthAdjust="spacingAndGlyphs" fill="#3a3a39">16,8</text>
<text x="141.4" y="128.22" font-size="7.6" text-anchor="middle" textLength="11.87" lengthAdjust="spacingAndGlyphs" fill="#3a3a39">3,2</text>
<text x="185.9" y="127.12" font-size="7.6" text-anchor="middle" textLength="11.87" lengthAdjust="spacingAndGlyphs" fill="#3a3a39">5,5</text>
<text x="223" y="126.02" font-size="7.6" text-anchor="middle" textLength="11.87" lengthAdjust="spacingAndGlyphs" fill="#3a3a39">3,6</text>
<rect x="264.3" y="44.5" width="12.6" height="22.5" fill="#e84e0f"/>
<rect x="276.9" y="44.75" width="22" height="11.05" fill="#fff" stroke="#f6b9a0" stroke-width="0.5"/>
<rect x="276.9" y="55.8" width="22" height="10.95" fill="#fff" stroke="#f6b9a0" stroke-width="0.5"/>
<text x="270.6" y="60.57" font-size="13.6" text-anchor="middle" textLength="9.3" lengthAdjust="spacingAndGlyphs" fill="#fff" font-weight="bold">1</text>
<text x="290.4" y="53.44" font-size="9.6" text-anchor="middle" textLength="23.27" lengthAdjust="spacingAndGlyphs" fill="#1d1d1b" font-weight="bold">15,8</text>
<text x="290.4" y="64.44" font-size="9.6" text-anchor="middle" textLength="23.27" lengthAdjust="spacingAndGlyphs" fill="#1d1d1b" font-weight="bold">42,4</text>
<text x="280.5" y="77.02" font-size="7.6" text-anchor="middle" textLength="16.62" lengthAdjust="spacingAndGlyphs" fill="#3a3a39">15,8</text>
<text x="314.5" y="119.42" font-size="7.6" text-anchor="middle" textLength="11.87" lengthAdjust="spacingAndGlyphs" fill="#3a3a39">4,9</text>
<text x="276.7" y="127.42" font-size="7.6" text-anchor="middle" textLength="11.87" lengthAdjust="spacingAndGlyphs" fill="#3a3a39">3,7</text>
<text x="342.3" y="136.22" font-size="7.6" text-anchor="middle" textLength="11.87" lengthAdjust="spacingAndGlyphs" fill="#3a3a39">2,2</text>
<text x="315.8" y="163.22" font-size="7.6" text-anchor="middle" textLength="4.75" lengthAdjust="spacingAndGlyphs" fill="#3a3a39">3</text>
<rect x="641.4" y="94.7" width="12.6" height="22.5" fill="#e84e0f"/>
<rect x="654" y="94.95" width="22" height="11.05" fill="#fff" stroke="#f6b9a0" stroke-width="0.5"/>
<rect x="654" y="106" width="22" height="10.95" fill="#fff" stroke="#f6b9a0" stroke-width="0.5"/>
<text x="647.7" y="110.77" font-size="13.6" text-anchor="middle" textLength="9.3" lengthAdjust="spacingAndGlyphs" fill="#fff" font-weight="bold">2</text>
<text x="667.5" y="103.64" font-size="9.6" text-anchor="middle" textLength="23.27" lengthAdjust="spacingAndGlyphs" fill="#1d1d1b" font-weight="bold">29,3</text>
<text x="667.5" y="114.64" font-size="9.6" text-anchor="middle" textLength="23.27" lengthAdjust="spacingAndGlyphs" fill="#1d1d1b" font-weight="bold">63,4</text>
<text x="597.6" y="103.92" font-size="7.6" text-anchor="middle" textLength="16.62" lengthAdjust="spacingAndGlyphs" fill="#3a3a39">13,5</text>
<text x="658.9" y="127.62" font-size="7.6" text-anchor="middle" textLength="16.62" lengthAdjust="spacingAndGlyphs" fill="#3a3a39">15,8</text>
<text x="551.3" y="130.02" font-size="7.6" text-anchor="middle" textLength="11.87" lengthAdjust="spacingAndGlyphs" fill="#3a3a39">4,3</text>
<text x="598.4" y="161.12" font-size="7.6" text-anchor="middle" textLength="11.87" lengthAdjust="spacingAndGlyphs" fill="#3a3a39">4,2</text>
<text x="631.9" y="172.02" font-size="7.6" text-anchor="middle" textLength="11.87" lengthAdjust="spacingAndGlyphs" fill="#3a3a39">4,8</text>
<text x="531.4" y="172.72" font-size="7.6" text-anchor="middle" textLength="16.62" lengthAdjust="spacingAndGlyphs" fill="#3a3a39">29,5</text>
<text x="676.4" y="163.72" font-size="7.6" text-anchor="middle" textLength="11.87" lengthAdjust="spacingAndGlyphs" fill="#3a3a39">4,9</text>
<text x="721.5" y="178.42" font-size="7.6" text-anchor="middle" textLength="11.87" lengthAdjust="spacingAndGlyphs" fill="#3a3a39">3,1</text>
<text x="839.7" y="124.32" font-size="7.6" text-anchor="middle" textLength="16.62" lengthAdjust="spacingAndGlyphs" fill="#3a3a39">21,5</text>
<text x="766" y="178.42" font-size="7.6" text-anchor="middle" textLength="11.87" lengthAdjust="spacingAndGlyphs" fill="#3a3a39">3,4</text>
<text x="841.2" y="187.02" font-size="7.6" text-anchor="middle" textLength="16.62" lengthAdjust="spacingAndGlyphs" fill="#3a3a39">13,2</text>
<text x="825.8" y="245.42" font-size="7.6" text-anchor="middle" textLength="16.62" lengthAdjust="spacingAndGlyphs" fill="#3a3a39">18,6</text>
<text x="747" y="256.22" font-size="7.6" text-anchor="middle" textLength="11.87" lengthAdjust="spacingAndGlyphs" fill="#3a3a39">5,0</text>
<text x="584.2" y="267.02" font-size="7.6" text-anchor="middle" textLength="11.87" lengthAdjust="spacingAndGlyphs" fill="#3a3a39">3,8</text>
<text x="707.3" y="281.42" font-size="7.6" text-anchor="middle" textLength="11.87" lengthAdjust="spacingAndGlyphs" fill="#3a3a39">9,5</text>
<text x="446" y="256.62" font-size="7.6" text-anchor="middle" textLength="11.87" lengthAdjust="spacingAndGlyphs" fill="#3a3a39">9,6</text>
<text x="261.5" y="225.22" font-size="7.6" text-anchor="middle" textLength="16.62" lengthAdjust="spacingAndGlyphs" fill="#3a3a39">10,9</text>
<text x="392.5" y="337.52" font-size="7.6" text-anchor="middle" textLength="16.62" lengthAdjust="spacingAndGlyphs" fill="#3a3a39">31,4</text>
<text x="743.4" y="214.42" font-size="7.6" text-anchor="middle" textLength="16.62" lengthAdjust="spacingAndGlyphs" fill="#3a3a39">10,9</text>
<rect x="818.3" y="423.3" width="12.6" height="22.5" fill="#e84e0f"/>
<rect x="830.9" y="423.55" width="22" height="11.05" fill="#fff" stroke="#f6b9a0" stroke-width="0.5"/>
<rect x="830.9" y="434.6" width="22" height="10.95" fill="#fff" stroke="#f6b9a0" stroke-width="0.5"/>
<text x="824.6" y="439.37" font-size="13.6" text-anchor="middle" textLength="9.3" lengthAdjust="spacingAndGlyphs" fill="#fff" font-weight="bold">3</text>
<text x="844.4" y="432.24" font-size="9.6" text-anchor="middle" textLength="23.27" lengthAdjust="spacingAndGlyphs" fill="#1d1d1b" font-weight="bold">53,2</text>
<text x="844.4" y="443.24" font-size="9.6" text-anchor="middle" textLength="23.27" lengthAdjust="spacingAndGlyphs" fill="#1d1d1b" font-weight="bold">86,8</text>
<text x="757.5" y="301.22" font-size="7.6" text-anchor="middle" textLength="11.87" lengthAdjust="spacingAndGlyphs" fill="#3a3a39">3,9</text>
<text x="825.8" y="308.42" font-size="7.6" text-anchor="middle" textLength="16.62" lengthAdjust="spacingAndGlyphs" fill="#3a3a39">18,6</text>
<text x="768.6" y="349.62" font-size="7.6" text-anchor="middle" textLength="16.62" lengthAdjust="spacingAndGlyphs" fill="#3a3a39">14,0</text>
<text x="840.2" y="368.72" font-size="7.6" text-anchor="middle" textLength="16.62" lengthAdjust="spacingAndGlyphs" fill="#3a3a39">14,7</text>
<text x="756.2" y="399.12" font-size="7.6" text-anchor="middle" textLength="11.87" lengthAdjust="spacingAndGlyphs" fill="#3a3a39">3,9</text>
<text x="766.5" y="451.92" font-size="7.6" text-anchor="middle" textLength="16.62" lengthAdjust="spacingAndGlyphs" fill="#3a3a39">11,8</text>
<text x="838.1" y="457.82" font-size="7.6" text-anchor="middle" textLength="16.62" lengthAdjust="spacingAndGlyphs" fill="#3a3a39">19,9</text>
<text x="577.3" y="366.12" font-size="7.6" text-anchor="middle" textLength="11.87" lengthAdjust="spacingAndGlyphs" fill="#3a3a39">3,5</text>
<text x="621.8" y="369.52" font-size="7.6" text-anchor="middle" textLength="11.87" lengthAdjust="spacingAndGlyphs" fill="#3a3a39">4,0</text>
<text x="668.2" y="369.52" font-size="7.6" text-anchor="middle" textLength="11.87" lengthAdjust="spacingAndGlyphs" fill="#3a3a39">5,9</text>
<text x="712.4" y="370.42" font-size="7.6" text-anchor="middle" textLength="11.87" lengthAdjust="spacingAndGlyphs" fill="#3a3a39">2,8</text>
<text x="699.6" y="423.22" font-size="7.6" text-anchor="middle" textLength="16.62" lengthAdjust="spacingAndGlyphs" fill="#3a3a39">15,4</text>
<text x="459.3" y="376.22" font-size="7.6" text-anchor="middle" textLength="11.87" lengthAdjust="spacingAndGlyphs" fill="#3a3a39">4,3</text>
<text x="532.7" y="367.42" font-size="7.6" text-anchor="middle" textLength="11.87" lengthAdjust="spacingAndGlyphs" fill="#3a3a39">1,2</text>
<text x="534.8" y="389.32" font-size="7.6" text-anchor="middle" textLength="11.87" lengthAdjust="spacingAndGlyphs" fill="#3a3a39">2,4</text>
<text x="503.1" y="386.12" font-size="7.6" text-anchor="middle" textLength="11.87" lengthAdjust="spacingAndGlyphs" fill="#3a3a39">4,7</text>
<rect x="39.1" y="387.7" width="12.6" height="22.5" fill="#e84e0f"/>
<rect x="51.7" y="387.95" width="28.54" height="11.05" fill="#fff" stroke="#f6b9a0" stroke-width="0.5"/>
<rect x="51.7" y="399" width="28.54" height="10.95" fill="#fff" stroke="#f6b9a0" stroke-width="0.5"/>
<text x="45.4" y="403.77" font-size="13.6" text-anchor="middle" textLength="9.3" lengthAdjust="spacingAndGlyphs" fill="#fff" font-weight="bold">4</text>
<text x="68.47" y="396.64" font-size="9.6" text-anchor="middle" textLength="23.27" lengthAdjust="spacingAndGlyphs" fill="#1d1d1b" font-weight="bold">70,7</text>
<text x="68.47" y="407.64" font-size="9.6" text-anchor="middle" textLength="29.83" lengthAdjust="spacingAndGlyphs" fill="#1d1d1b" font-weight="bold">105,8</text>
<text x="120.3" y="254.12" font-size="7.6" text-anchor="middle" textLength="11.87" lengthAdjust="spacingAndGlyphs" fill="#3a3a39">4,8</text>
<text x="51.5" y="288.22" font-size="7.6" text-anchor="middle" textLength="16.62" lengthAdjust="spacingAndGlyphs" fill="#3a3a39">22,2</text>
<text x="130.8" y="293.82" font-size="7.6" text-anchor="middle" textLength="11.87" lengthAdjust="spacingAndGlyphs" fill="#3a3a39">3,1</text>
<text x="167.4" y="312.72" font-size="7.6" text-anchor="middle" textLength="11.87" lengthAdjust="spacingAndGlyphs" fill="#3a3a39">9,4</text>
<text x="202.2" y="313.22" font-size="7.6" text-anchor="middle" textLength="11.87" lengthAdjust="spacingAndGlyphs" fill="#3a3a39">2,3</text>
<text x="51" y="351.32" font-size="7.6" text-anchor="middle" textLength="16.62" lengthAdjust="spacingAndGlyphs" fill="#3a3a39">12,8</text>
<text x="148.6" y="383.02" font-size="7.6" text-anchor="middle" textLength="16.62" lengthAdjust="spacingAndGlyphs" fill="#3a3a39">18,8</text>
<text x="193.7" y="384.62" font-size="7.6" text-anchor="middle" textLength="16.62" lengthAdjust="spacingAndGlyphs" fill="#3a3a39">15,5</text>
<text x="61" y="420.82" font-size="7.6" text-anchor="middle" textLength="16.62" lengthAdjust="spacingAndGlyphs" fill="#3a3a39">16,9</text>
<text x="252.7" y="389.22" font-size="7.6" text-anchor="middle" textLength="16.62" lengthAdjust="spacingAndGlyphs" fill="#3a3a39">17,1</text>
<rect x="384.8" y="36.3" width="12.6" height="22.5" fill="#e84e0f"/>
<rect x="397.4" y="36.55" width="28.54" height="11.05" fill="#fff" stroke="#f6b9a0" stroke-width="0.5"/>
<rect x="397.4" y="47.6" width="28.54" height="10.95" fill="#fff" stroke="#f6b9a0" stroke-width="0.5"/>
<text x="391.1" y="52.37" font-size="13.6" text-anchor="middle" textLength="9.3" lengthAdjust="spacingAndGlyphs" fill="#fff" font-weight="bold">4</text>
<text x="414.17" y="45.24" font-size="9.6" text-anchor="middle" textLength="23.27" lengthAdjust="spacingAndGlyphs" fill="#1d1d1b" font-weight="bold">74,4</text>
<text x="414.17" y="56.24" font-size="9.6" text-anchor="middle" textLength="29.83" lengthAdjust="spacingAndGlyphs" fill="#1d1d1b" font-weight="bold">118,2</text>
<text x="334.6" y="51.02" font-size="7.6" text-anchor="middle" textLength="16.62" lengthAdjust="spacingAndGlyphs" fill="#3a3a39">15,8</text>
<text x="406.7" y="70.02" font-size="7.6" text-anchor="middle" textLength="16.62" lengthAdjust="spacingAndGlyphs" fill="#3a3a39">24,2</text>
<text x="481.7" y="63.52" font-size="7.6" text-anchor="middle" textLength="16.62" lengthAdjust="spacingAndGlyphs" fill="#3a3a39">15,4</text>
<text x="538.4" y="83.82" font-size="7.6" text-anchor="middle" textLength="11.87" lengthAdjust="spacingAndGlyphs" fill="#3a3a39">6,0</text>
<text x="500.5" y="116.62" font-size="7.6" text-anchor="middle" textLength="11.87" lengthAdjust="spacingAndGlyphs" fill="#3a3a39">5,9</text>
<text x="449" y="130.22" font-size="7.6" text-anchor="middle" textLength="11.87" lengthAdjust="spacingAndGlyphs" fill="#3a3a39">5,2</text>
<text x="678.5" y="198.52" font-size="7.6" text-anchor="middle" textLength="4.75" lengthAdjust="spacingAndGlyphs" fill="#3a3a39">4</text>
<text x="706.3" y="202.32" font-size="7.6" text-anchor="middle" textLength="4.75" lengthAdjust="spacingAndGlyphs" fill="#3a3a39">5</text>
<text x="713.2" y="110.42" font-size="7.6" text-anchor="middle" textLength="16.62" lengthAdjust="spacingAndGlyphs" fill="#3a3a39">12,8</text>
<text x="770.5" y="112.32" font-size="7.6" text-anchor="middle" textLength="16.62" lengthAdjust="spacingAndGlyphs" fill="#3a3a39">15,6</text>
<text x="161.5" y="287.02" font-size="7.6" text-anchor="middle" textLength="4.75" lengthAdjust="spacingAndGlyphs" fill="#3a3a39">9</text>
<text x="510.8" y="345.42" font-size="7.6" text-anchor="middle" textLength="4.75" lengthAdjust="spacingAndGlyphs" fill="#3a3a39">8</text>
<text x="690.8" y="336.42" font-size="7.6" text-anchor="middle" textLength="4.75" lengthAdjust="spacingAndGlyphs" fill="#3a3a39">7</text>
<text x="715.8" y="332.62" font-size="7.6" text-anchor="middle" textLength="4.75" lengthAdjust="spacingAndGlyphs" fill="#3a3a39">6</text>
<text x="456.7" y="433.82" font-size="7.6" text-anchor="middle" textLength="16.62" lengthAdjust="spacingAndGlyphs" fill="#3a3a39">16,7</text>
<text x="516.5" y="441.22" font-size="7.6" text-anchor="middle" textLength="16.62" lengthAdjust="spacingAndGlyphs" fill="#3a3a39">17,4</text>
<text x="586" y="433.52" font-size="7.6" text-anchor="middle" textLength="16.62" lengthAdjust="spacingAndGlyphs" fill="#3a3a39">17,2</text>
<text x="648.1" y="448.02" font-size="7.6" text-anchor="middle" textLength="16.62" lengthAdjust="spacingAndGlyphs" fill="#3a3a39">17,0</text>
<rect x="818.3" y="92.1" width="12.6" height="22.5" fill="#e84e0f"/>
<rect x="830.9" y="92.35" width="22" height="11.05" fill="#fff" stroke="#f6b9a0" stroke-width="0.5"/>
<rect x="830.9" y="103.4" width="22" height="10.95" fill="#fff" stroke="#f6b9a0" stroke-width="0.5"/>
<text x="824.6" y="108.17" font-size="13.6" text-anchor="middle" textLength="9.3" lengthAdjust="spacingAndGlyphs" fill="#fff" font-weight="bold">3</text>
<text x="844.4" y="101.04" font-size="9.6" text-anchor="middle" textLength="23.27" lengthAdjust="spacingAndGlyphs" fill="#1d1d1b" font-weight="bold">53,3</text>
<text x="844.4" y="112.04" font-size="9.6" text-anchor="middle" textLength="23.27" lengthAdjust="spacingAndGlyphs" fill="#1d1d1b" font-weight="bold">88,2</text>
<rect x="497.2" y="407" width="12.6" height="22.5" fill="#e84e0f"/>
<rect x="509.8" y="407.25" width="22" height="11.05" fill="#fff" stroke="#f6b9a0" stroke-width="0.5"/>
<rect x="509.8" y="418.3" width="22" height="10.95" fill="#fff" stroke="#f6b9a0" stroke-width="0.5"/>
<text x="503.5" y="423.07" font-size="13.6" text-anchor="middle" textLength="9.3" lengthAdjust="spacingAndGlyphs" fill="#fff" font-weight="bold">1</text>
<text x="523.3" y="415.94" font-size="9.6" text-anchor="middle" textLength="23.27" lengthAdjust="spacingAndGlyphs" fill="#1d1d1b" font-weight="bold">17,4</text>
<text x="523.3" y="426.94" font-size="9.6" text-anchor="middle" textLength="23.27" lengthAdjust="spacingAndGlyphs" fill="#1d1d1b" font-weight="bold">46,7</text>
<rect x="629.3" y="414.3" width="12.6" height="22.5" fill="#e84e0f"/>
<rect x="641.9" y="414.55" width="22" height="11.05" fill="#fff" stroke="#f6b9a0" stroke-width="0.5"/>
<rect x="641.9" y="425.6" width="22" height="10.95" fill="#fff" stroke="#f6b9a0" stroke-width="0.5"/>
<text x="635.6" y="430.37" font-size="13.6" text-anchor="middle" textLength="9.3" lengthAdjust="spacingAndGlyphs" fill="#fff" font-weight="bold">2</text>
<text x="655.4" y="423.24" font-size="9.6" text-anchor="middle" textLength="23.27" lengthAdjust="spacingAndGlyphs" fill="#1d1d1b" font-weight="bold">34,2</text>
<text x="655.4" y="434.24" font-size="9.6" text-anchor="middle" textLength="23.27" lengthAdjust="spacingAndGlyphs" fill="#1d1d1b" font-weight="bold">65,8</text>
<rect x="302.9" y="369.2" width="12.6" height="22.5" fill="#e84e0f"/>
<rect x="315.5" y="369.45" width="28.54" height="11.05" fill="#fff" stroke="#f6b9a0" stroke-width="0.5"/>
<rect x="315.5" y="380.5" width="28.54" height="10.95" fill="#fff" stroke="#f6b9a0" stroke-width="0.5"/>
<text x="309.2" y="385.27" font-size="13.6" text-anchor="middle" textLength="9.3" lengthAdjust="spacingAndGlyphs" fill="#fff" font-weight="bold">4</text>
<text x="332.27" y="378.14" font-size="9.6" text-anchor="middle" textLength="23.27" lengthAdjust="spacingAndGlyphs" fill="#1d1d1b" font-weight="bold">85,4</text>
<text x="332.27" y="389.14" font-size="9.6" text-anchor="middle" textLength="29.83" lengthAdjust="spacingAndGlyphs" fill="#1d1d1b" font-weight="bold">125,9</text>
<text x="248.2" y="321.72" font-size="7.6" text-anchor="middle" textLength="11.87" lengthAdjust="spacingAndGlyphs" fill="#3a3a39">4,6</text>
<text x="281.5" y="328.12" font-size="7.6" text-anchor="middle" textLength="11.87" lengthAdjust="spacingAndGlyphs" fill="#3a3a39">4,7</text>
<text x="326.1" y="403.12" font-size="7.6" text-anchor="middle" textLength="16.62" lengthAdjust="spacingAndGlyphs" fill="#3a3a39">22,2</text>
<text x="394.3" y="375.32" font-size="7.6" text-anchor="middle" textLength="11.87" lengthAdjust="spacingAndGlyphs" fill="#3a3a39">5,6</text>
<text x="400.3" y="406.72" font-size="7.6" text-anchor="middle" textLength="11.87" lengthAdjust="spacingAndGlyphs" fill="#3a3a39">6,6</text></g>
<path d="M15.8 960.5 L25.9 969.2 L37.6 963.1 L29.6 973.2 L34.9 985.3 L24.5 976.6 L13.1 982.6 L21.2 972.2 Z" fill="#dcdcdc"/>
<g transform="rotate(-8 12.4 954.4)">
<text x="12.4" y="955.99" font-size="6.4" text-anchor="middle" textLength="4.34" lengthAdjust="spacingAndGlyphs" fill="#2e2e2d">В</text>
</g>
<g transform="rotate(-8 44.4 958.4)">
<text x="44.4" y="959.99" font-size="6.4" text-anchor="middle" textLength="6.6" lengthAdjust="spacingAndGlyphs" fill="#2e2e2d">Ю</text>
</g>
<g transform="rotate(-8 7.1 986)">
<text x="7.1" y="987.59" font-size="6.4" text-anchor="middle" textLength="4.4" lengthAdjust="spacingAndGlyphs" fill="#2e2e2d">С</text>
</g>
<g transform="rotate(-8 39.3 990.7)">
<text x="39.3" y="992.29" font-size="6.4" text-anchor="middle" textLength="3.9" lengthAdjust="spacingAndGlyphs" fill="#2e2e2d">З</text>
</g>
</svg>
</body></html>
